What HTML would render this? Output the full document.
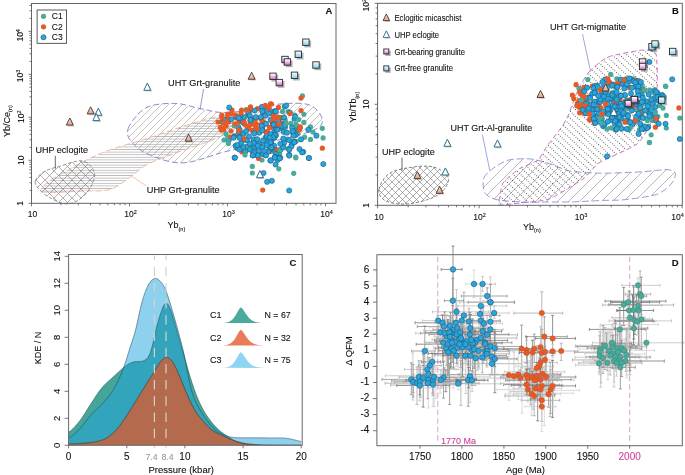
<!DOCTYPE html><html><head><meta charset="utf-8"><style>html,body{margin:0;padding:0;background:#fff;}svg{display:block;}text{font-family:"Liberation Sans", sans-serif;}</style></head><body>
<svg width="685" height="475" viewBox="0 0 685 475"><g opacity="0.999">
<defs>
<pattern id="hx" patternUnits="userSpaceOnUse" width="9" height="9"><path d="M0,0 L9,9 M9,0 L0,9" stroke="#7a7a7a" stroke-width="0.6"/></pattern>
<pattern id="hh" patternUnits="userSpaceOnUse" width="6" height="2.6"><path d="M0,1.3 L6,1.3" stroke="#8a8a8a" stroke-width="0.55"/></pattern>
<pattern id="hs" patternUnits="userSpaceOnUse" width="7" height="7"><path d="M-1,8 L8,-1 M-1,1 L1,-1 M6,8 L8,6" stroke="#999" stroke-width="0.55"/></pattern>
<pattern id="hs2" patternUnits="userSpaceOnUse" width="11" height="11"><path d="M-1,12 L12,-1 M-1,1 L1,-1 M10,12 L12,10" stroke="#8a8a8a" stroke-width="0.6"/></pattern>
<pattern id="hd" patternUnits="userSpaceOnUse" width="2.4" height="5.0" patternTransform="rotate(43)"><rect x="0.75" y="2.0" width="0.85" height="0.85" fill="#3a3a3a"/></pattern>
<pattern id="hxB" patternUnits="userSpaceOnUse" width="7" height="7"><path d="M0,0 L7,7 M7,0 L0,7" stroke="#777" stroke-width="0.6"/></pattern>
<linearGradient id="gp" x1="0" y1="0" x2="0" y2="1"><stop offset="0" stop-color="#ffffff"/><stop offset="0.35" stop-color="#f6dcf2"/><stop offset="1" stop-color="#c964bf"/></linearGradient>
<linearGradient id="gb" x1="0" y1="0" x2="0" y2="1"><stop offset="0" stop-color="#ffffff"/><stop offset="1" stop-color="#7fd0f3"/></linearGradient>
<linearGradient id="gt" x1="0" y1="0" x2="0" y2="1"><stop offset="0" stop-color="#fde9de"/><stop offset="1" stop-color="#ec9d77"/></linearGradient>
</defs>
<path d="M128.0,129.0 C130.1,123.1 137.9,112.3 145.7,108.0 C153.5,103.7 165.5,103.3 174.6,103.4 C183.7,103.5 192.1,107.0 200.0,108.5 C207.9,110.0 213.7,112.2 222.0,112.5 C230.3,112.8 240.3,111.4 250.0,110.0 C259.7,108.6 270.1,104.8 280.0,104.0 C289.9,103.2 302.4,102.4 309.5,105.0 C316.6,107.6 321.8,115.1 322.3,119.4 C322.8,123.7 321.4,126.8 312.7,130.6 C304.0,134.4 284.4,138.5 270.0,142.0 C255.6,145.5 240.3,148.0 226.0,151.5 C211.7,155.0 196.3,162.1 184.0,162.8 C171.7,163.6 160.5,159.2 152.0,156.0 C143.5,152.8 137.0,148.0 133.0,143.5 C129.0,139.0 125.9,134.9 128.0,129.0Z" fill="url(#hs)" stroke="#7d80c8" stroke-width="0.9" stroke-dasharray="6 3"/>
<path d="M44.0,192.0 C37.8,190.6 42.8,186.4 47.0,182.7 C51.2,178.9 61.7,173.7 69.0,169.5 C76.3,165.3 83.7,161.1 91.0,157.7 C98.3,154.2 103.4,152.1 113.0,148.8 C122.6,145.5 136.2,142.0 148.5,138.0 C160.8,134.0 176.1,128.5 187.0,125.0 C197.9,121.5 207.2,118.7 214.0,117.0 C220.8,115.3 225.0,113.2 228.0,115.0 C231.0,116.8 234.0,124.0 232.0,128.0 C230.0,131.9 224.0,135.0 216.0,138.7 C208.0,142.4 195.2,145.8 184.0,150.0 C172.8,154.2 157.7,159.2 148.5,163.9 C139.3,168.6 135.4,173.7 129.0,178.0 C122.6,182.3 117.5,187.3 110.0,189.5 C102.5,191.7 95.0,190.6 84.0,191.0 C73.0,191.4 50.2,193.4 44.0,192.0Z" fill="url(#hh)" stroke="#f0b49c" stroke-width="0.9" stroke-dasharray="6 3"/>
<path d="M35.3,181.1 C36.1,178.3 39.5,174.4 43.7,171.9 C47.9,169.4 54.0,167.8 60.5,166.0 C67.0,164.2 76.8,159.9 82.4,160.9 C88.0,161.9 92.8,167.6 94.2,171.9 C95.6,176.2 93.3,182.4 90.8,187.0 C88.3,191.6 83.2,196.9 79.0,199.7 C74.8,202.5 70.6,204.3 65.6,203.9 C60.5,203.5 53.2,199.6 48.7,197.1 C44.2,194.6 40.8,191.4 38.6,188.7 C36.4,186.0 34.4,183.9 35.3,181.1Z" fill="url(#hx)" stroke="#777" stroke-width="0.8" stroke-dasharray="3.5 2"/>
<line x1="55.3" y1="155.8" x2="55.3" y2="168.7" stroke="#444" stroke-width="0.8"/>
<text x="35.4" y="153.0" font-size="9.00" text-anchor="start" fill="#111111" stroke="#111111" stroke-width="0.1" font-weight="normal" textLength="52.6" lengthAdjust="spacingAndGlyphs" >UHP eclogite</text>
<line x1="132.4" y1="176.7" x2="146" y2="185.7" stroke="#f0b49c" stroke-width="0.8"/>
<text x="146.8" y="192.7" font-size="9.00" text-anchor="start" fill="#111111" stroke="#111111" stroke-width="0.1" font-weight="normal" textLength="72.9" lengthAdjust="spacingAndGlyphs" >UHP Grt-granulite</text>
<line x1="203.5" y1="89" x2="200" y2="109.8" stroke="#7d80c8" stroke-width="0.8"/>
<text x="168.0" y="86.2" font-size="9.00" text-anchor="start" fill="#111111" stroke="#111111" stroke-width="0.1" font-weight="normal" textLength="72.4" lengthAdjust="spacingAndGlyphs" >UHT Grt-granulite</text>
<circle cx="288.1" cy="111.5" r="2.60" fill="#4aaa9b"/>
<circle cx="247.2" cy="147.4" r="2.60" fill="#4aaa9b"/>
<circle cx="291.7" cy="141.9" r="2.60" fill="#4aaa9b"/>
<circle cx="283.1" cy="146.4" r="2.60" fill="#4aaa9b"/>
<circle cx="287.4" cy="139.2" r="2.60" fill="#4aaa9b"/>
<circle cx="290.9" cy="123.4" r="2.60" fill="#4aaa9b"/>
<circle cx="278.2" cy="150.4" r="2.60" fill="#4aaa9b"/>
<circle cx="273.2" cy="151.5" r="2.60" fill="#4aaa9b"/>
<circle cx="297.5" cy="126.7" r="2.60" fill="#4aaa9b"/>
<circle cx="296.2" cy="141.3" r="2.60" fill="#4aaa9b"/>
<circle cx="282.9" cy="128.5" r="2.60" fill="#4aaa9b"/>
<circle cx="294.8" cy="115.0" r="2.60" fill="#4aaa9b"/>
<circle cx="285.1" cy="120.2" r="2.60" fill="#4aaa9b"/>
<circle cx="288.0" cy="148.6" r="2.60" fill="#4aaa9b"/>
<circle cx="279.6" cy="153.8" r="2.60" fill="#4aaa9b"/>
<circle cx="234.7" cy="135.7" r="2.60" fill="#4aaa9b"/>
<circle cx="297.7" cy="133.8" r="2.60" fill="#4aaa9b"/>
<circle cx="241.1" cy="142.2" r="2.60" fill="#4aaa9b"/>
<circle cx="285.5" cy="127.2" r="2.60" fill="#4aaa9b"/>
<circle cx="221.8" cy="115.1" r="2.60" fill="#e65a28"/>
<circle cx="231.1" cy="113.6" r="2.60" fill="#e65a28"/>
<circle cx="262.9" cy="113.1" r="2.60" fill="#e65a28"/>
<circle cx="243.6" cy="121.7" r="2.60" fill="#e65a28"/>
<circle cx="278.0" cy="128.5" r="2.60" fill="#e65a28"/>
<circle cx="239.2" cy="135.9" r="2.60" fill="#e65a28"/>
<circle cx="250.3" cy="124.6" r="2.60" fill="#e65a28"/>
<circle cx="272.6" cy="147.4" r="2.60" fill="#e65a28"/>
<circle cx="234.7" cy="124.2" r="2.60" fill="#e65a28"/>
<circle cx="267.4" cy="131.6" r="2.60" fill="#e65a28"/>
<circle cx="271.0" cy="112.1" r="2.60" fill="#e65a28"/>
<circle cx="256.2" cy="123.6" r="2.60" fill="#e65a28"/>
<circle cx="239.0" cy="121.8" r="2.60" fill="#e65a28"/>
<circle cx="271.3" cy="111.5" r="2.60" fill="#e65a28"/>
<circle cx="250.4" cy="110.2" r="2.60" fill="#e65a28"/>
<circle cx="241.5" cy="110.0" r="2.60" fill="#e65a28"/>
<circle cx="263.5" cy="122.0" r="2.60" fill="#e65a28"/>
<circle cx="227.3" cy="117.6" r="2.60" fill="#e65a28"/>
<circle cx="248.0" cy="114.6" r="2.60" fill="#e65a28"/>
<circle cx="275.8" cy="119.3" r="2.60" fill="#e65a28"/>
<circle cx="269.4" cy="127.4" r="2.60" fill="#e65a28"/>
<circle cx="223.1" cy="128.6" r="2.60" fill="#e65a28"/>
<circle cx="278.4" cy="107.4" r="2.60" fill="#e65a28"/>
<circle cx="239.0" cy="131.5" r="2.60" fill="#e65a28"/>
<circle cx="244.4" cy="123.9" r="2.60" fill="#e65a28"/>
<circle cx="262.1" cy="129.1" r="2.60" fill="#e65a28"/>
<circle cx="270.1" cy="151.3" r="2.60" fill="#e65a28"/>
<circle cx="273.0" cy="125.4" r="2.60" fill="#e65a28"/>
<circle cx="276.4" cy="149.7" r="2.60" fill="#e65a28"/>
<circle cx="223.5" cy="129.8" r="2.60" fill="#e65a28"/>
<circle cx="257.5" cy="108.7" r="2.60" fill="#e65a28"/>
<circle cx="249.0" cy="128.5" r="2.60" fill="#e65a28"/>
<circle cx="250.2" cy="117.1" r="2.60" fill="#e65a28"/>
<circle cx="221.8" cy="121.8" r="2.60" fill="#e65a28"/>
<circle cx="221.3" cy="130.1" r="2.60" fill="#e65a28"/>
<circle cx="250.5" cy="106.9" r="2.60" fill="#e65a28"/>
<circle cx="255.3" cy="119.1" r="2.60" fill="#e65a28"/>
<circle cx="228.6" cy="121.9" r="2.60" fill="#e65a28"/>
<circle cx="241.9" cy="151.8" r="2.60" fill="#e65a28"/>
<circle cx="281.5" cy="123.4" r="2.60" fill="#e65a28"/>
<circle cx="240.0" cy="146.9" r="2.60" fill="#e65a28"/>
<circle cx="274.9" cy="123.1" r="2.60" fill="#e65a28"/>
<circle cx="260.9" cy="124.7" r="2.60" fill="#e65a28"/>
<circle cx="272.4" cy="123.6" r="2.60" fill="#e65a28"/>
<circle cx="255.7" cy="126.5" r="2.60" fill="#e65a28"/>
<circle cx="271.5" cy="113.3" r="2.60" fill="#e65a28"/>
<circle cx="280.8" cy="117.6" r="2.60" fill="#e65a28"/>
<circle cx="252.2" cy="151.3" r="2.60" fill="#e65a28"/>
<circle cx="278.4" cy="117.6" r="2.60" fill="#e65a28"/>
<circle cx="236.5" cy="117.9" r="2.60" fill="#e65a28"/>
<circle cx="224.0" cy="119.6" r="2.60" fill="#2aa5dc" stroke="#1b5c80" stroke-width="0.6"/>
<circle cx="245.1" cy="139.9" r="2.60" fill="#2aa5dc" stroke="#1b5c80" stroke-width="0.6"/>
<circle cx="268.4" cy="107.8" r="2.60" fill="#2aa5dc" stroke="#1b5c80" stroke-width="0.6"/>
<circle cx="291.7" cy="145.0" r="2.60" fill="#2aa5dc" stroke="#1b5c80" stroke-width="0.6"/>
<circle cx="283.0" cy="124.7" r="2.60" fill="#2aa5dc" stroke="#1b5c80" stroke-width="0.6"/>
<circle cx="279.2" cy="118.6" r="2.60" fill="#2aa5dc" stroke="#1b5c80" stroke-width="0.6"/>
<circle cx="265.2" cy="115.7" r="2.60" fill="#2aa5dc" stroke="#1b5c80" stroke-width="0.6"/>
<circle cx="280.3" cy="149.9" r="2.60" fill="#2aa5dc" stroke="#1b5c80" stroke-width="0.6"/>
<circle cx="271.0" cy="139.2" r="2.60" fill="#2aa5dc" stroke="#1b5c80" stroke-width="0.6"/>
<circle cx="254.1" cy="147.7" r="2.60" fill="#2aa5dc" stroke="#1b5c80" stroke-width="0.6"/>
<circle cx="294.6" cy="130.5" r="2.60" fill="#2aa5dc" stroke="#1b5c80" stroke-width="0.6"/>
<circle cx="291.3" cy="146.6" r="2.60" fill="#2aa5dc" stroke="#1b5c80" stroke-width="0.6"/>
<circle cx="275.3" cy="117.2" r="2.60" fill="#2aa5dc" stroke="#1b5c80" stroke-width="0.6"/>
<circle cx="258.8" cy="143.9" r="2.60" fill="#2aa5dc" stroke="#1b5c80" stroke-width="0.6"/>
<circle cx="263.4" cy="154.3" r="2.60" fill="#2aa5dc" stroke="#1b5c80" stroke-width="0.6"/>
<circle cx="237.3" cy="148.1" r="2.60" fill="#2aa5dc" stroke="#1b5c80" stroke-width="0.6"/>
<circle cx="276.1" cy="153.9" r="2.60" fill="#2aa5dc" stroke="#1b5c80" stroke-width="0.6"/>
<circle cx="262.3" cy="127.7" r="2.60" fill="#2aa5dc" stroke="#1b5c80" stroke-width="0.6"/>
<circle cx="284.7" cy="106.6" r="2.60" fill="#2aa5dc" stroke="#1b5c80" stroke-width="0.6"/>
<circle cx="270.2" cy="142.5" r="2.60" fill="#2aa5dc" stroke="#1b5c80" stroke-width="0.6"/>
<circle cx="277.4" cy="129.0" r="2.60" fill="#2aa5dc" stroke="#1b5c80" stroke-width="0.6"/>
<circle cx="275.9" cy="135.3" r="2.60" fill="#2aa5dc" stroke="#1b5c80" stroke-width="0.6"/>
<circle cx="284.1" cy="142.7" r="2.60" fill="#2aa5dc" stroke="#1b5c80" stroke-width="0.6"/>
<circle cx="246.9" cy="139.9" r="2.60" fill="#2aa5dc" stroke="#1b5c80" stroke-width="0.6"/>
<circle cx="261.2" cy="118.8" r="2.60" fill="#2aa5dc" stroke="#1b5c80" stroke-width="0.6"/>
<circle cx="293.1" cy="133.1" r="2.60" fill="#2aa5dc" stroke="#1b5c80" stroke-width="0.6"/>
<circle cx="294.5" cy="118.8" r="2.60" fill="#2aa5dc" stroke="#1b5c80" stroke-width="0.6"/>
<circle cx="255.1" cy="155.0" r="2.60" fill="#2aa5dc" stroke="#1b5c80" stroke-width="0.6"/>
<circle cx="278.3" cy="120.3" r="2.60" fill="#2aa5dc" stroke="#1b5c80" stroke-width="0.6"/>
<circle cx="252.8" cy="155.4" r="2.60" fill="#2aa5dc" stroke="#1b5c80" stroke-width="0.6"/>
<circle cx="238.8" cy="132.1" r="2.60" fill="#2aa5dc" stroke="#1b5c80" stroke-width="0.6"/>
<circle cx="253.6" cy="139.4" r="2.60" fill="#2aa5dc" stroke="#1b5c80" stroke-width="0.6"/>
<circle cx="239.9" cy="118.6" r="2.60" fill="#2aa5dc" stroke="#1b5c80" stroke-width="0.6"/>
<circle cx="238.5" cy="127.3" r="2.60" fill="#2aa5dc" stroke="#1b5c80" stroke-width="0.6"/>
<circle cx="264.7" cy="140.6" r="2.60" fill="#2aa5dc" stroke="#1b5c80" stroke-width="0.6"/>
<circle cx="267.3" cy="142.1" r="2.60" fill="#2aa5dc" stroke="#1b5c80" stroke-width="0.6"/>
<circle cx="271.2" cy="141.4" r="2.60" fill="#2aa5dc" stroke="#1b5c80" stroke-width="0.6"/>
<circle cx="223.0" cy="122.6" r="2.60" fill="#2aa5dc" stroke="#1b5c80" stroke-width="0.6"/>
<circle cx="255.3" cy="150.6" r="2.60" fill="#2aa5dc" stroke="#1b5c80" stroke-width="0.6"/>
<circle cx="245.3" cy="151.7" r="2.60" fill="#2aa5dc" stroke="#1b5c80" stroke-width="0.6"/>
<circle cx="262.1" cy="147.0" r="2.60" fill="#2aa5dc" stroke="#1b5c80" stroke-width="0.6"/>
<circle cx="274.4" cy="130.6" r="2.60" fill="#2aa5dc" stroke="#1b5c80" stroke-width="0.6"/>
<circle cx="251.8" cy="144.2" r="2.60" fill="#2aa5dc" stroke="#1b5c80" stroke-width="0.6"/>
<circle cx="283.6" cy="131.8" r="2.60" fill="#2aa5dc" stroke="#1b5c80" stroke-width="0.6"/>
<circle cx="271.6" cy="144.5" r="2.60" fill="#2aa5dc" stroke="#1b5c80" stroke-width="0.6"/>
<circle cx="248.2" cy="112.3" r="2.60" fill="#2aa5dc" stroke="#1b5c80" stroke-width="0.6"/>
<circle cx="233.9" cy="136.7" r="2.60" fill="#2aa5dc" stroke="#1b5c80" stroke-width="0.6"/>
<circle cx="278.4" cy="128.6" r="2.60" fill="#2aa5dc" stroke="#1b5c80" stroke-width="0.6"/>
<circle cx="235.9" cy="116.2" r="2.60" fill="#2aa5dc" stroke="#1b5c80" stroke-width="0.6"/>
<circle cx="295.7" cy="134.9" r="2.60" fill="#2aa5dc" stroke="#1b5c80" stroke-width="0.6"/>
<circle cx="263.8" cy="110.3" r="2.60" fill="#2aa5dc" stroke="#1b5c80" stroke-width="0.6"/>
<circle cx="300.0" cy="127.8" r="2.60" fill="#2aa5dc" stroke="#1b5c80" stroke-width="0.6"/>
<circle cx="294.2" cy="141.6" r="2.60" fill="#2aa5dc" stroke="#1b5c80" stroke-width="0.6"/>
<circle cx="250.9" cy="119.8" r="2.60" fill="#2aa5dc" stroke="#1b5c80" stroke-width="0.6"/>
<circle cx="251.5" cy="120.2" r="2.60" fill="#2aa5dc" stroke="#1b5c80" stroke-width="0.6"/>
<circle cx="258.3" cy="153.6" r="2.60" fill="#2aa5dc" stroke="#1b5c80" stroke-width="0.6"/>
<circle cx="293.5" cy="131.9" r="2.60" fill="#2aa5dc" stroke="#1b5c80" stroke-width="0.6"/>
<circle cx="241.4" cy="118.7" r="2.60" fill="#2aa5dc" stroke="#1b5c80" stroke-width="0.6"/>
<circle cx="289.9" cy="112.6" r="2.60" fill="#2aa5dc" stroke="#1b5c80" stroke-width="0.6"/>
<circle cx="254.7" cy="110.6" r="2.60" fill="#2aa5dc" stroke="#1b5c80" stroke-width="0.6"/>
<circle cx="282.2" cy="126.0" r="2.60" fill="#2aa5dc" stroke="#1b5c80" stroke-width="0.6"/>
<circle cx="235.6" cy="145.9" r="2.60" fill="#2aa5dc" stroke="#1b5c80" stroke-width="0.6"/>
<circle cx="259.3" cy="132.7" r="2.60" fill="#2aa5dc" stroke="#1b5c80" stroke-width="0.6"/>
<circle cx="267.6" cy="134.4" r="2.60" fill="#2aa5dc" stroke="#1b5c80" stroke-width="0.6"/>
<circle cx="228.7" cy="140.6" r="2.60" fill="#2aa5dc" stroke="#1b5c80" stroke-width="0.6"/>
<circle cx="271.9" cy="146.5" r="2.60" fill="#2aa5dc" stroke="#1b5c80" stroke-width="0.6"/>
<circle cx="239.7" cy="130.2" r="2.60" fill="#2aa5dc" stroke="#1b5c80" stroke-width="0.6"/>
<circle cx="270.6" cy="119.7" r="2.60" fill="#2aa5dc" stroke="#1b5c80" stroke-width="0.6"/>
<circle cx="284.9" cy="125.6" r="2.60" fill="#2aa5dc" stroke="#1b5c80" stroke-width="0.6"/>
<circle cx="269.8" cy="147.9" r="2.60" fill="#2aa5dc" stroke="#1b5c80" stroke-width="0.6"/>
<circle cx="295.2" cy="116.6" r="2.60" fill="#2aa5dc" stroke="#1b5c80" stroke-width="0.6"/>
<circle cx="246.6" cy="146.7" r="2.60" fill="#2aa5dc" stroke="#1b5c80" stroke-width="0.6"/>
<circle cx="265.8" cy="137.6" r="2.60" fill="#2aa5dc" stroke="#1b5c80" stroke-width="0.6"/>
<circle cx="254.5" cy="130.8" r="2.60" fill="#2aa5dc" stroke="#1b5c80" stroke-width="0.6"/>
<circle cx="266.9" cy="135.9" r="2.60" fill="#2aa5dc" stroke="#1b5c80" stroke-width="0.6"/>
<circle cx="243.1" cy="122.5" r="2.60" fill="#2aa5dc" stroke="#1b5c80" stroke-width="0.6"/>
<circle cx="271.8" cy="148.9" r="2.60" fill="#2aa5dc" stroke="#1b5c80" stroke-width="0.6"/>
<circle cx="261.9" cy="106.9" r="2.60" fill="#2aa5dc" stroke="#1b5c80" stroke-width="0.6"/>
<circle cx="243.5" cy="133.7" r="2.60" fill="#2aa5dc" stroke="#1b5c80" stroke-width="0.6"/>
<circle cx="271.6" cy="111.7" r="2.60" fill="#2aa5dc" stroke="#1b5c80" stroke-width="0.6"/>
<circle cx="274.4" cy="138.0" r="2.60" fill="#2aa5dc" stroke="#1b5c80" stroke-width="0.6"/>
<circle cx="246.1" cy="109.7" r="2.60" fill="#4aaa9b"/>
<circle cx="234.3" cy="126.0" r="2.60" fill="#4aaa9b"/>
<circle cx="227.7" cy="137.0" r="2.60" fill="#4aaa9b"/>
<circle cx="228.4" cy="143.6" r="2.60" fill="#4aaa9b"/>
<circle cx="248.3" cy="147.3" r="2.60" fill="#4aaa9b"/>
<circle cx="302.4" cy="95.9" r="2.60" fill="#4aaa9b"/>
<circle cx="282.5" cy="111.4" r="2.60" fill="#4aaa9b"/>
<circle cx="303.9" cy="114.3" r="2.60" fill="#4aaa9b"/>
<circle cx="298.7" cy="119.5" r="2.60" fill="#4aaa9b"/>
<circle cx="303.9" cy="122.4" r="2.60" fill="#4aaa9b"/>
<circle cx="286.2" cy="123.2" r="2.60" fill="#4aaa9b"/>
<circle cx="310.5" cy="126.8" r="2.60" fill="#4aaa9b"/>
<circle cx="322.3" cy="128.3" r="2.60" fill="#4aaa9b"/>
<circle cx="323.1" cy="137.9" r="2.60" fill="#4aaa9b"/>
<circle cx="310.5" cy="139.4" r="2.60" fill="#4aaa9b"/>
<circle cx="304.6" cy="137.2" r="2.60" fill="#4aaa9b"/>
<circle cx="295.8" cy="157.8" r="2.60" fill="#4aaa9b"/>
<circle cx="252.3" cy="166.4" r="2.60" fill="#4aaa9b"/>
<circle cx="252.3" cy="173.0" r="2.60" fill="#4aaa9b"/>
<circle cx="278.8" cy="168.8" r="2.60" fill="#4aaa9b"/>
<circle cx="295.7" cy="157.2" r="2.60" fill="#4aaa9b"/>
<circle cx="293.7" cy="173.3" r="2.60" fill="#4aaa9b"/>
<circle cx="226.0" cy="134.0" r="2.60" fill="#4aaa9b"/>
<circle cx="224.0" cy="140.0" r="2.60" fill="#4aaa9b"/>
<circle cx="296.0" cy="124.0" r="2.60" fill="#4aaa9b"/>
<circle cx="313.0" cy="132.0" r="2.60" fill="#4aaa9b"/>
<circle cx="280.0" cy="150.0" r="2.60" fill="#4aaa9b"/>
<circle cx="262.0" cy="160.0" r="2.60" fill="#4aaa9b"/>
<circle cx="245.0" cy="155.0" r="2.60" fill="#4aaa9b"/>
<circle cx="273.4" cy="120.8" r="2.60" fill="#e65a28"/>
<circle cx="230.6" cy="137.0" r="2.60" fill="#e65a28"/>
<circle cx="241.0" cy="113.4" r="2.60" fill="#e65a28"/>
<circle cx="221.8" cy="117.8" r="2.60" fill="#e65a28"/>
<circle cx="301.0" cy="98.1" r="2.60" fill="#e65a28"/>
<circle cx="273.0" cy="120.2" r="2.60" fill="#e65a28"/>
<circle cx="270.4" cy="103.8" r="2.60" fill="#e65a28"/>
<circle cx="277.8" cy="117.1" r="2.60" fill="#e65a28"/>
<circle cx="246.8" cy="126.0" r="2.60" fill="#e65a28"/>
<circle cx="231.0" cy="131.0" r="2.60" fill="#e65a28"/>
<circle cx="243.9" cy="138.5" r="2.60" fill="#e65a28"/>
<circle cx="244.0" cy="122.0" r="2.60" fill="#e65a28"/>
<circle cx="218.0" cy="122.0" r="2.60" fill="#e65a28"/>
<circle cx="322.3" cy="148.2" r="2.60" fill="#e65a28"/>
<circle cx="247.0" cy="110.0" r="2.60" fill="#e65a28"/>
<circle cx="300.2" cy="126.8" r="2.60" fill="#e65a28"/>
<circle cx="238.7" cy="130.4" r="2.60" fill="#e65a28"/>
<circle cx="227.0" cy="121.5" r="2.60" fill="#e65a28"/>
<circle cx="269.0" cy="108.3" r="2.60" fill="#e65a28"/>
<circle cx="262.0" cy="120.0" r="2.60" fill="#e65a28"/>
<circle cx="278.8" cy="117.3" r="2.60" fill="#e65a28"/>
<circle cx="299.5" cy="129.8" r="2.60" fill="#e65a28"/>
<circle cx="278.8" cy="123.9" r="2.60" fill="#e65a28"/>
<circle cx="254.2" cy="124.5" r="2.60" fill="#e65a28"/>
<circle cx="235.0" cy="114.9" r="2.60" fill="#e65a28"/>
<circle cx="271.5" cy="104.0" r="2.60" fill="#e65a28"/>
<circle cx="226.2" cy="126.0" r="2.60" fill="#e65a28"/>
<circle cx="266.0" cy="131.9" r="2.60" fill="#e65a28"/>
<circle cx="236.0" cy="124.0" r="2.60" fill="#e65a28"/>
<circle cx="270.4" cy="127.4" r="2.60" fill="#e65a28"/>
<circle cx="232.0" cy="110.0" r="2.60" fill="#e65a28"/>
<circle cx="301.0" cy="110.6" r="2.60" fill="#e65a28"/>
<circle cx="257.2" cy="128.9" r="2.60" fill="#e65a28"/>
<circle cx="224.0" cy="123.0" r="2.60" fill="#e65a28"/>
<circle cx="289.9" cy="113.6" r="2.60" fill="#e65a28"/>
<circle cx="250.0" cy="121.0" r="2.60" fill="#e65a28"/>
<circle cx="227.7" cy="114.2" r="2.60" fill="#e65a28"/>
<circle cx="252.0" cy="130.4" r="2.60" fill="#e65a28"/>
<circle cx="262.7" cy="190.1" r="2.60" fill="#e65a28"/>
<circle cx="258.6" cy="158.4" r="2.60" fill="#e65a28"/>
<circle cx="265.3" cy="105.3" r="2.60" fill="#e65a28"/>
<circle cx="273.4" cy="115.6" r="2.60" fill="#e65a28"/>
<circle cx="276.3" cy="124.5" r="2.60" fill="#e65a28"/>
<circle cx="220.3" cy="127.4" r="2.60" fill="#e65a28"/>
<circle cx="266.0" cy="123.7" r="2.60" fill="#2aa5dc" stroke="#1b5c80" stroke-width="0.6"/>
<circle cx="294.3" cy="142.3" r="2.60" fill="#2aa5dc" stroke="#1b5c80" stroke-width="0.6"/>
<circle cx="275.6" cy="164.5" r="2.60" fill="#2aa5dc" stroke="#1b5c80" stroke-width="0.6"/>
<circle cx="270.4" cy="160.6" r="2.60" fill="#2aa5dc" stroke="#1b5c80" stroke-width="0.6"/>
<circle cx="276.3" cy="129.6" r="2.60" fill="#2aa5dc" stroke="#1b5c80" stroke-width="0.6"/>
<circle cx="316.4" cy="135.7" r="2.60" fill="#2aa5dc" stroke="#1b5c80" stroke-width="0.6"/>
<circle cx="287.0" cy="132.7" r="2.60" fill="#2aa5dc" stroke="#1b5c80" stroke-width="0.6"/>
<circle cx="273.4" cy="124.5" r="2.60" fill="#2aa5dc" stroke="#1b5c80" stroke-width="0.6"/>
<circle cx="303.2" cy="151.9" r="2.60" fill="#2aa5dc" stroke="#1b5c80" stroke-width="0.6"/>
<circle cx="241.0" cy="143.6" r="2.60" fill="#2aa5dc" stroke="#1b5c80" stroke-width="0.6"/>
<circle cx="280.3" cy="157.8" r="2.60" fill="#2aa5dc" stroke="#1b5c80" stroke-width="0.6"/>
<circle cx="257.9" cy="145.8" r="2.60" fill="#2aa5dc" stroke="#1b5c80" stroke-width="0.6"/>
<circle cx="273.7" cy="124.6" r="2.60" fill="#2aa5dc" stroke="#1b5c80" stroke-width="0.6"/>
<circle cx="274.1" cy="145.8" r="2.60" fill="#2aa5dc" stroke="#1b5c80" stroke-width="0.6"/>
<circle cx="308.8" cy="158.0" r="2.60" fill="#2aa5dc" stroke="#1b5c80" stroke-width="0.6"/>
<circle cx="270.8" cy="160.4" r="2.60" fill="#2aa5dc" stroke="#1b5c80" stroke-width="0.6"/>
<circle cx="249.8" cy="115.6" r="2.60" fill="#2aa5dc" stroke="#1b5c80" stroke-width="0.6"/>
<circle cx="302.1" cy="152.4" r="2.60" fill="#2aa5dc" stroke="#1b5c80" stroke-width="0.6"/>
<circle cx="309.0" cy="158.1" r="2.60" fill="#2aa5dc" stroke="#1b5c80" stroke-width="0.6"/>
<circle cx="289.2" cy="154.8" r="2.60" fill="#2aa5dc" stroke="#1b5c80" stroke-width="0.6"/>
<circle cx="249.0" cy="136.3" r="2.60" fill="#2aa5dc" stroke="#1b5c80" stroke-width="0.6"/>
<circle cx="289.2" cy="190.5" r="2.60" fill="#2aa5dc" stroke="#1b5c80" stroke-width="0.6"/>
<circle cx="277.8" cy="159.8" r="2.60" fill="#2aa5dc" stroke="#1b5c80" stroke-width="0.6"/>
<circle cx="270.4" cy="142.2" r="2.60" fill="#2aa5dc" stroke="#1b5c80" stroke-width="0.6"/>
<circle cx="243.2" cy="147.3" r="2.60" fill="#2aa5dc" stroke="#1b5c80" stroke-width="0.6"/>
<circle cx="233.6" cy="137.7" r="2.60" fill="#2aa5dc" stroke="#1b5c80" stroke-width="0.6"/>
<circle cx="266.7" cy="145.1" r="2.60" fill="#2aa5dc" stroke="#1b5c80" stroke-width="0.6"/>
<circle cx="262.3" cy="147.3" r="2.60" fill="#2aa5dc" stroke="#1b5c80" stroke-width="0.6"/>
<circle cx="292.1" cy="127.6" r="2.60" fill="#2aa5dc" stroke="#1b5c80" stroke-width="0.6"/>
<circle cx="238.7" cy="117.8" r="2.60" fill="#2aa5dc" stroke="#1b5c80" stroke-width="0.6"/>
<circle cx="260.8" cy="117.1" r="2.60" fill="#2aa5dc" stroke="#1b5c80" stroke-width="0.6"/>
<circle cx="249.8" cy="149.5" r="2.60" fill="#2aa5dc" stroke="#1b5c80" stroke-width="0.6"/>
<circle cx="301.0" cy="139.4" r="2.60" fill="#2aa5dc" stroke="#1b5c80" stroke-width="0.6"/>
<circle cx="262.3" cy="111.2" r="2.60" fill="#2aa5dc" stroke="#1b5c80" stroke-width="0.6"/>
<circle cx="268.9" cy="113.4" r="2.60" fill="#2aa5dc" stroke="#1b5c80" stroke-width="0.6"/>
<circle cx="293.6" cy="135.7" r="2.60" fill="#2aa5dc" stroke="#1b5c80" stroke-width="0.6"/>
<circle cx="254.2" cy="152.5" r="2.60" fill="#2aa5dc" stroke="#1b5c80" stroke-width="0.6"/>
<circle cx="229.2" cy="107.5" r="2.60" fill="#2aa5dc" stroke="#1b5c80" stroke-width="0.6"/>
<circle cx="271.9" cy="148.0" r="2.60" fill="#2aa5dc" stroke="#1b5c80" stroke-width="0.6"/>
<circle cx="239.5" cy="149.5" r="2.60" fill="#2aa5dc" stroke="#1b5c80" stroke-width="0.6"/>
<circle cx="308.3" cy="129.8" r="2.60" fill="#2aa5dc" stroke="#1b5c80" stroke-width="0.6"/>
<circle cx="274.8" cy="134.8" r="2.60" fill="#2aa5dc" stroke="#1b5c80" stroke-width="0.6"/>
<circle cx="286.2" cy="105.5" r="2.60" fill="#2aa5dc" stroke="#1b5c80" stroke-width="0.6"/>
<circle cx="253.5" cy="142.9" r="2.60" fill="#2aa5dc" stroke="#1b5c80" stroke-width="0.6"/>
<circle cx="268.2" cy="151.7" r="2.60" fill="#2aa5dc" stroke="#1b5c80" stroke-width="0.6"/>
<circle cx="250.5" cy="120.0" r="2.60" fill="#2aa5dc" stroke="#1b5c80" stroke-width="0.6"/>
<circle cx="246.1" cy="131.1" r="2.60" fill="#2aa5dc" stroke="#1b5c80" stroke-width="0.6"/>
<circle cx="263.5" cy="173.0" r="2.60" fill="#2aa5dc" stroke="#1b5c80" stroke-width="0.6"/>
<circle cx="271.5" cy="147.5" r="2.60" fill="#2aa5dc" stroke="#1b5c80" stroke-width="0.6"/>
<circle cx="234.6" cy="157.7" r="2.60" fill="#2aa5dc" stroke="#1b5c80" stroke-width="0.6"/>
<circle cx="239.5" cy="137.7" r="2.60" fill="#2aa5dc" stroke="#1b5c80" stroke-width="0.6"/>
<circle cx="283.3" cy="138.6" r="2.60" fill="#2aa5dc" stroke="#1b5c80" stroke-width="0.6"/>
<circle cx="283.3" cy="147.5" r="2.60" fill="#2aa5dc" stroke="#1b5c80" stroke-width="0.6"/>
<circle cx="274.8" cy="111.2" r="2.60" fill="#2aa5dc" stroke="#1b5c80" stroke-width="0.6"/>
<circle cx="277.4" cy="129.8" r="2.60" fill="#2aa5dc" stroke="#1b5c80" stroke-width="0.6"/>
<circle cx="275.2" cy="157.0" r="2.60" fill="#2aa5dc" stroke="#1b5c80" stroke-width="0.6"/>
<circle cx="263.0" cy="153.9" r="2.60" fill="#2aa5dc" stroke="#1b5c80" stroke-width="0.6"/>
<circle cx="270.4" cy="134.0" r="2.60" fill="#2aa5dc" stroke="#1b5c80" stroke-width="0.6"/>
<circle cx="254.2" cy="133.3" r="2.60" fill="#2aa5dc" stroke="#1b5c80" stroke-width="0.6"/>
<circle cx="261.6" cy="125.9" r="2.60" fill="#2aa5dc" stroke="#1b5c80" stroke-width="0.6"/>
<circle cx="284.0" cy="117.3" r="2.60" fill="#2aa5dc" stroke="#1b5c80" stroke-width="0.6"/>
<circle cx="231.4" cy="119.3" r="2.60" fill="#2aa5dc" stroke="#1b5c80" stroke-width="0.6"/>
<circle cx="273.0" cy="137.2" r="2.60" fill="#2aa5dc" stroke="#1b5c80" stroke-width="0.6"/>
<circle cx="255.7" cy="117.1" r="2.60" fill="#2aa5dc" stroke="#1b5c80" stroke-width="0.6"/>
<circle cx="249.8" cy="143.6" r="2.60" fill="#2aa5dc" stroke="#1b5c80" stroke-width="0.6"/>
<circle cx="289.2" cy="140.1" r="2.60" fill="#2aa5dc" stroke="#1b5c80" stroke-width="0.6"/>
<circle cx="258.6" cy="151.0" r="2.60" fill="#2aa5dc" stroke="#1b5c80" stroke-width="0.6"/>
<circle cx="252.7" cy="155.4" r="2.60" fill="#2aa5dc" stroke="#1b5c80" stroke-width="0.6"/>
<circle cx="274.8" cy="157.2" r="2.60" fill="#2aa5dc" stroke="#1b5c80" stroke-width="0.6"/>
<circle cx="264.5" cy="151.0" r="2.60" fill="#2aa5dc" stroke="#1b5c80" stroke-width="0.6"/>
<circle cx="275.9" cy="111.4" r="2.60" fill="#2aa5dc" stroke="#1b5c80" stroke-width="0.6"/>
<circle cx="267.1" cy="181.8" r="2.60" fill="#2aa5dc" stroke="#1b5c80" stroke-width="0.6"/>
<circle cx="266.0" cy="155.4" r="2.60" fill="#2aa5dc" stroke="#1b5c80" stroke-width="0.6"/>
<circle cx="292.8" cy="131.3" r="2.60" fill="#2aa5dc" stroke="#1b5c80" stroke-width="0.6"/>
<circle cx="280.3" cy="143.8" r="2.60" fill="#2aa5dc" stroke="#1b5c80" stroke-width="0.6"/>
<circle cx="289.2" cy="149.7" r="2.60" fill="#2aa5dc" stroke="#1b5c80" stroke-width="0.6"/>
<circle cx="237.3" cy="145.1" r="2.60" fill="#2aa5dc" stroke="#1b5c80" stroke-width="0.6"/>
<circle cx="269.7" cy="137.7" r="2.60" fill="#2aa5dc" stroke="#1b5c80" stroke-width="0.6"/>
<circle cx="279.6" cy="158.4" r="2.60" fill="#2aa5dc" stroke="#1b5c80" stroke-width="0.6"/>
<circle cx="274.8" cy="157.6" r="2.60" fill="#2aa5dc" stroke="#1b5c80" stroke-width="0.6"/>
<circle cx="323.3" cy="164.1" r="2.60" fill="#2aa5dc" stroke="#1b5c80" stroke-width="0.6"/>
<circle cx="257.9" cy="155.4" r="2.60" fill="#2aa5dc" stroke="#1b5c80" stroke-width="0.6"/>
<circle cx="244.6" cy="117.1" r="2.60" fill="#2aa5dc" stroke="#1b5c80" stroke-width="0.6"/>
<circle cx="289.2" cy="155.6" r="2.60" fill="#2aa5dc" stroke="#1b5c80" stroke-width="0.6"/>
<circle cx="235.0" cy="157.6" r="2.60" fill="#2aa5dc" stroke="#1b5c80" stroke-width="0.6"/>
<circle cx="299.5" cy="149.0" r="2.60" fill="#2aa5dc" stroke="#1b5c80" stroke-width="0.6"/>
<circle cx="263.0" cy="140.7" r="2.60" fill="#2aa5dc" stroke="#1b5c80" stroke-width="0.6"/>
<circle cx="262.3" cy="130.4" r="2.60" fill="#2aa5dc" stroke="#1b5c80" stroke-width="0.6"/>
<circle cx="257.2" cy="139.2" r="2.60" fill="#2aa5dc" stroke="#1b5c80" stroke-width="0.6"/>
<circle cx="271.9" cy="180.8" r="2.60" fill="#2aa5dc" stroke="#1b5c80" stroke-width="0.6"/>
<polygon points="71.1,119.3 67.6,126.4 74.6,126.4" fill="#333" opacity="0.25"/>
<polygon points="69.8,118.0 66.3,125.1 73.3,125.1" fill="url(#gt)" stroke="#3a3a3a" stroke-width="0.9" stroke-linejoin="round"/>
<polygon points="91.9,108.1 88.4,115.2 95.4,115.2" fill="#333" opacity="0.25"/>
<polygon points="90.6,106.8 87.1,113.9 94.1,113.9" fill="url(#gt)" stroke="#3a3a3a" stroke-width="0.9" stroke-linejoin="round"/>
<polygon points="189.9,135.4 186.4,142.5 193.4,142.5" fill="#333" opacity="0.25"/>
<polygon points="188.6,134.1 185.1,141.2 192.1,141.2" fill="url(#gt)" stroke="#3a3a3a" stroke-width="0.9" stroke-linejoin="round"/>
<polygon points="252.9,73.5 249.4,80.6 256.4,80.6" fill="#333" opacity="0.25"/>
<polygon points="251.6,72.2 248.1,79.3 255.1,79.3" fill="url(#gt)" stroke="#3a3a3a" stroke-width="0.9" stroke-linejoin="round"/>
<polygon points="148.6,84.5 145.1,91.6 152.1,91.6" fill="#333" opacity="0.25"/>
<polygon points="147.3,83.2 143.8,90.3 150.8,90.3" fill="#ffffff" stroke="#2f6f8a" stroke-width="1" stroke-linejoin="round"/>
<polygon points="99.6,109.5 96.1,116.6 103.1,116.6" fill="#333" opacity="0.25"/>
<polygon points="98.3,108.2 94.8,115.3 101.8,115.3" fill="#ffffff" stroke="#2f6f8a" stroke-width="1" stroke-linejoin="round"/>
<polygon points="97.6,114.8 94.1,121.9 101.1,121.9" fill="#333" opacity="0.25"/>
<polygon points="96.3,113.5 92.8,120.6 99.8,120.6" fill="#ffffff" stroke="#2f6f8a" stroke-width="1" stroke-linejoin="round"/>
<polygon points="261.2,171.9 257.7,179.0 264.7,179.0" fill="#333" opacity="0.25"/>
<polygon points="259.9,170.6 256.4,177.7 263.4,177.7" fill="#ffffff" stroke="#2f6f8a" stroke-width="1" stroke-linejoin="round"/>
<rect x="283.4" y="57.9" width="6.8" height="6.8" fill="#222" opacity="0.35"/>
<rect x="281.8" y="56.3" width="6.4" height="6.4" fill="url(#gp)" stroke="#2a2a2a" stroke-width="0.9"/>
<rect x="285.8" y="60.4" width="6.8" height="6.8" fill="#222" opacity="0.35"/>
<rect x="284.2" y="58.8" width="6.4" height="6.4" fill="url(#gp)" stroke="#2a2a2a" stroke-width="0.9"/>
<rect x="271.4" y="74.7" width="6.8" height="6.8" fill="#222" opacity="0.35"/>
<rect x="269.8" y="73.1" width="6.4" height="6.4" fill="url(#gp)" stroke="#2a2a2a" stroke-width="0.9"/>
<rect x="277.7" y="81.0" width="6.8" height="6.8" fill="#222" opacity="0.35"/>
<rect x="276.1" y="79.4" width="6.4" height="6.4" fill="url(#gp)" stroke="#2a2a2a" stroke-width="0.9"/>
<rect x="304.3" y="40.6" width="6.8" height="6.8" fill="#222" opacity="0.35"/>
<rect x="302.7" y="39.0" width="6.4" height="6.4" fill="url(#gb)" stroke="#2a2a2a" stroke-width="0.9"/>
<rect x="296.7" y="52.7" width="6.8" height="6.8" fill="#222" opacity="0.35"/>
<rect x="295.1" y="51.1" width="6.4" height="6.4" fill="url(#gb)" stroke="#2a2a2a" stroke-width="0.9"/>
<rect x="314.4" y="63.4" width="6.8" height="6.8" fill="#222" opacity="0.35"/>
<rect x="312.8" y="61.8" width="6.4" height="6.4" fill="url(#gb)" stroke="#2a2a2a" stroke-width="0.9"/>
<rect x="292.9" y="73.7" width="6.8" height="6.8" fill="#222" opacity="0.35"/>
<rect x="291.3" y="72.1" width="6.4" height="6.4" fill="url(#gb)" stroke="#2a2a2a" stroke-width="0.9"/>
<rect x="31.5" y="3.5" width="304.5" height="199.8" fill="none" stroke="#666" stroke-width="1"/>
<path d="M31.5,203.3 h-3 M31.5,190.4 h-2 M31.5,182.8 h-2 M31.5,177.4 h-2 M31.5,173.2 h-2 M31.5,169.8 h-2 M31.5,167.0 h-2 M31.5,164.5 h-2 M31.5,162.3 h-2 M31.5,160.3 h-3 M31.5,147.4 h-2 M31.5,139.8 h-2 M31.5,134.4 h-2 M31.5,130.2 h-2 M31.5,126.8 h-2 M31.5,124.0 h-2 M31.5,121.5 h-2 M31.5,119.3 h-2 M31.5,117.3 h-3 M31.5,104.4 h-2 M31.5,96.8 h-2 M31.5,91.4 h-2 M31.5,87.2 h-2 M31.5,83.8 h-2 M31.5,81.0 h-2 M31.5,78.5 h-2 M31.5,76.3 h-2 M31.5,74.3 h-3 M31.5,61.4 h-2 M31.5,53.8 h-2 M31.5,48.4 h-2 M31.5,44.2 h-2 M31.5,40.8 h-2 M31.5,38.0 h-2 M31.5,35.5 h-2 M31.5,33.3 h-2 M31.5,31.3 h-3 M31.5,18.4 h-2 M31.5,10.8 h-2 M31.5,5.4 h-2 M31.5,203.3 v3 M61.0,203.3 v2 M78.3,203.3 v2 M90.5,203.3 v2 M100.0,203.3 v2 M107.8,203.3 v2 M114.3,203.3 v2 M120.0,203.3 v2 M125.0,203.3 v2 M129.5,203.3 v3 M159.0,203.3 v2 M176.3,203.3 v2 M188.5,203.3 v2 M198.0,203.3 v2 M205.8,203.3 v2 M212.3,203.3 v2 M218.0,203.3 v2 M223.0,203.3 v2 M227.5,203.3 v3 M257.0,203.3 v2 M274.3,203.3 v2 M286.5,203.3 v2 M296.0,203.3 v2 M303.8,203.3 v2 M310.3,203.3 v2 M316.0,203.3 v2 M321.0,203.3 v2 M325.5,203.3 v3" stroke="#555" stroke-width="0.8" fill="none"/>
<text x="23.5" y="205.7" font-size="8.5" text-anchor="start" fill="#111111" stroke="#111111" stroke-width="0.1" transform="rotate(-90 23.5 205.7)">1</text>
<text x="23.5" y="165.0" font-size="8.5" text-anchor="start" fill="#111111" stroke="#111111" stroke-width="0.1" transform="rotate(-90 23.5 165.0)">10</text>
<text x="23.5" y="123.0" font-size="8.5" text-anchor="start" fill="#111111" stroke="#111111" stroke-width="0.1" transform="rotate(-90 23.5 123.0)">10<tspan font-size="5.5" dy="-3">2</tspan></text>
<text x="23.5" y="82.3" font-size="8.5" text-anchor="start" fill="#111111" stroke="#111111" stroke-width="0.1" transform="rotate(-90 23.5 82.3)">10<tspan font-size="5.5" dy="-3">3</tspan></text>
<text x="23.5" y="41.6" font-size="8.5" text-anchor="start" fill="#111111" stroke="#111111" stroke-width="0.1" transform="rotate(-90 23.5 41.6)">10<tspan font-size="5.5" dy="-3">4</tspan></text>
<text x="32.5" y="217.0" font-size="8.5" text-anchor="middle" fill="#111111" stroke="#111111" stroke-width="0.1">10</text>
<text x="130.5" y="217.0" font-size="8.5" text-anchor="middle" fill="#111111" stroke="#111111" stroke-width="0.1">10<tspan font-size="5.5" dy="-3">2</tspan></text>
<text x="228.5" y="217.0" font-size="8.5" text-anchor="middle" fill="#111111" stroke="#111111" stroke-width="0.1">10<tspan font-size="5.5" dy="-3">3</tspan></text>
<text x="326.5" y="217.0" font-size="8.5" text-anchor="middle" fill="#111111" stroke="#111111" stroke-width="0.1">10<tspan font-size="5.5" dy="-3">4</tspan></text>
<text x="167.5" y="228" font-size="9" fill="#111111" stroke="#111111" stroke-width="0.1">Yb<tspan font-size="5.5" dy="2.5">(n)</tspan></text>
<text x="0" y="0" font-size="9" fill="#111111" stroke="#111111" stroke-width="0.1" transform="translate(9.5 137) rotate(-90)">Yb/Ce<tspan font-size="5.5" dy="2.5">(n)</tspan></text>
<rect x="37.1" y="10" width="29.5" height="33.3" fill="#fff" stroke="#333" stroke-width="0.8"/>
<circle cx="43.5" cy="16.3" r="2.6" fill="#4aaa9b" stroke="none" stroke-width="0.6"/>
<text x="51.8" y="19.3" font-size="8.50" text-anchor="start" fill="#111111" stroke="#111111" stroke-width="0.1" font-weight="normal" >C1</text>
<circle cx="43.5" cy="26.8" r="2.6" fill="#e65a28" stroke="none" stroke-width="0.6"/>
<text x="51.8" y="29.8" font-size="8.50" text-anchor="start" fill="#111111" stroke="#111111" stroke-width="0.1" font-weight="normal" >C2</text>
<circle cx="43.5" cy="37.3" r="2.6" fill="#2aa5dc" stroke="#1b5c80" stroke-width="0.6"/>
<text x="51.8" y="40.3" font-size="8.50" text-anchor="start" fill="#111111" stroke="#111111" stroke-width="0.1" font-weight="normal" >C3</text>
<text x="329.0" y="13.8" font-size="9.50" text-anchor="middle" fill="#111111" stroke="#111111" stroke-width="0.1" font-weight="bold" >A</text>
<path d="M483.6,178.7 C484.5,175.6 488.4,171.9 491.7,169.4 C495.0,166.9 502.8,161.6 508.0,160.2 C513.2,158.8 525.1,158.4 531.0,159.0 C536.9,159.6 546.8,162.9 552.0,164.5 C557.2,166.1 563.6,169.8 570.0,171.0 C576.4,172.2 591.3,173.0 600.0,173.2 C608.7,173.4 627.8,172.5 635.0,172.2 C642.2,171.9 649.7,171.1 654.0,170.7 C658.3,170.3 664.1,169.2 667.0,169.5 C669.9,169.8 674.9,171.4 675.5,173.3 C676.1,175.2 673.7,181.1 671.2,183.9 C668.7,186.7 662.6,192.4 656.4,194.5 C650.2,196.6 631.8,198.9 624.7,199.7 C617.6,200.5 610.6,200.1 603.5,200.4 C596.4,200.7 579.1,201.7 571.8,201.9 C564.5,202.1 554.6,202.0 548.5,202.0 C542.4,202.0 533.4,202.5 526.4,202.2 C519.4,201.9 501.6,200.8 496.0,199.5 C490.4,198.2 486.4,195.4 484.7,192.6 C483.0,189.8 482.7,181.8 483.6,178.7Z" fill="url(#hs2)" stroke="#8b8fd0" stroke-width="0.9" stroke-dasharray="7 3"/>
<path d="M589.0,72.0 C592.0,68.7 602.6,59.2 608.0,57.0 C613.4,54.8 638.2,50.3 643.0,50.0 C647.8,49.7 654.6,50.1 656.0,54.0 C657.4,57.9 657.5,82.2 657.0,89.0 C656.5,95.8 653.0,116.5 651.0,122.0 C649.0,127.5 642.2,139.9 637.0,144.0 C631.8,148.1 604.4,159.5 599.0,163.0 C593.6,166.5 588.0,175.4 583.0,179.0 C578.0,182.6 555.3,196.6 549.0,199.0 C542.7,201.4 524.9,202.4 520.0,203.0 C515.1,203.6 502.1,205.1 500.0,205.0 C497.9,204.9 498.7,204.2 499.0,202.0 C499.3,199.8 501.0,186.3 503.0,183.0 C505.0,179.7 515.5,171.3 519.0,169.0 C522.5,166.7 535.2,162.3 538.0,160.0 C540.8,157.7 544.7,149.2 547.0,146.0 C549.3,142.8 558.9,131.0 561.0,128.0 C563.1,125.0 566.3,119.8 568.0,116.0 C569.7,112.2 575.9,94.4 578.0,90.0 C580.1,85.6 586.0,75.3 589.0,72.0Z" fill="url(#hd)" stroke="#c865c0" stroke-width="0.9" stroke-dasharray="5 3"/>
<path d="M379.0,189.4 C380.0,184.6 383.6,175.8 392.0,172.0 C400.4,168.2 420.1,165.3 429.5,166.3 C438.9,167.3 446.9,173.1 448.3,177.9 C449.7,182.7 444.6,190.7 438.0,195.0 C431.4,199.3 417.7,202.8 409.0,203.8 C400.3,204.8 391.0,203.4 386.0,201.0 C381.0,198.6 378.0,194.2 379.0,189.4Z" fill="url(#hxB)" stroke="#666" stroke-width="0.8" stroke-dasharray="3 2"/>
<line x1="402" y1="157.7" x2="402" y2="170.7" stroke="#444" stroke-width="0.8"/>
<text x="382.0" y="155.2" font-size="9.00" text-anchor="start" fill="#111111" stroke="#111111" stroke-width="0.1" font-weight="normal" textLength="52.7" lengthAdjust="spacingAndGlyphs" >UHP eclogite</text>
<line x1="482.4" y1="134.7" x2="489.8" y2="170.6" stroke="#8b8fd0" stroke-width="0.8"/>
<text x="450.5" y="130.5" font-size="9.00" text-anchor="start" fill="#111111" stroke="#111111" stroke-width="0.1" font-weight="normal" textLength="81.7" lengthAdjust="spacingAndGlyphs" >UHT Grt-Al-granulite</text>
<line x1="582.5" y1="34" x2="590.6" y2="71.5" stroke="#8b8fd0" stroke-width="0.8"/>
<text x="550.0" y="30.2" font-size="9.00" text-anchor="start" fill="#111111" stroke="#111111" stroke-width="0.1" font-weight="normal" textLength="76.0" lengthAdjust="spacingAndGlyphs" >UHT Grt-migmatite</text>
<circle cx="642.0" cy="104.4" r="2.60" fill="#4aaa9b"/>
<circle cx="645.3" cy="109.8" r="2.60" fill="#4aaa9b"/>
<circle cx="649.6" cy="117.2" r="2.60" fill="#4aaa9b"/>
<circle cx="658.9" cy="100.8" r="2.60" fill="#4aaa9b"/>
<circle cx="647.3" cy="120.6" r="2.60" fill="#4aaa9b"/>
<circle cx="607.6" cy="87.9" r="2.60" fill="#4aaa9b"/>
<circle cx="640.8" cy="124.9" r="2.60" fill="#4aaa9b"/>
<circle cx="625.9" cy="78.9" r="2.60" fill="#4aaa9b"/>
<circle cx="650.3" cy="104.6" r="2.60" fill="#4aaa9b"/>
<circle cx="652.3" cy="99.0" r="2.60" fill="#4aaa9b"/>
<circle cx="642.1" cy="90.7" r="2.60" fill="#4aaa9b"/>
<circle cx="634.7" cy="86.8" r="2.60" fill="#4aaa9b"/>
<circle cx="650.0" cy="102.1" r="2.60" fill="#4aaa9b"/>
<circle cx="628.1" cy="119.6" r="2.60" fill="#4aaa9b"/>
<circle cx="640.1" cy="107.2" r="2.60" fill="#4aaa9b"/>
<circle cx="599.3" cy="108.3" r="2.60" fill="#4aaa9b"/>
<circle cx="628.9" cy="129.8" r="2.60" fill="#4aaa9b"/>
<circle cx="600.8" cy="109.1" r="2.60" fill="#4aaa9b"/>
<circle cx="652.2" cy="120.5" r="2.60" fill="#4aaa9b"/>
<circle cx="657.8" cy="116.5" r="2.60" fill="#4aaa9b"/>
<circle cx="646.2" cy="102.6" r="2.60" fill="#4aaa9b"/>
<circle cx="589.0" cy="109.0" r="2.60" fill="#4aaa9b"/>
<circle cx="655.8" cy="100.9" r="2.60" fill="#4aaa9b"/>
<circle cx="641.5" cy="127.0" r="2.60" fill="#4aaa9b"/>
<circle cx="662.0" cy="94.5" r="2.60" fill="#4aaa9b"/>
<circle cx="633.4" cy="78.8" r="2.60" fill="#4aaa9b"/>
<circle cx="597.0" cy="120.2" r="2.60" fill="#4aaa9b"/>
<circle cx="641.9" cy="113.8" r="2.60" fill="#4aaa9b"/>
<circle cx="649.8" cy="90.0" r="2.60" fill="#4aaa9b"/>
<circle cx="642.2" cy="87.7" r="2.60" fill="#4aaa9b"/>
<circle cx="615.4" cy="96.7" r="2.60" fill="#4aaa9b"/>
<circle cx="646.9" cy="110.5" r="2.60" fill="#4aaa9b"/>
<circle cx="642.0" cy="85.6" r="2.60" fill="#4aaa9b"/>
<circle cx="616.9" cy="78.8" r="2.60" fill="#4aaa9b"/>
<circle cx="663.0" cy="108.1" r="2.60" fill="#4aaa9b"/>
<circle cx="604.3" cy="113.4" r="2.60" fill="#4aaa9b"/>
<circle cx="653.8" cy="92.4" r="2.60" fill="#4aaa9b"/>
<circle cx="636.5" cy="116.5" r="2.60" fill="#4aaa9b"/>
<circle cx="651.0" cy="117.5" r="2.60" fill="#4aaa9b"/>
<circle cx="624.6" cy="95.4" r="2.60" fill="#4aaa9b"/>
<circle cx="626.5" cy="109.1" r="2.60" fill="#4aaa9b"/>
<circle cx="611.5" cy="127.9" r="2.60" fill="#4aaa9b"/>
<circle cx="579.1" cy="100.6" r="2.60" fill="#e65a28"/>
<circle cx="586.6" cy="102.5" r="2.60" fill="#e65a28"/>
<circle cx="592.4" cy="86.1" r="2.60" fill="#e65a28"/>
<circle cx="578.2" cy="102.5" r="2.60" fill="#e65a28"/>
<circle cx="578.9" cy="106.9" r="2.60" fill="#e65a28"/>
<circle cx="580.6" cy="94.1" r="2.60" fill="#e65a28"/>
<circle cx="583.9" cy="87.3" r="2.60" fill="#e65a28"/>
<circle cx="636.3" cy="100.9" r="2.60" fill="#e65a28"/>
<circle cx="614.2" cy="102.3" r="2.60" fill="#e65a28"/>
<circle cx="630.0" cy="87.4" r="2.60" fill="#e65a28"/>
<circle cx="596.0" cy="109.1" r="2.60" fill="#e65a28"/>
<circle cx="582.6" cy="97.9" r="2.60" fill="#e65a28"/>
<circle cx="582.5" cy="112.1" r="2.60" fill="#e65a28"/>
<circle cx="582.9" cy="107.3" r="2.60" fill="#e65a28"/>
<circle cx="591.5" cy="107.2" r="2.60" fill="#e65a28"/>
<circle cx="627.1" cy="100.2" r="2.60" fill="#e65a28"/>
<circle cx="582.3" cy="90.6" r="2.60" fill="#e65a28"/>
<circle cx="584.8" cy="113.6" r="2.60" fill="#e65a28"/>
<circle cx="589.6" cy="119.3" r="2.60" fill="#e65a28"/>
<circle cx="598.2" cy="103.1" r="2.60" fill="#e65a28"/>
<circle cx="586.8" cy="107.6" r="2.60" fill="#e65a28"/>
<circle cx="611.7" cy="117.2" r="2.60" fill="#e65a28"/>
<circle cx="619.9" cy="83.2" r="2.60" fill="#e65a28"/>
<circle cx="637.5" cy="108.0" r="2.60" fill="#e65a28"/>
<circle cx="579.5" cy="107.1" r="2.60" fill="#e65a28"/>
<circle cx="589.9" cy="96.7" r="2.60" fill="#e65a28"/>
<circle cx="636.2" cy="80.3" r="2.60" fill="#e65a28"/>
<circle cx="582.0" cy="102.2" r="2.60" fill="#e65a28"/>
<circle cx="584.2" cy="99.3" r="2.60" fill="#e65a28"/>
<circle cx="593.8" cy="103.0" r="2.60" fill="#2aa5dc" stroke="#1b5c80" stroke-width="0.6"/>
<circle cx="605.5" cy="91.6" r="2.60" fill="#2aa5dc" stroke="#1b5c80" stroke-width="0.6"/>
<circle cx="594.8" cy="120.8" r="2.60" fill="#2aa5dc" stroke="#1b5c80" stroke-width="0.6"/>
<circle cx="625.5" cy="120.9" r="2.60" fill="#2aa5dc" stroke="#1b5c80" stroke-width="0.6"/>
<circle cx="644.5" cy="128.7" r="2.60" fill="#2aa5dc" stroke="#1b5c80" stroke-width="0.6"/>
<circle cx="601.8" cy="118.5" r="2.60" fill="#2aa5dc" stroke="#1b5c80" stroke-width="0.6"/>
<circle cx="609.8" cy="110.2" r="2.60" fill="#2aa5dc" stroke="#1b5c80" stroke-width="0.6"/>
<circle cx="627.6" cy="114.9" r="2.60" fill="#2aa5dc" stroke="#1b5c80" stroke-width="0.6"/>
<circle cx="636.0" cy="119.9" r="2.60" fill="#2aa5dc" stroke="#1b5c80" stroke-width="0.6"/>
<circle cx="618.6" cy="104.9" r="2.60" fill="#2aa5dc" stroke="#1b5c80" stroke-width="0.6"/>
<circle cx="594.7" cy="86.0" r="2.60" fill="#2aa5dc" stroke="#1b5c80" stroke-width="0.6"/>
<circle cx="603.2" cy="126.2" r="2.60" fill="#2aa5dc" stroke="#1b5c80" stroke-width="0.6"/>
<circle cx="603.3" cy="88.8" r="2.60" fill="#2aa5dc" stroke="#1b5c80" stroke-width="0.6"/>
<circle cx="635.6" cy="85.9" r="2.60" fill="#2aa5dc" stroke="#1b5c80" stroke-width="0.6"/>
<circle cx="596.8" cy="85.5" r="2.60" fill="#2aa5dc" stroke="#1b5c80" stroke-width="0.6"/>
<circle cx="626.5" cy="102.4" r="2.60" fill="#2aa5dc" stroke="#1b5c80" stroke-width="0.6"/>
<circle cx="604.1" cy="124.9" r="2.60" fill="#2aa5dc" stroke="#1b5c80" stroke-width="0.6"/>
<circle cx="652.6" cy="111.3" r="2.60" fill="#2aa5dc" stroke="#1b5c80" stroke-width="0.6"/>
<circle cx="646.1" cy="101.3" r="2.60" fill="#2aa5dc" stroke="#1b5c80" stroke-width="0.6"/>
<circle cx="629.2" cy="121.9" r="2.60" fill="#2aa5dc" stroke="#1b5c80" stroke-width="0.6"/>
<circle cx="638.4" cy="118.2" r="2.60" fill="#2aa5dc" stroke="#1b5c80" stroke-width="0.6"/>
<circle cx="634.7" cy="100.5" r="2.60" fill="#2aa5dc" stroke="#1b5c80" stroke-width="0.6"/>
<circle cx="606.5" cy="106.1" r="2.60" fill="#2aa5dc" stroke="#1b5c80" stroke-width="0.6"/>
<circle cx="594.1" cy="116.1" r="2.60" fill="#2aa5dc" stroke="#1b5c80" stroke-width="0.6"/>
<circle cx="641.2" cy="112.2" r="2.60" fill="#2aa5dc" stroke="#1b5c80" stroke-width="0.6"/>
<circle cx="630.3" cy="79.0" r="2.60" fill="#2aa5dc" stroke="#1b5c80" stroke-width="0.6"/>
<circle cx="643.1" cy="101.4" r="2.60" fill="#2aa5dc" stroke="#1b5c80" stroke-width="0.6"/>
<circle cx="652.7" cy="104.0" r="2.60" fill="#2aa5dc" stroke="#1b5c80" stroke-width="0.6"/>
<circle cx="633.4" cy="101.8" r="2.60" fill="#2aa5dc" stroke="#1b5c80" stroke-width="0.6"/>
<circle cx="623.6" cy="114.5" r="2.60" fill="#2aa5dc" stroke="#1b5c80" stroke-width="0.6"/>
<circle cx="659.5" cy="100.3" r="2.60" fill="#2aa5dc" stroke="#1b5c80" stroke-width="0.6"/>
<circle cx="608.9" cy="108.2" r="2.60" fill="#2aa5dc" stroke="#1b5c80" stroke-width="0.6"/>
<circle cx="591.1" cy="104.6" r="2.60" fill="#2aa5dc" stroke="#1b5c80" stroke-width="0.6"/>
<circle cx="620.7" cy="95.4" r="2.60" fill="#2aa5dc" stroke="#1b5c80" stroke-width="0.6"/>
<circle cx="634.1" cy="122.1" r="2.60" fill="#2aa5dc" stroke="#1b5c80" stroke-width="0.6"/>
<circle cx="611.5" cy="118.9" r="2.60" fill="#2aa5dc" stroke="#1b5c80" stroke-width="0.6"/>
<circle cx="620.8" cy="79.5" r="2.60" fill="#2aa5dc" stroke="#1b5c80" stroke-width="0.6"/>
<circle cx="615.3" cy="98.3" r="2.60" fill="#2aa5dc" stroke="#1b5c80" stroke-width="0.6"/>
<circle cx="615.8" cy="86.8" r="2.60" fill="#2aa5dc" stroke="#1b5c80" stroke-width="0.6"/>
<circle cx="623.0" cy="84.2" r="2.60" fill="#2aa5dc" stroke="#1b5c80" stroke-width="0.6"/>
<circle cx="578.1" cy="104.5" r="2.60" fill="#2aa5dc" stroke="#1b5c80" stroke-width="0.6"/>
<circle cx="641.9" cy="95.4" r="2.60" fill="#2aa5dc" stroke="#1b5c80" stroke-width="0.6"/>
<circle cx="630.4" cy="100.7" r="2.60" fill="#2aa5dc" stroke="#1b5c80" stroke-width="0.6"/>
<circle cx="586.9" cy="97.8" r="2.60" fill="#2aa5dc" stroke="#1b5c80" stroke-width="0.6"/>
<circle cx="623.6" cy="106.1" r="2.60" fill="#2aa5dc" stroke="#1b5c80" stroke-width="0.6"/>
<circle cx="637.7" cy="118.4" r="2.60" fill="#2aa5dc" stroke="#1b5c80" stroke-width="0.6"/>
<circle cx="585.8" cy="113.2" r="2.60" fill="#2aa5dc" stroke="#1b5c80" stroke-width="0.6"/>
<circle cx="612.8" cy="105.4" r="2.60" fill="#2aa5dc" stroke="#1b5c80" stroke-width="0.6"/>
<circle cx="626.6" cy="101.9" r="2.60" fill="#2aa5dc" stroke="#1b5c80" stroke-width="0.6"/>
<circle cx="616.5" cy="116.3" r="2.60" fill="#2aa5dc" stroke="#1b5c80" stroke-width="0.6"/>
<circle cx="608.2" cy="82.9" r="2.60" fill="#2aa5dc" stroke="#1b5c80" stroke-width="0.6"/>
<circle cx="608.4" cy="111.3" r="2.60" fill="#2aa5dc" stroke="#1b5c80" stroke-width="0.6"/>
<circle cx="654.6" cy="90.3" r="2.60" fill="#2aa5dc" stroke="#1b5c80" stroke-width="0.6"/>
<circle cx="611.8" cy="84.6" r="2.60" fill="#2aa5dc" stroke="#1b5c80" stroke-width="0.6"/>
<circle cx="620.8" cy="107.4" r="2.60" fill="#2aa5dc" stroke="#1b5c80" stroke-width="0.6"/>
<circle cx="628.9" cy="81.6" r="2.60" fill="#2aa5dc" stroke="#1b5c80" stroke-width="0.6"/>
<circle cx="638.5" cy="113.2" r="2.60" fill="#2aa5dc" stroke="#1b5c80" stroke-width="0.6"/>
<circle cx="617.6" cy="109.0" r="2.60" fill="#2aa5dc" stroke="#1b5c80" stroke-width="0.6"/>
<circle cx="592.7" cy="110.2" r="2.60" fill="#2aa5dc" stroke="#1b5c80" stroke-width="0.6"/>
<circle cx="607.3" cy="95.5" r="2.60" fill="#2aa5dc" stroke="#1b5c80" stroke-width="0.6"/>
<circle cx="603.2" cy="111.6" r="2.60" fill="#2aa5dc" stroke="#1b5c80" stroke-width="0.6"/>
<circle cx="632.7" cy="98.4" r="2.60" fill="#2aa5dc" stroke="#1b5c80" stroke-width="0.6"/>
<circle cx="621.8" cy="111.7" r="2.60" fill="#2aa5dc" stroke="#1b5c80" stroke-width="0.6"/>
<circle cx="621.5" cy="108.3" r="2.60" fill="#2aa5dc" stroke="#1b5c80" stroke-width="0.6"/>
<circle cx="598.1" cy="101.4" r="2.60" fill="#2aa5dc" stroke="#1b5c80" stroke-width="0.6"/>
<circle cx="607.6" cy="109.2" r="2.60" fill="#2aa5dc" stroke="#1b5c80" stroke-width="0.6"/>
<circle cx="593.7" cy="88.3" r="2.60" fill="#2aa5dc" stroke="#1b5c80" stroke-width="0.6"/>
<circle cx="604.1" cy="87.3" r="2.60" fill="#2aa5dc" stroke="#1b5c80" stroke-width="0.6"/>
<circle cx="638.6" cy="81.1" r="2.60" fill="#2aa5dc" stroke="#1b5c80" stroke-width="0.6"/>
<circle cx="618.5" cy="106.5" r="2.60" fill="#2aa5dc" stroke="#1b5c80" stroke-width="0.6"/>
<circle cx="657.6" cy="99.5" r="2.60" fill="#2aa5dc" stroke="#1b5c80" stroke-width="0.6"/>
<circle cx="662.3" cy="95.4" r="2.60" fill="#2aa5dc" stroke="#1b5c80" stroke-width="0.6"/>
<circle cx="654.8" cy="97.9" r="2.60" fill="#2aa5dc" stroke="#1b5c80" stroke-width="0.6"/>
<circle cx="596.3" cy="109.3" r="2.60" fill="#2aa5dc" stroke="#1b5c80" stroke-width="0.6"/>
<circle cx="616.1" cy="113.9" r="2.60" fill="#2aa5dc" stroke="#1b5c80" stroke-width="0.6"/>
<circle cx="600.2" cy="102.0" r="2.60" fill="#2aa5dc" stroke="#1b5c80" stroke-width="0.6"/>
<circle cx="652.2" cy="114.1" r="2.60" fill="#2aa5dc" stroke="#1b5c80" stroke-width="0.6"/>
<circle cx="637.4" cy="102.1" r="2.60" fill="#2aa5dc" stroke="#1b5c80" stroke-width="0.6"/>
<circle cx="614.7" cy="106.5" r="2.60" fill="#2aa5dc" stroke="#1b5c80" stroke-width="0.6"/>
<circle cx="632.3" cy="124.7" r="2.60" fill="#2aa5dc" stroke="#1b5c80" stroke-width="0.6"/>
<circle cx="648.3" cy="126.9" r="2.60" fill="#2aa5dc" stroke="#1b5c80" stroke-width="0.6"/>
<circle cx="625.8" cy="101.3" r="2.60" fill="#2aa5dc" stroke="#1b5c80" stroke-width="0.6"/>
<circle cx="644.4" cy="90.2" r="2.60" fill="#2aa5dc" stroke="#1b5c80" stroke-width="0.6"/>
<circle cx="648.8" cy="112.3" r="2.60" fill="#2aa5dc" stroke="#1b5c80" stroke-width="0.6"/>
<circle cx="612.4" cy="93.2" r="2.60" fill="#2aa5dc" stroke="#1b5c80" stroke-width="0.6"/>
<circle cx="625.8" cy="85.9" r="2.60" fill="#2aa5dc" stroke="#1b5c80" stroke-width="0.6"/>
<circle cx="657.4" cy="92.9" r="2.60" fill="#2aa5dc" stroke="#1b5c80" stroke-width="0.6"/>
<circle cx="624.5" cy="80.2" r="2.60" fill="#2aa5dc" stroke="#1b5c80" stroke-width="0.6"/>
<circle cx="633.7" cy="81.3" r="2.60" fill="#2aa5dc" stroke="#1b5c80" stroke-width="0.6"/>
<circle cx="650.4" cy="113.0" r="2.60" fill="#2aa5dc" stroke="#1b5c80" stroke-width="0.6"/>
<circle cx="604.7" cy="123.5" r="2.60" fill="#2aa5dc" stroke="#1b5c80" stroke-width="0.6"/>
<circle cx="656.1" cy="120.7" r="2.60" fill="#2aa5dc" stroke="#1b5c80" stroke-width="0.6"/>
<circle cx="638.5" cy="87.4" r="2.60" fill="#2aa5dc" stroke="#1b5c80" stroke-width="0.6"/>
<circle cx="640.9" cy="82.0" r="2.60" fill="#2aa5dc" stroke="#1b5c80" stroke-width="0.6"/>
<circle cx="611.0" cy="119.9" r="2.60" fill="#2aa5dc" stroke="#1b5c80" stroke-width="0.6"/>
<circle cx="631.9" cy="87.9" r="2.60" fill="#2aa5dc" stroke="#1b5c80" stroke-width="0.6"/>
<circle cx="608.0" cy="113.4" r="2.60" fill="#2aa5dc" stroke="#1b5c80" stroke-width="0.6"/>
<circle cx="610.5" cy="99.2" r="2.60" fill="#2aa5dc" stroke="#1b5c80" stroke-width="0.6"/>
<circle cx="620.1" cy="118.7" r="2.60" fill="#2aa5dc" stroke="#1b5c80" stroke-width="0.6"/>
<circle cx="622.9" cy="103.7" r="2.60" fill="#2aa5dc" stroke="#1b5c80" stroke-width="0.6"/>
<circle cx="619.7" cy="106.5" r="2.60" fill="#2aa5dc" stroke="#1b5c80" stroke-width="0.6"/>
<circle cx="651.5" cy="110.2" r="2.60" fill="#2aa5dc" stroke="#1b5c80" stroke-width="0.6"/>
<circle cx="586.2" cy="103.7" r="2.60" fill="#2aa5dc" stroke="#1b5c80" stroke-width="0.6"/>
<circle cx="598.0" cy="87.2" r="2.60" fill="#2aa5dc" stroke="#1b5c80" stroke-width="0.6"/>
<circle cx="655.8" cy="117.2" r="2.60" fill="#2aa5dc" stroke="#1b5c80" stroke-width="0.6"/>
<circle cx="605.1" cy="79.4" r="2.60" fill="#2aa5dc" stroke="#1b5c80" stroke-width="0.6"/>
<circle cx="605.6" cy="99.8" r="2.60" fill="#2aa5dc" stroke="#1b5c80" stroke-width="0.6"/>
<circle cx="621.1" cy="118.6" r="2.60" fill="#2aa5dc" stroke="#1b5c80" stroke-width="0.6"/>
<circle cx="602.4" cy="82.0" r="2.60" fill="#2aa5dc" stroke="#1b5c80" stroke-width="0.6"/>
<circle cx="592.6" cy="114.0" r="2.60" fill="#2aa5dc" stroke="#1b5c80" stroke-width="0.6"/>
<circle cx="598.4" cy="114.0" r="2.60" fill="#2aa5dc" stroke="#1b5c80" stroke-width="0.6"/>
<circle cx="596.9" cy="117.7" r="2.60" fill="#2aa5dc" stroke="#1b5c80" stroke-width="0.6"/>
<circle cx="616.8" cy="122.5" r="2.60" fill="#2aa5dc" stroke="#1b5c80" stroke-width="0.6"/>
<circle cx="607.8" cy="104.1" r="2.60" fill="#2aa5dc" stroke="#1b5c80" stroke-width="0.6"/>
<circle cx="630.6" cy="106.9" r="2.60" fill="#2aa5dc" stroke="#1b5c80" stroke-width="0.6"/>
<circle cx="588.3" cy="110.5" r="2.60" fill="#2aa5dc" stroke="#1b5c80" stroke-width="0.6"/>
<circle cx="615.0" cy="123.7" r="2.60" fill="#2aa5dc" stroke="#1b5c80" stroke-width="0.6"/>
<circle cx="598.9" cy="121.5" r="2.60" fill="#2aa5dc" stroke="#1b5c80" stroke-width="0.6"/>
<circle cx="618.0" cy="123.7" r="2.60" fill="#2aa5dc" stroke="#1b5c80" stroke-width="0.6"/>
<circle cx="621.6" cy="128.6" r="2.60" fill="#2aa5dc" stroke="#1b5c80" stroke-width="0.6"/>
<circle cx="624.9" cy="104.9" r="2.60" fill="#2aa5dc" stroke="#1b5c80" stroke-width="0.6"/>
<circle cx="638.1" cy="95.1" r="2.60" fill="#2aa5dc" stroke="#1b5c80" stroke-width="0.6"/>
<circle cx="595.1" cy="92.2" r="2.60" fill="#2aa5dc" stroke="#1b5c80" stroke-width="0.6"/>
<circle cx="638.4" cy="86.5" r="2.60" fill="#2aa5dc" stroke="#1b5c80" stroke-width="0.6"/>
<circle cx="613.6" cy="84.7" r="2.60" fill="#2aa5dc" stroke="#1b5c80" stroke-width="0.6"/>
<circle cx="636.1" cy="116.8" r="2.60" fill="#2aa5dc" stroke="#1b5c80" stroke-width="0.6"/>
<circle cx="601.8" cy="92.8" r="2.60" fill="#2aa5dc" stroke="#1b5c80" stroke-width="0.6"/>
<circle cx="599.4" cy="107.5" r="2.60" fill="#2aa5dc" stroke="#1b5c80" stroke-width="0.6"/>
<circle cx="657.7" cy="97.1" r="2.60" fill="#2aa5dc" stroke="#1b5c80" stroke-width="0.6"/>
<circle cx="587.9" cy="79.6" r="2.60" fill="#4aaa9b"/>
<circle cx="610.7" cy="74.4" r="2.60" fill="#4aaa9b"/>
<circle cx="579.0" cy="88.4" r="2.60" fill="#4aaa9b"/>
<circle cx="581.2" cy="100.2" r="2.60" fill="#4aaa9b"/>
<circle cx="601.1" cy="123.1" r="2.60" fill="#4aaa9b"/>
<circle cx="607.0" cy="129.0" r="2.60" fill="#4aaa9b"/>
<circle cx="665.5" cy="86.0" r="2.60" fill="#4aaa9b"/>
<circle cx="644.5" cy="90.2" r="2.60" fill="#4aaa9b"/>
<circle cx="655.4" cy="112.1" r="2.60" fill="#4aaa9b"/>
<circle cx="659.6" cy="105.3" r="2.60" fill="#4aaa9b"/>
<circle cx="666.3" cy="115.4" r="2.60" fill="#4aaa9b"/>
<circle cx="666.3" cy="128.0" r="2.60" fill="#4aaa9b"/>
<circle cx="679.8" cy="118.0" r="2.60" fill="#4aaa9b"/>
<circle cx="651.2" cy="134.8" r="2.60" fill="#4aaa9b"/>
<circle cx="649.5" cy="142.4" r="2.60" fill="#4aaa9b"/>
<circle cx="639.4" cy="129.7" r="2.60" fill="#4aaa9b"/>
<circle cx="635.2" cy="109.5" r="2.60" fill="#4aaa9b"/>
<circle cx="649.4" cy="142.6" r="2.60" fill="#4aaa9b"/>
<circle cx="665.8" cy="86.5" r="2.60" fill="#4aaa9b"/>
<circle cx="600.0" cy="118.0" r="2.60" fill="#4aaa9b"/>
<circle cx="645.0" cy="118.0" r="2.60" fill="#4aaa9b"/>
<circle cx="620.0" cy="127.0" r="2.60" fill="#4aaa9b"/>
<circle cx="630.0" cy="128.0" r="2.60" fill="#4aaa9b"/>
<circle cx="576.1" cy="84.7" r="2.60" fill="#e65a28"/>
<circle cx="594.5" cy="123.1" r="2.60" fill="#e65a28"/>
<circle cx="607.8" cy="78.8" r="2.60" fill="#e65a28"/>
<circle cx="573.8" cy="98.7" r="2.60" fill="#e65a28"/>
<circle cx="576.8" cy="105.4" r="2.60" fill="#e65a28"/>
<circle cx="600.4" cy="89.9" r="2.60" fill="#e65a28"/>
<circle cx="640.0" cy="112.0" r="2.60" fill="#e65a28"/>
<circle cx="580.5" cy="104.6" r="2.60" fill="#e65a28"/>
<circle cx="584.2" cy="96.5" r="2.60" fill="#e65a28"/>
<circle cx="609.2" cy="81.8" r="2.60" fill="#e65a28"/>
<circle cx="656.2" cy="118.8" r="2.60" fill="#e65a28"/>
<circle cx="579.7" cy="112.8" r="2.60" fill="#e65a28"/>
<circle cx="616.7" cy="83.5" r="2.60" fill="#e65a28"/>
<circle cx="572.4" cy="95.1" r="2.60" fill="#e65a28"/>
<circle cx="579.7" cy="92.1" r="2.60" fill="#e65a28"/>
<circle cx="635.2" cy="120.5" r="2.60" fill="#e65a28"/>
<circle cx="605.5" cy="103.9" r="2.60" fill="#e65a28"/>
<circle cx="633.5" cy="105.3" r="2.60" fill="#e65a28"/>
<circle cx="655.4" cy="127.2" r="2.60" fill="#e65a28"/>
<circle cx="600.4" cy="107.6" r="2.60" fill="#e65a28"/>
<circle cx="625.1" cy="122.2" r="2.60" fill="#e65a28"/>
<circle cx="590.0" cy="120.0" r="2.60" fill="#e65a28"/>
<circle cx="678.9" cy="107.9" r="2.60" fill="#e65a28"/>
<circle cx="589.3" cy="114.2" r="2.60" fill="#e65a28"/>
<circle cx="624.3" cy="80.1" r="2.60" fill="#e65a28"/>
<circle cx="586.0" cy="106.0" r="2.60" fill="#e65a28"/>
<circle cx="601.9" cy="114.2" r="2.60" fill="#e65a28"/>
<circle cx="620.0" cy="100.0" r="2.60" fill="#e65a28"/>
<circle cx="626.8" cy="84.3" r="2.60" fill="#2aa5dc" stroke="#1b5c80" stroke-width="0.6"/>
<circle cx="647.0" cy="128.1" r="2.60" fill="#2aa5dc" stroke="#1b5c80" stroke-width="0.6"/>
<circle cx="621.0" cy="111.3" r="2.60" fill="#2aa5dc" stroke="#1b5c80" stroke-width="0.6"/>
<circle cx="597.4" cy="109.1" r="2.60" fill="#2aa5dc" stroke="#1b5c80" stroke-width="0.6"/>
<circle cx="618.1" cy="114.2" r="2.60" fill="#2aa5dc" stroke="#1b5c80" stroke-width="0.6"/>
<circle cx="665.5" cy="123.8" r="2.60" fill="#2aa5dc" stroke="#1b5c80" stroke-width="0.6"/>
<circle cx="607.0" cy="156.3" r="2.60" fill="#2aa5dc" stroke="#1b5c80" stroke-width="0.6"/>
<circle cx="644.4" cy="126.4" r="2.60" fill="#2aa5dc" stroke="#1b5c80" stroke-width="0.6"/>
<circle cx="619.2" cy="117.1" r="2.60" fill="#2aa5dc" stroke="#1b5c80" stroke-width="0.6"/>
<circle cx="628.0" cy="116.0" r="2.60" fill="#2aa5dc" stroke="#1b5c80" stroke-width="0.6"/>
<circle cx="632.0" cy="100.0" r="2.60" fill="#2aa5dc" stroke="#1b5c80" stroke-width="0.6"/>
<circle cx="615.1" cy="120.9" r="2.60" fill="#2aa5dc" stroke="#1b5c80" stroke-width="0.6"/>
<circle cx="623.4" cy="112.9" r="2.60" fill="#2aa5dc" stroke="#1b5c80" stroke-width="0.6"/>
<circle cx="607.8" cy="121.6" r="2.60" fill="#2aa5dc" stroke="#1b5c80" stroke-width="0.6"/>
<circle cx="593.8" cy="118.7" r="2.60" fill="#2aa5dc" stroke="#1b5c80" stroke-width="0.6"/>
<circle cx="649.5" cy="116.3" r="2.60" fill="#2aa5dc" stroke="#1b5c80" stroke-width="0.6"/>
<circle cx="590.1" cy="98.0" r="2.60" fill="#2aa5dc" stroke="#1b5c80" stroke-width="0.6"/>
<circle cx="621.0" cy="103.9" r="2.60" fill="#2aa5dc" stroke="#1b5c80" stroke-width="0.6"/>
<circle cx="624.3" cy="88.5" r="2.60" fill="#2aa5dc" stroke="#1b5c80" stroke-width="0.6"/>
<circle cx="672.2" cy="79.3" r="2.60" fill="#2aa5dc" stroke="#1b5c80" stroke-width="0.6"/>
<circle cx="663.8" cy="96.9" r="2.60" fill="#2aa5dc" stroke="#1b5c80" stroke-width="0.6"/>
<circle cx="645.3" cy="110.4" r="2.60" fill="#2aa5dc" stroke="#1b5c80" stroke-width="0.6"/>
<circle cx="642.8" cy="97.8" r="2.60" fill="#2aa5dc" stroke="#1b5c80" stroke-width="0.6"/>
<circle cx="594.5" cy="101.7" r="2.60" fill="#2aa5dc" stroke="#1b5c80" stroke-width="0.6"/>
<circle cx="679.8" cy="139.0" r="2.60" fill="#2aa5dc" stroke="#1b5c80" stroke-width="0.6"/>
<circle cx="629.3" cy="78.4" r="2.60" fill="#2aa5dc" stroke="#1b5c80" stroke-width="0.6"/>
<circle cx="640.2" cy="123.8" r="2.60" fill="#2aa5dc" stroke="#1b5c80" stroke-width="0.6"/>
<circle cx="631.8" cy="110.4" r="2.60" fill="#2aa5dc" stroke="#1b5c80" stroke-width="0.6"/>
<circle cx="631.0" cy="93.6" r="2.60" fill="#2aa5dc" stroke="#1b5c80" stroke-width="0.6"/>
<circle cx="612.2" cy="85.5" r="2.60" fill="#2aa5dc" stroke="#1b5c80" stroke-width="0.6"/>
<circle cx="619.5" cy="124.5" r="2.60" fill="#2aa5dc" stroke="#1b5c80" stroke-width="0.6"/>
<circle cx="617.5" cy="86.8" r="2.60" fill="#2aa5dc" stroke="#1b5c80" stroke-width="0.6"/>
<circle cx="656.2" cy="91.9" r="2.60" fill="#2aa5dc" stroke="#1b5c80" stroke-width="0.6"/>
<circle cx="641.9" cy="102.0" r="2.60" fill="#2aa5dc" stroke="#1b5c80" stroke-width="0.6"/>
<circle cx="618.4" cy="97.8" r="2.60" fill="#2aa5dc" stroke="#1b5c80" stroke-width="0.6"/>
<circle cx="616.6" cy="99.5" r="2.60" fill="#2aa5dc" stroke="#1b5c80" stroke-width="0.6"/>
<circle cx="637.7" cy="91.0" r="2.60" fill="#2aa5dc" stroke="#1b5c80" stroke-width="0.6"/>
<circle cx="612.2" cy="117.2" r="2.60" fill="#2aa5dc" stroke="#1b5c80" stroke-width="0.6"/>
<circle cx="617.3" cy="87.0" r="2.60" fill="#2aa5dc" stroke="#1b5c80" stroke-width="0.6"/>
<circle cx="610.0" cy="98.7" r="2.60" fill="#2aa5dc" stroke="#1b5c80" stroke-width="0.6"/>
<circle cx="615.9" cy="129.7" r="2.60" fill="#2aa5dc" stroke="#1b5c80" stroke-width="0.6"/>
<circle cx="641.9" cy="128.9" r="2.60" fill="#2aa5dc" stroke="#1b5c80" stroke-width="0.6"/>
<circle cx="642.8" cy="118.0" r="2.60" fill="#2aa5dc" stroke="#1b5c80" stroke-width="0.6"/>
<circle cx="655.4" cy="107.0" r="2.60" fill="#2aa5dc" stroke="#1b5c80" stroke-width="0.6"/>
<circle cx="612.2" cy="95.1" r="2.60" fill="#2aa5dc" stroke="#1b5c80" stroke-width="0.6"/>
<circle cx="648.7" cy="94.4" r="2.60" fill="#2aa5dc" stroke="#1b5c80" stroke-width="0.6"/>
<circle cx="658.7" cy="123.8" r="2.60" fill="#2aa5dc" stroke="#1b5c80" stroke-width="0.6"/>
<circle cx="625.0" cy="95.0" r="2.60" fill="#2aa5dc" stroke="#1b5c80" stroke-width="0.6"/>
<circle cx="587.1" cy="87.7" r="2.60" fill="#2aa5dc" stroke="#1b5c80" stroke-width="0.6"/>
<circle cx="630.1" cy="122.2" r="2.60" fill="#2aa5dc" stroke="#1b5c80" stroke-width="0.6"/>
<circle cx="627.6" cy="105.3" r="2.60" fill="#2aa5dc" stroke="#1b5c80" stroke-width="0.6"/>
<circle cx="647.8" cy="106.2" r="2.60" fill="#2aa5dc" stroke="#1b5c80" stroke-width="0.6"/>
<circle cx="616.6" cy="92.1" r="2.60" fill="#2aa5dc" stroke="#1b5c80" stroke-width="0.6"/>
<circle cx="638.6" cy="113.7" r="2.60" fill="#2aa5dc" stroke="#1b5c80" stroke-width="0.6"/>
<circle cx="626.8" cy="128.9" r="2.60" fill="#2aa5dc" stroke="#1b5c80" stroke-width="0.6"/>
<circle cx="608.5" cy="114.2" r="2.60" fill="#2aa5dc" stroke="#1b5c80" stroke-width="0.6"/>
<circle cx="607.8" cy="109.1" r="2.60" fill="#2aa5dc" stroke="#1b5c80" stroke-width="0.6"/>
<circle cx="592.3" cy="93.6" r="2.60" fill="#2aa5dc" stroke="#1b5c80" stroke-width="0.6"/>
<circle cx="593.8" cy="104.6" r="2.60" fill="#2aa5dc" stroke="#1b5c80" stroke-width="0.6"/>
<circle cx="601.9" cy="95.8" r="2.60" fill="#2aa5dc" stroke="#1b5c80" stroke-width="0.6"/>
<circle cx="588.6" cy="108.3" r="2.60" fill="#2aa5dc" stroke="#1b5c80" stroke-width="0.6"/>
<circle cx="651.2" cy="99.4" r="2.60" fill="#2aa5dc" stroke="#1b5c80" stroke-width="0.6"/>
<circle cx="621.7" cy="106.2" r="2.60" fill="#2aa5dc" stroke="#1b5c80" stroke-width="0.6"/>
<circle cx="616.7" cy="128.9" r="2.60" fill="#2aa5dc" stroke="#1b5c80" stroke-width="0.6"/>
<circle cx="607.8" cy="98.7" r="2.60" fill="#2aa5dc" stroke="#1b5c80" stroke-width="0.6"/>
<circle cx="638.6" cy="134.0" r="2.60" fill="#2aa5dc" stroke="#1b5c80" stroke-width="0.6"/>
<circle cx="595.2" cy="123.1" r="2.60" fill="#2aa5dc" stroke="#1b5c80" stroke-width="0.6"/>
<circle cx="605.5" cy="92.1" r="2.60" fill="#2aa5dc" stroke="#1b5c80" stroke-width="0.6"/>
<circle cx="636.0" cy="104.0" r="2.60" fill="#2aa5dc" stroke="#1b5c80" stroke-width="0.6"/>
<circle cx="594.5" cy="92.9" r="2.60" fill="#2aa5dc" stroke="#1b5c80" stroke-width="0.6"/>
<circle cx="621.0" cy="95.8" r="2.60" fill="#2aa5dc" stroke="#1b5c80" stroke-width="0.6"/>
<circle cx="600.4" cy="99.5" r="2.60" fill="#2aa5dc" stroke="#1b5c80" stroke-width="0.6"/>
<circle cx="604.1" cy="96.5" r="2.60" fill="#2aa5dc" stroke="#1b5c80" stroke-width="0.6"/>
<circle cx="635.2" cy="82.6" r="2.60" fill="#2aa5dc" stroke="#1b5c80" stroke-width="0.6"/>
<circle cx="649.4" cy="61.9" r="2.60" fill="#2aa5dc" stroke="#1b5c80" stroke-width="0.6"/>
<circle cx="582.7" cy="109.8" r="2.60" fill="#2aa5dc" stroke="#1b5c80" stroke-width="0.6"/>
<circle cx="584.2" cy="91.4" r="2.60" fill="#2aa5dc" stroke="#1b5c80" stroke-width="0.6"/>
<circle cx="640.2" cy="107.9" r="2.60" fill="#2aa5dc" stroke="#1b5c80" stroke-width="0.6"/>
<circle cx="598.2" cy="95.8" r="2.60" fill="#2aa5dc" stroke="#1b5c80" stroke-width="0.6"/>
<polygon points="418.7,172.8 415.2,179.9 422.2,179.9" fill="#333" opacity="0.25"/>
<polygon points="417.4,171.5 413.9,178.6 420.9,178.6" fill="url(#gt)" stroke="#3a3a3a" stroke-width="0.9" stroke-linejoin="round"/>
<polygon points="440.9,187.5 437.4,194.6 444.4,194.6" fill="#333" opacity="0.25"/>
<polygon points="439.6,186.2 436.1,193.3 443.1,193.3" fill="url(#gt)" stroke="#3a3a3a" stroke-width="0.9" stroke-linejoin="round"/>
<polygon points="541.8,91.7 538.3,98.8 545.3,98.8" fill="#333" opacity="0.25"/>
<polygon points="540.5,90.4 537.0,97.5 544.0,97.5" fill="url(#gt)" stroke="#3a3a3a" stroke-width="0.9" stroke-linejoin="round"/>
<polygon points="606.9,85.2 603.4,92.3 610.4,92.3" fill="#333" opacity="0.25"/>
<polygon points="605.6,83.9 602.1,91.0 609.1,91.0" fill="url(#gt)" stroke="#3a3a3a" stroke-width="0.9" stroke-linejoin="round"/>
<polygon points="446.7,169.2 443.2,176.3 450.2,176.3" fill="#333" opacity="0.25"/>
<polygon points="445.4,167.9 441.9,175.0 448.9,175.0" fill="#ffffff" stroke="#2f6f8a" stroke-width="1" stroke-linejoin="round"/>
<polygon points="448.7,140.5 445.2,147.6 452.2,147.6" fill="#333" opacity="0.25"/>
<polygon points="447.4,139.2 443.9,146.3 450.9,146.3" fill="#ffffff" stroke="#2f6f8a" stroke-width="1" stroke-linejoin="round"/>
<polygon points="498.8,141.2 495.3,148.3 502.3,148.3" fill="#333" opacity="0.25"/>
<polygon points="497.5,139.9 494.0,147.0 501.0,147.0" fill="#ffffff" stroke="#2f6f8a" stroke-width="1" stroke-linejoin="round"/>
<polygon points="615.1,109.7 611.6,116.8 618.6,116.8" fill="#333" opacity="0.25"/>
<polygon points="613.8,108.4 610.3,115.5 617.3,115.5" fill="#ffffff" stroke="#2f6f8a" stroke-width="1" stroke-linejoin="round"/>
<rect x="641.0" y="60.4" width="6.8" height="6.8" fill="#222" opacity="0.35"/>
<rect x="639.4" y="58.8" width="6.4" height="6.4" fill="url(#gp)" stroke="#2a2a2a" stroke-width="0.9"/>
<rect x="641.0" y="64.9" width="6.8" height="6.8" fill="#222" opacity="0.35"/>
<rect x="639.4" y="63.3" width="6.4" height="6.4" fill="url(#gp)" stroke="#2a2a2a" stroke-width="0.9"/>
<rect x="626.7" y="101.9" width="6.8" height="6.8" fill="#222" opacity="0.35"/>
<rect x="625.1" y="100.3" width="6.4" height="6.4" fill="url(#gp)" stroke="#2a2a2a" stroke-width="0.9"/>
<rect x="632.8" y="98.1" width="6.8" height="6.8" fill="#222" opacity="0.35"/>
<rect x="631.2" y="96.5" width="6.4" height="6.4" fill="url(#gp)" stroke="#2a2a2a" stroke-width="0.9"/>
<rect x="650.4" y="45.2" width="6.8" height="6.8" fill="#222" opacity="0.35"/>
<rect x="648.8" y="43.6" width="6.4" height="6.4" fill="url(#gb)" stroke="#2a2a2a" stroke-width="0.9"/>
<rect x="653.4" y="42.4" width="6.8" height="6.8" fill="#222" opacity="0.35"/>
<rect x="651.8" y="40.8" width="6.4" height="6.4" fill="url(#gb)" stroke="#2a2a2a" stroke-width="0.9"/>
<rect x="671.1" y="49.9" width="6.8" height="6.8" fill="#222" opacity="0.35"/>
<rect x="669.5" y="48.3" width="6.4" height="6.4" fill="url(#gb)" stroke="#2a2a2a" stroke-width="0.9"/>
<rect x="660.1" y="98.6" width="6.8" height="6.8" fill="#222" opacity="0.35"/>
<rect x="658.5" y="97.0" width="6.4" height="6.4" fill="url(#gb)" stroke="#2a2a2a" stroke-width="0.9"/>
<rect x="377.6" y="3.3" width="304.7" height="202.0" fill="none" stroke="#666" stroke-width="1"/>
<path d="M377.6,205.3 h-3 M377.6,174.9 h-2 M377.6,157.1 h-2 M377.6,144.5 h-2 M377.6,134.7 h-2 M377.6,126.7 h-2 M377.6,119.9 h-2 M377.6,114.1 h-2 M377.6,108.9 h-2 M377.6,104.3 h-3 M377.6,73.9 h-2 M377.6,56.1 h-2 M377.6,43.5 h-2 M377.6,33.7 h-2 M377.6,25.7 h-2 M377.6,18.9 h-2 M377.6,13.1 h-2 M377.6,7.9 h-2 M377.6,3.3 h-3 M377.6,205.3 v3 M408.2,205.3 v2 M426.0,205.3 v2 M438.7,205.3 v2 M448.5,205.3 v2 M456.6,205.3 v2 M463.4,205.3 v2 M469.3,205.3 v2 M474.5,205.3 v2 M479.1,205.3 v3 M509.7,205.3 v2 M527.5,205.3 v2 M540.2,205.3 v2 M550.0,205.3 v2 M558.1,205.3 v2 M564.9,205.3 v2 M570.8,205.3 v2 M576.0,205.3 v2 M580.6,205.3 v3 M611.2,205.3 v2 M629.0,205.3 v2 M641.7,205.3 v2 M651.5,205.3 v2 M659.6,205.3 v2 M666.4,205.3 v2 M672.3,205.3 v2 M677.5,205.3 v2 M682.1,205.3 v3" stroke="#555" stroke-width="0.8" fill="none"/>
<text x="369.0" y="207.7" font-size="8.5" text-anchor="start" fill="#111111" stroke="#111111" stroke-width="0.1" transform="rotate(-90 369.0 207.7)">1</text>
<text x="369.0" y="109.0" font-size="8.5" text-anchor="start" fill="#111111" stroke="#111111" stroke-width="0.1" transform="rotate(-90 369.0 109.0)">10</text>
<text x="369.0" y="11.5" font-size="8.5" text-anchor="start" fill="#111111" stroke="#111111" stroke-width="0.1" transform="rotate(-90 369.0 11.5)">10<tspan font-size="5.5" dy="-3">2</tspan></text>
<text x="379.1" y="219.5" font-size="8.5" text-anchor="middle" fill="#111111" stroke="#111111" stroke-width="0.1">10</text>
<text x="479.6" y="219.5" font-size="8.5" text-anchor="middle" fill="#111111" stroke="#111111" stroke-width="0.1">10<tspan font-size="5.5" dy="-3">2</tspan></text>
<text x="581.1" y="219.5" font-size="8.5" text-anchor="middle" fill="#111111" stroke="#111111" stroke-width="0.1">10<tspan font-size="5.5" dy="-3">3</tspan></text>
<text x="677.5" y="219.5" font-size="8.5" text-anchor="middle" fill="#111111" stroke="#111111" stroke-width="0.1">10<tspan font-size="5.5" dy="-3">4</tspan></text>
<text x="523" y="229.5" font-size="9" fill="#111111" stroke="#111111" stroke-width="0.1">Yb<tspan font-size="5.5" dy="2.5">(n)</tspan></text>
<text x="0" y="0" font-size="9" fill="#111111" stroke="#111111" stroke-width="0.1" transform="translate(356 122.5) rotate(-90)">Yb/Tb<tspan font-size="5.5" dy="2.5">(n)</tspan></text>
<polygon points="387.6,15.3 384.4,21.9 390.9,21.9" fill="#333" opacity="0.25"/>
<polygon points="386.3,14.0 383.1,20.6 389.6,20.6" fill="url(#gt)" stroke="#3a3a3a" stroke-width="0.9" stroke-linejoin="round"/>
<text x="394.4" y="20.8" font-size="8.20" text-anchor="start" fill="#111111" stroke="#111111" stroke-width="0.1" font-weight="normal" textLength="67.0" lengthAdjust="spacingAndGlyphs" >Eclogitic micaschist</text>
<polygon points="387.6,32.1 384.4,38.7 390.9,38.7" fill="#333" opacity="0.25"/>
<polygon points="386.3,30.8 383.1,37.4 389.6,37.4" fill="#fff" stroke="#3e7d93" stroke-width="1" stroke-linejoin="round"/>
<text x="394.4" y="37.7" font-size="8.20" text-anchor="start" fill="#111111" stroke="#111111" stroke-width="0.1" font-weight="normal" textLength="44.7" lengthAdjust="spacingAndGlyphs" >UHP eclogite</text>
<rect x="385.4" y="50.6" width="5.4" height="5.4" fill="#222" opacity="0.35"/>
<rect x="383.8" y="49.0" width="5.0" height="5.0" fill="url(#gp)" stroke="#2a2a2a" stroke-width="0.9"/>
<text x="394.4" y="54.5" font-size="8.20" text-anchor="start" fill="#111111" stroke="#111111" stroke-width="0.1" font-weight="normal" textLength="70.6" lengthAdjust="spacingAndGlyphs" >Grt-bearing granulite</text>
<rect x="385.4" y="67.5" width="5.4" height="5.4" fill="#222" opacity="0.35"/>
<rect x="383.8" y="65.9" width="5.0" height="5.0" fill="url(#gb)" stroke="#2a2a2a" stroke-width="0.9"/>
<text x="394.4" y="71.4" font-size="8.20" text-anchor="start" fill="#111111" stroke="#111111" stroke-width="0.1" font-weight="normal" textLength="58.6" lengthAdjust="spacingAndGlyphs" >Grt-free granulite</text>
<text x="675.5" y="13.8" font-size="9.50" text-anchor="middle" fill="#111111" stroke="#111111" stroke-width="0.1" font-weight="bold" >B</text>
<clipPath id="clipC"><rect x="68.6" y="254.5" width="233.6" height="190.8"/></clipPath>
<g clip-path="url(#clipC)">
<path d="M68.60,445.30 L68.60,432.15 L69.18,431.86 L69.76,431.50 L70.34,431.07 L70.93,430.60 L71.51,430.08 L72.09,429.53 L72.67,428.96 L73.25,428.37 L73.83,427.77 L74.41,427.15 L75.00,426.51 L75.58,425.87 L76.16,425.21 L76.74,424.54 L77.32,423.85 L77.90,423.16 L78.49,422.45 L79.07,421.72 L79.65,420.98 L80.23,420.22 L80.81,419.44 L81.39,418.64 L81.97,417.82 L82.56,416.96 L83.14,416.09 L83.72,415.20 L84.30,414.29 L84.88,413.37 L85.46,412.43 L86.04,411.50 L86.63,410.55 L87.21,409.61 L87.79,408.68 L88.37,407.75 L88.95,406.83 L89.53,405.91 L90.12,405.01 L90.70,404.11 L91.28,403.21 L91.86,402.32 L92.44,401.43 L93.02,400.53 L93.60,399.64 L94.19,398.75 L94.77,397.86 L95.35,396.98 L95.93,396.10 L96.51,395.23 L97.09,394.37 L97.67,393.52 L98.26,392.68 L98.84,391.86 L99.42,391.06 L100.00,390.28 L100.58,389.51 L101.16,388.77 L101.75,388.05 L102.33,387.36 L102.91,386.68 L103.49,386.03 L104.07,385.41 L104.65,384.80 L105.23,384.21 L105.82,383.64 L106.40,383.08 L106.98,382.53 L107.56,381.99 L108.14,381.46 L108.72,380.94 L109.31,380.42 L109.89,379.91 L110.47,379.39 L111.05,378.88 L111.63,378.36 L112.21,377.84 L112.79,377.32 L113.38,376.79 L113.96,376.26 L114.54,375.73 L115.12,375.20 L115.70,374.67 L116.28,374.13 L116.86,373.60 L117.45,373.07 L118.03,372.54 L118.61,372.01 L119.19,371.49 L119.77,370.96 L120.35,370.44 L120.94,369.92 L121.52,369.41 L122.10,368.89 L122.68,368.38 L123.26,367.87 L123.84,367.37 L124.42,366.88 L125.01,366.40 L125.59,365.95 L126.17,365.52 L126.75,365.12 L127.33,364.75 L127.91,364.40 L128.49,364.08 L129.08,363.77 L129.66,363.47 L130.24,363.20 L130.82,362.94 L131.40,362.70 L131.98,362.48 L132.56,362.28 L133.15,362.12 L133.73,361.97 L134.31,361.86 L134.89,361.77 L135.47,361.71 L136.05,361.66 L136.64,361.63 L137.22,361.62 L137.80,361.61 L138.38,361.60 L138.96,361.58 L139.54,361.56 L140.12,361.53 L140.71,361.48 L141.29,361.41 L141.87,361.30 L142.45,361.16 L143.03,360.97 L143.61,360.75 L144.19,360.48 L144.78,360.16 L145.36,359.80 L145.94,359.38 L146.52,358.90 L147.10,358.33 L147.68,357.66 L148.27,356.84 L148.85,355.87 L149.43,354.71 L150.01,353.34 L150.59,351.78 L151.17,350.02 L151.75,348.07 L152.34,345.94 L152.92,343.65 L153.50,341.22 L154.08,338.67 L154.66,336.07 L155.24,333.44 L155.82,330.85 L156.41,328.34 L156.99,325.93 L157.57,323.65 L158.15,321.49 L158.73,319.45 L159.31,317.51 L159.90,315.66 L160.48,313.88 L161.06,312.17 L161.64,310.54 L162.22,309.01 L162.80,307.60 L163.38,306.34 L163.97,305.27 L164.55,304.40 L165.13,303.77 L165.71,303.38 L166.29,303.25 L166.87,303.38 L167.45,303.77 L168.04,304.41 L168.62,305.28 L169.20,306.39 L169.78,307.69 L170.36,309.16 L170.94,310.78 L171.53,312.51 L172.11,314.33 L172.69,316.20 L173.27,318.13 L173.85,320.09 L174.43,322.09 L175.01,324.11 L175.60,326.15 L176.18,328.20 L176.76,330.26 L177.34,332.32 L177.92,334.37 L178.50,336.41 L179.09,338.44 L179.67,340.45 L180.25,342.46 L180.83,344.46 L181.41,346.46 L181.99,348.47 L182.57,350.48 L183.16,352.51 L183.74,354.54 L184.32,356.60 L184.90,358.67 L185.48,360.75 L186.06,362.83 L186.64,364.90 L187.23,366.96 L187.81,369.00 L188.39,371.01 L188.97,372.98 L189.55,374.92 L190.13,376.82 L190.72,378.68 L191.30,380.51 L191.88,382.32 L192.46,384.09 L193.04,385.84 L193.62,387.55 L194.20,389.22 L194.79,390.86 L195.37,392.45 L195.95,394.00 L196.53,395.51 L197.11,396.96 L197.69,398.37 L198.27,399.74 L198.86,401.06 L199.44,402.34 L200.02,403.58 L200.60,404.78 L201.18,405.95 L201.76,407.09 L202.34,408.19 L202.93,409.26 L203.51,410.30 L204.09,411.31 L204.67,412.28 L205.25,413.22 L205.83,414.14 L206.42,415.03 L207.00,415.90 L207.58,416.74 L208.16,417.57 L208.74,418.38 L209.32,419.18 L209.90,419.96 L210.49,420.72 L211.07,421.47 L211.65,422.20 L212.23,422.92 L212.81,423.62 L213.39,424.30 L213.97,424.97 L214.56,425.62 L215.14,426.26 L215.72,426.87 L216.30,427.47 L216.88,428.05 L217.46,428.62 L218.05,429.17 L218.63,429.70 L219.21,430.21 L219.79,430.71 L220.37,431.19 L220.95,431.66 L221.53,432.11 L222.12,432.55 L222.70,432.98 L223.28,433.40 L223.86,433.81 L224.44,434.21 L225.02,434.61 L225.61,435.00 L226.19,435.39 L226.77,435.77 L227.35,436.15 L227.93,436.53 L228.51,436.91 L229.09,437.30 L229.68,437.68 L230.26,438.06 L230.84,438.43 L231.42,438.81 L232.00,439.17 L232.58,439.53 L233.16,439.88 L233.75,440.21 L234.33,440.53 L234.91,440.83 L235.49,441.11 L236.07,441.38 L236.65,441.63 L237.24,441.85 L237.82,442.07 L238.40,442.27 L238.98,442.46 L239.56,442.65 L240.14,442.82 L240.72,442.99 L241.31,443.15 L241.89,443.31 L242.47,443.46 L243.05,443.60 L243.63,443.73 L244.21,443.86 L244.79,443.98 L245.38,444.09 L245.96,444.20 L246.54,444.29 L247.12,444.38 L247.70,444.46 L248.28,444.53 L248.87,444.60 L249.45,444.66 L250.03,444.72 L250.61,444.77 L251.19,444.83 L251.77,444.87 L252.35,444.92 L252.94,444.97 L253.52,445.01 L254.10,445.05 L254.68,445.09 L255.26,445.12 L255.84,445.15 L256.42,445.18 L257.01,445.21 L257.59,445.23 L258.17,445.25 L258.75,445.26 L259.33,445.27 L259.91,445.28 L260.50,445.29 L261.08,445.29 L261.66,445.30 L262.24,445.30 L262.82,445.30 L263.40,445.30 L263.98,445.30 L264.57,445.30 L265.15,445.30 L265.73,445.30 L266.31,445.30 L266.89,445.30 L267.47,445.30 L268.05,445.30 L268.64,445.30 L269.22,445.30 L269.80,445.30 L270.38,445.30 L270.96,445.30 L271.54,445.30 L272.12,445.30 L272.71,445.30 L273.29,445.30 L273.87,445.30 L274.45,445.30 L275.03,445.30 L275.61,445.30 L276.20,445.30 L276.78,445.30 L277.36,445.30 L277.94,445.30 L278.52,445.30 L279.10,445.30 L279.68,445.30 L280.27,445.30 L280.85,445.30 L281.43,445.30 L282.01,445.30 L282.59,445.30 L283.17,445.30 L283.75,445.30 L284.34,445.30 L284.92,445.30 L285.50,445.30 L286.08,445.30 L286.66,445.30 L287.24,445.30 L287.83,445.30 L288.41,445.30 L288.99,445.30 L289.57,445.30 L290.15,445.30 L290.73,445.30 L291.31,445.30 L291.90,445.30 L292.48,445.30 L293.06,445.30 L293.64,445.30 L294.22,445.30 L294.80,445.30 L295.38,445.30 L295.97,445.30 L296.55,445.30 L297.13,445.30 L297.71,445.30 L298.29,445.30 L298.87,445.30 L299.46,445.30 L300.04,445.30 L300.62,445.30 L301.20,445.30 L301.20,445.30 Z" fill="#46a599"/>
<path d="M68.60,445.30 L68.60,438.07 L69.18,437.83 L69.76,437.54 L70.34,437.20 L70.93,436.81 L71.51,436.39 L72.09,435.95 L72.67,435.49 L73.25,435.01 L73.83,434.51 L74.41,434.01 L75.00,433.49 L75.58,432.96 L76.16,432.42 L76.74,431.87 L77.32,431.31 L77.90,430.74 L78.49,430.16 L79.07,429.57 L79.65,428.96 L80.23,428.33 L80.81,427.68 L81.39,427.01 L81.97,426.32 L82.56,425.60 L83.14,424.87 L83.72,424.11 L84.30,423.35 L84.88,422.57 L85.46,421.79 L86.04,421.01 L86.63,420.23 L87.21,419.45 L87.79,418.70 L88.37,417.95 L88.95,417.23 L89.53,416.52 L90.12,415.84 L90.70,415.18 L91.28,414.54 L91.86,413.92 L92.44,413.31 L93.02,412.72 L93.60,412.14 L94.19,411.57 L94.77,411.01 L95.35,410.45 L95.93,409.90 L96.51,409.35 L97.09,408.80 L97.67,408.26 L98.26,407.70 L98.84,407.15 L99.42,406.58 L100.00,406.01 L100.58,405.43 L101.16,404.84 L101.75,404.24 L102.33,403.63 L102.91,403.01 L103.49,402.38 L104.07,401.74 L104.65,401.10 L105.23,400.44 L105.82,399.78 L106.40,399.12 L106.98,398.44 L107.56,397.75 L108.14,397.05 L108.72,396.33 L109.31,395.60 L109.89,394.84 L110.47,394.06 L111.05,393.26 L111.63,392.43 L112.21,391.57 L112.79,390.68 L113.38,389.75 L113.96,388.78 L114.54,387.77 L115.12,386.72 L115.70,385.63 L116.28,384.50 L116.86,383.34 L117.45,382.15 L118.03,380.93 L118.61,379.68 L119.19,378.41 L119.77,377.10 L120.35,375.77 L120.94,374.41 L121.52,373.02 L122.10,371.59 L122.68,370.11 L123.26,368.58 L123.84,367.00 L124.42,365.36 L125.01,363.67 L125.59,361.93 L126.17,360.13 L126.75,358.30 L127.33,356.43 L127.91,354.55 L128.49,352.66 L129.08,350.78 L129.66,348.92 L130.24,347.09 L130.82,345.30 L131.40,343.55 L131.98,341.81 L132.56,340.08 L133.15,338.33 L133.73,336.52 L134.31,334.63 L134.89,332.61 L135.47,330.45 L136.05,328.13 L136.64,325.66 L137.22,323.05 L137.80,320.35 L138.38,317.62 L138.96,314.89 L139.54,312.22 L140.12,309.65 L140.71,307.19 L141.29,304.85 L141.87,302.63 L142.45,300.52 L143.03,298.53 L143.61,296.64 L144.19,294.86 L144.78,293.18 L145.36,291.60 L145.94,290.12 L146.52,288.72 L147.10,287.42 L147.68,286.21 L148.27,285.10 L148.85,284.08 L149.43,283.16 L150.01,282.33 L150.59,281.58 L151.17,280.91 L151.75,280.32 L152.34,279.79 L152.92,279.34 L153.50,278.97 L154.08,278.69 L154.66,278.50 L155.24,278.42 L155.82,278.43 L156.41,278.55 L156.99,278.76 L157.57,279.06 L158.15,279.43 L158.73,279.87 L159.31,280.37 L159.90,280.93 L160.48,281.53 L161.06,282.19 L161.64,282.90 L162.22,283.68 L162.80,284.53 L163.38,285.46 L163.97,286.49 L164.55,287.61 L165.13,288.84 L165.71,290.18 L166.29,291.62 L166.87,293.17 L167.45,294.82 L168.04,296.54 L168.62,298.32 L169.20,300.16 L169.78,302.03 L170.36,303.93 L170.94,305.85 L171.53,307.79 L172.11,309.75 L172.69,311.73 L173.27,313.73 L173.85,315.75 L174.43,317.79 L175.01,319.84 L175.60,321.91 L176.18,324.00 L176.76,326.10 L177.34,328.21 L177.92,330.34 L178.50,332.48 L179.09,334.62 L179.67,336.78 L180.25,338.95 L180.83,341.14 L181.41,343.36 L181.99,345.63 L182.57,347.98 L183.16,350.45 L183.74,353.06 L184.32,355.82 L184.90,358.73 L185.48,361.76 L186.06,364.87 L186.64,368.00 L187.23,371.09 L187.81,374.10 L188.39,377.00 L188.97,379.76 L189.55,382.37 L190.13,384.84 L190.72,387.17 L191.30,389.36 L191.88,391.42 L192.46,393.33 L193.04,395.12 L193.62,396.78 L194.20,398.32 L194.79,399.77 L195.37,401.13 L195.95,402.42 L196.53,403.64 L197.11,404.81 L197.69,405.93 L198.27,407.00 L198.86,408.04 L199.44,409.04 L200.02,410.01 L200.60,410.96 L201.18,411.88 L201.76,412.79 L202.34,413.68 L202.93,414.56 L203.51,415.43 L204.09,416.29 L204.67,417.14 L205.25,417.98 L205.83,418.81 L206.42,419.63 L207.00,420.43 L207.58,421.22 L208.16,421.99 L208.74,422.75 L209.32,423.48 L209.90,424.20 L210.49,424.89 L211.07,425.56 L211.65,426.20 L212.23,426.82 L212.81,427.40 L213.39,427.97 L213.97,428.50 L214.56,429.01 L215.14,429.50 L215.72,429.96 L216.30,430.41 L216.88,430.84 L217.46,431.26 L218.05,431.67 L218.63,432.06 L219.21,432.45 L219.79,432.82 L220.37,433.18 L220.95,433.53 L221.53,433.87 L222.12,434.19 L222.70,434.50 L223.28,434.79 L223.86,435.06 L224.44,435.32 L225.02,435.55 L225.61,435.77 L226.19,435.97 L226.77,436.15 L227.35,436.32 L227.93,436.47 L228.51,436.60 L229.09,436.73 L229.68,436.84 L230.26,436.95 L230.84,437.05 L231.42,437.15 L232.00,437.24 L232.58,437.32 L233.16,437.40 L233.75,437.47 L234.33,437.53 L234.91,437.58 L235.49,437.63 L236.07,437.66 L236.65,437.69 L237.24,437.72 L237.82,437.73 L238.40,437.75 L238.98,437.76 L239.56,437.77 L240.14,437.77 L240.72,437.78 L241.31,437.79 L241.89,437.79 L242.47,437.80 L243.05,437.80 L243.63,437.81 L244.21,437.81 L244.79,437.82 L245.38,437.82 L245.96,437.83 L246.54,437.83 L247.12,437.84 L247.70,437.84 L248.28,437.84 L248.87,437.85 L249.45,437.85 L250.03,437.85 L250.61,437.85 L251.19,437.86 L251.77,437.86 L252.35,437.86 L252.94,437.86 L253.52,437.87 L254.10,437.87 L254.68,437.87 L255.26,437.87 L255.84,437.87 L256.42,437.87 L257.01,437.87 L257.59,437.87 L258.17,437.87 L258.75,437.87 L259.33,437.87 L259.91,437.87 L260.50,437.87 L261.08,437.87 L261.66,437.87 L262.24,437.87 L262.82,437.87 L263.40,437.87 L263.98,437.87 L264.57,437.87 L265.15,437.87 L265.73,437.87 L266.31,437.87 L266.89,437.88 L267.47,437.88 L268.05,437.88 L268.64,437.88 L269.22,437.88 L269.80,437.88 L270.38,437.88 L270.96,437.88 L271.54,437.88 L272.12,437.88 L272.71,437.88 L273.29,437.88 L273.87,437.88 L274.45,437.88 L275.03,437.88 L275.61,437.88 L276.20,437.88 L276.78,437.88 L277.36,437.88 L277.94,437.88 L278.52,437.88 L279.10,437.88 L279.68,437.89 L280.27,437.89 L280.85,437.91 L281.43,437.92 L282.01,437.95 L282.59,437.98 L283.17,438.01 L283.75,438.06 L284.34,438.11 L284.92,438.16 L285.50,438.23 L286.08,438.30 L286.66,438.38 L287.24,438.46 L287.83,438.55 L288.41,438.64 L288.99,438.74 L289.57,438.85 L290.15,438.96 L290.73,439.07 L291.31,439.19 L291.90,439.32 L292.48,439.44 L293.06,439.57 L293.64,439.71 L294.22,439.85 L294.80,439.99 L295.38,440.13 L295.97,440.27 L296.55,440.42 L297.13,440.57 L297.71,440.72 L298.29,440.87 L298.87,441.01 L299.46,441.15 L300.04,441.27 L300.62,441.38 L301.20,441.47 L301.20,445.30 Z" fill="#1ea3dd" fill-opacity="0.5"/>
<path d="M68.60,445.30 L68.60,443.94 L69.18,443.94 L69.76,443.94 L70.34,443.93 L70.93,443.92 L71.51,443.91 L72.09,443.89 L72.67,443.88 L73.25,443.86 L73.83,443.84 L74.41,443.82 L75.00,443.79 L75.58,443.76 L76.16,443.74 L76.74,443.71 L77.32,443.67 L77.90,443.64 L78.49,443.60 L79.07,443.57 L79.65,443.53 L80.23,443.49 L80.81,443.44 L81.39,443.40 L81.97,443.35 L82.56,443.31 L83.14,443.26 L83.72,443.21 L84.30,443.16 L84.88,443.11 L85.46,443.06 L86.04,443.00 L86.63,442.95 L87.21,442.89 L87.79,442.84 L88.37,442.78 L88.95,442.72 L89.53,442.66 L90.12,442.60 L90.70,442.53 L91.28,442.46 L91.86,442.39 L92.44,442.31 L93.02,442.22 L93.60,442.13 L94.19,442.04 L94.77,441.94 L95.35,441.83 L95.93,441.72 L96.51,441.60 L97.09,441.47 L97.67,441.34 L98.26,441.20 L98.84,441.06 L99.42,440.90 L100.00,440.75 L100.58,440.58 L101.16,440.41 L101.75,440.23 L102.33,440.03 L102.91,439.82 L103.49,439.60 L104.07,439.35 L104.65,439.09 L105.23,438.80 L105.82,438.49 L106.40,438.16 L106.98,437.80 L107.56,437.43 L108.14,437.03 L108.72,436.62 L109.31,436.19 L109.89,435.74 L110.47,435.27 L111.05,434.80 L111.63,434.30 L112.21,433.80 L112.79,433.29 L113.38,432.76 L113.96,432.23 L114.54,431.68 L115.12,431.11 L115.70,430.52 L116.28,429.92 L116.86,429.28 L117.45,428.62 L118.03,427.94 L118.61,427.22 L119.19,426.48 L119.77,425.72 L120.35,424.93 L120.94,424.12 L121.52,423.29 L122.10,422.45 L122.68,421.60 L123.26,420.73 L123.84,419.86 L124.42,418.97 L125.01,418.09 L125.59,417.20 L126.17,416.31 L126.75,415.43 L127.33,414.54 L127.91,413.65 L128.49,412.76 L129.08,411.87 L129.66,410.97 L130.24,410.06 L130.82,409.15 L131.40,408.23 L131.98,407.30 L132.56,406.36 L133.15,405.42 L133.73,404.48 L134.31,403.53 L134.89,402.57 L135.47,401.62 L136.05,400.66 L136.64,399.70 L137.22,398.75 L137.80,397.79 L138.38,396.84 L138.96,395.89 L139.54,394.95 L140.12,394.01 L140.71,393.07 L141.29,392.14 L141.87,391.20 L142.45,390.27 L143.03,389.35 L143.61,388.42 L144.19,387.49 L144.78,386.57 L145.36,385.64 L145.94,384.72 L146.52,383.80 L147.10,382.88 L147.68,381.95 L148.27,381.04 L148.85,380.12 L149.43,379.20 L150.01,378.28 L150.59,377.36 L151.17,376.45 L151.75,375.53 L152.34,374.61 L152.92,373.68 L153.50,372.75 L154.08,371.80 L154.66,370.85 L155.24,369.88 L155.82,368.92 L156.41,367.95 L156.99,366.99 L157.57,366.05 L158.15,365.13 L158.73,364.24 L159.31,363.38 L159.90,362.58 L160.48,361.81 L161.06,361.10 L161.64,360.43 L162.22,359.80 L162.80,359.23 L163.38,358.71 L163.97,358.25 L164.55,357.87 L165.13,357.58 L165.71,357.39 L166.29,357.30 L166.87,357.32 L167.45,357.44 L168.04,357.66 L168.62,357.96 L169.20,358.34 L169.78,358.80 L170.36,359.33 L170.94,359.93 L171.53,360.60 L172.11,361.35 L172.69,362.18 L173.27,363.07 L173.85,364.04 L174.43,365.06 L175.01,366.14 L175.60,367.28 L176.18,368.46 L176.76,369.69 L177.34,370.97 L177.92,372.28 L178.50,373.63 L179.09,375.00 L179.67,376.39 L180.25,377.80 L180.83,379.22 L181.41,380.64 L181.99,382.06 L182.57,383.47 L183.16,384.88 L183.74,386.28 L184.32,387.68 L184.90,389.08 L185.48,390.47 L186.06,391.86 L186.64,393.23 L187.23,394.59 L187.81,395.94 L188.39,397.25 L188.97,398.54 L189.55,399.80 L190.13,401.04 L190.72,402.24 L191.30,403.43 L191.88,404.58 L192.46,405.72 L193.04,406.83 L193.62,407.91 L194.20,408.96 L194.79,409.97 L195.37,410.95 L195.95,411.90 L196.53,412.80 L197.11,413.67 L197.69,414.50 L198.27,415.30 L198.86,416.07 L199.44,416.80 L200.02,417.52 L200.60,418.21 L201.18,418.89 L201.76,419.55 L202.34,420.19 L202.93,420.83 L203.51,421.47 L204.09,422.10 L204.67,422.73 L205.25,423.37 L205.83,424.00 L206.42,424.64 L207.00,425.28 L207.58,425.92 L208.16,426.54 L208.74,427.15 L209.32,427.74 L209.90,428.30 L210.49,428.83 L211.07,429.32 L211.65,429.78 L212.23,430.21 L212.81,430.61 L213.39,430.99 L213.97,431.34 L214.56,431.68 L215.14,432.00 L215.72,432.30 L216.30,432.60 L216.88,432.89 L217.46,433.17 L218.05,433.45 L218.63,433.72 L219.21,433.99 L219.79,434.26 L220.37,434.53 L220.95,434.81 L221.53,435.08 L222.12,435.36 L222.70,435.64 L223.28,435.93 L223.86,436.21 L224.44,436.50 L225.02,436.79 L225.61,437.08 L226.19,437.36 L226.77,437.65 L227.35,437.93 L227.93,438.21 L228.51,438.48 L229.09,438.75 L229.68,439.01 L230.26,439.26 L230.84,439.50 L231.42,439.74 L232.00,439.96 L232.58,440.18 L233.16,440.39 L233.75,440.59 L234.33,440.77 L234.91,440.95 L235.49,441.13 L236.07,441.30 L236.65,441.46 L237.24,441.62 L237.82,441.78 L238.40,441.94 L238.98,442.09 L239.56,442.23 L240.14,442.38 L240.72,442.51 L241.31,442.65 L241.89,442.78 L242.47,442.91 L243.05,443.03 L243.63,443.14 L244.21,443.25 L244.79,443.36 L245.38,443.46 L245.96,443.55 L246.54,443.64 L247.12,443.72 L247.70,443.80 L248.28,443.87 L248.87,443.93 L249.45,443.99 L250.03,444.05 L250.61,444.11 L251.19,444.16 L251.77,444.22 L252.35,444.27 L252.94,444.32 L253.52,444.36 L254.10,444.41 L254.68,444.46 L255.26,444.50 L255.84,444.54 L256.42,444.59 L257.01,444.63 L257.59,444.66 L258.17,444.70 L258.75,444.73 L259.33,444.77 L259.91,444.80 L260.50,444.83 L261.08,444.86 L261.66,444.88 L262.24,444.91 L262.82,444.93 L263.40,444.95 L263.98,444.97 L264.57,444.99 L265.15,445.00 L265.73,445.01 L266.31,445.02 L266.89,445.04 L267.47,445.05 L268.05,445.05 L268.64,445.06 L269.22,445.07 L269.80,445.08 L270.38,445.09 L270.96,445.10 L271.54,445.10 L272.12,445.11 L272.71,445.12 L273.29,445.12 L273.87,445.13 L274.45,445.14 L275.03,445.15 L275.61,445.15 L276.20,445.16 L276.78,445.16 L277.36,445.17 L277.94,445.18 L278.52,445.18 L279.10,445.19 L279.68,445.19 L280.27,445.20 L280.85,445.21 L281.43,445.21 L282.01,445.22 L282.59,445.22 L283.17,445.23 L283.75,445.23 L284.34,445.23 L284.92,445.24 L285.50,445.24 L286.08,445.25 L286.66,445.25 L287.24,445.25 L287.83,445.26 L288.41,445.26 L288.99,445.27 L289.57,445.27 L290.15,445.27 L290.73,445.27 L291.31,445.28 L291.90,445.28 L292.48,445.28 L293.06,445.28 L293.64,445.29 L294.22,445.29 L294.80,445.29 L295.38,445.29 L295.97,445.29 L296.55,445.29 L297.13,445.30 L297.71,445.30 L298.29,445.30 L298.87,445.30 L299.46,445.30 L300.04,445.30 L300.62,445.30 L301.20,445.30 L301.20,445.30 Z" fill="#b46a4c"/>
<path d="M68.60,432.15 L69.18,431.86 L69.76,431.50 L70.34,431.07 L70.93,430.60 L71.51,430.08 L72.09,429.53 L72.67,428.96 L73.25,428.37 L73.83,427.77 L74.41,427.15 L75.00,426.51 L75.58,425.87 L76.16,425.21 L76.74,424.54 L77.32,423.85 L77.90,423.16 L78.49,422.45 L79.07,421.72 L79.65,420.98 L80.23,420.22 L80.81,419.44 L81.39,418.64 L81.97,417.82 L82.56,416.96 L83.14,416.09 L83.72,415.20 L84.30,414.29 L84.88,413.37 L85.46,412.43 L86.04,411.50 L86.63,410.55 L87.21,409.61 L87.79,408.68 L88.37,407.75 L88.95,406.83 L89.53,405.91 L90.12,405.01 L90.70,404.11 L91.28,403.21 L91.86,402.32 L92.44,401.43 L93.02,400.53 L93.60,399.64 L94.19,398.75 L94.77,397.86 L95.35,396.98 L95.93,396.10 L96.51,395.23 L97.09,394.37 L97.67,393.52 L98.26,392.68 L98.84,391.86 L99.42,391.06 L100.00,390.28 L100.58,389.51 L101.16,388.77 L101.75,388.05 L102.33,387.36 L102.91,386.68 L103.49,386.03 L104.07,385.41 L104.65,384.80 L105.23,384.21 L105.82,383.64 L106.40,383.08 L106.98,382.53 L107.56,381.99 L108.14,381.46 L108.72,380.94 L109.31,380.42 L109.89,379.91 L110.47,379.39 L111.05,378.88 L111.63,378.36 L112.21,377.84 L112.79,377.32 L113.38,376.79 L113.96,376.26 L114.54,375.73 L115.12,375.20 L115.70,374.67 L116.28,374.13 L116.86,373.60 L117.45,373.07 L118.03,372.54 L118.61,372.01 L119.19,371.49 L119.77,370.96 L120.35,370.44 L120.94,369.92 L121.52,369.41 L122.10,368.89 L122.68,368.38 L123.26,367.87 L123.84,367.37 L124.42,366.88 L125.01,366.40 L125.59,365.95 L126.17,365.52 L126.75,365.12 L127.33,364.75 L127.91,364.40 L128.49,364.08 L129.08,363.77 L129.66,363.47 L130.24,363.20 L130.82,362.94 L131.40,362.70 L131.98,362.48 L132.56,362.28 L133.15,362.12 L133.73,361.97 L134.31,361.86 L134.89,361.77 L135.47,361.71 L136.05,361.66 L136.64,361.63 L137.22,361.62 L137.80,361.61 L138.38,361.60 L138.96,361.58 L139.54,361.56 L140.12,361.53 L140.71,361.48 L141.29,361.41 L141.87,361.30 L142.45,361.16 L143.03,360.97 L143.61,360.75 L144.19,360.48 L144.78,360.16 L145.36,359.80 L145.94,359.38 L146.52,358.90 L147.10,358.33 L147.68,357.66 L148.27,356.84 L148.85,355.87 L149.43,354.71 L150.01,353.34 L150.59,351.78 L151.17,350.02 L151.75,348.07 L152.34,345.94 L152.92,343.65 L153.50,341.22 L154.08,338.67 L154.66,336.07 L155.24,333.44 L155.82,330.85 L156.41,328.34 L156.99,325.93 L157.57,323.65 L158.15,321.49 L158.73,319.45 L159.31,317.51 L159.90,315.66 L160.48,313.88 L161.06,312.17 L161.64,310.54 L162.22,309.01 L162.80,307.60 L163.38,306.34 L163.97,305.27 L164.55,304.40 L165.13,303.77 L165.71,303.38 L166.29,303.25 L166.87,303.38 L167.45,303.77 L168.04,304.41 L168.62,305.28 L169.20,306.39 L169.78,307.69 L170.36,309.16 L170.94,310.78 L171.53,312.51 L172.11,314.33 L172.69,316.20 L173.27,318.13 L173.85,320.09 L174.43,322.09 L175.01,324.11 L175.60,326.15 L176.18,328.20 L176.76,330.26 L177.34,332.32 L177.92,334.37 L178.50,336.41 L179.09,338.44 L179.67,340.45 L180.25,342.46 L180.83,344.46 L181.41,346.46 L181.99,348.47 L182.57,350.48 L183.16,352.51 L183.74,354.54 L184.32,356.60 L184.90,358.67 L185.48,360.75 L186.06,362.83 L186.64,364.90 L187.23,366.96 L187.81,369.00 L188.39,371.01 L188.97,372.98 L189.55,374.92 L190.13,376.82 L190.72,378.68 L191.30,380.51 L191.88,382.32 L192.46,384.09 L193.04,385.84 L193.62,387.55 L194.20,389.22 L194.79,390.86 L195.37,392.45 L195.95,394.00 L196.53,395.51 L197.11,396.96 L197.69,398.37 L198.27,399.74 L198.86,401.06 L199.44,402.34 L200.02,403.58 L200.60,404.78 L201.18,405.95 L201.76,407.09 L202.34,408.19 L202.93,409.26 L203.51,410.30 L204.09,411.31 L204.67,412.28 L205.25,413.22 L205.83,414.14 L206.42,415.03 L207.00,415.90 L207.58,416.74 L208.16,417.57 L208.74,418.38 L209.32,419.18 L209.90,419.96 L210.49,420.72 L211.07,421.47 L211.65,422.20 L212.23,422.92 L212.81,423.62 L213.39,424.30 L213.97,424.97 L214.56,425.62 L215.14,426.26 L215.72,426.87 L216.30,427.47 L216.88,428.05 L217.46,428.62 L218.05,429.17 L218.63,429.70 L219.21,430.21 L219.79,430.71 L220.37,431.19 L220.95,431.66 L221.53,432.11 L222.12,432.55 L222.70,432.98 L223.28,433.40 L223.86,433.81 L224.44,434.21 L225.02,434.61 L225.61,435.00 L226.19,435.39 L226.77,435.77 L227.35,436.15 L227.93,436.53 L228.51,436.91 L229.09,437.30 L229.68,437.68 L230.26,438.06 L230.84,438.43 L231.42,438.81 L232.00,439.17 L232.58,439.53 L233.16,439.88 L233.75,440.21 L234.33,440.53 L234.91,440.83 L235.49,441.11 L236.07,441.38 L236.65,441.63 L237.24,441.85 L237.82,442.07 L238.40,442.27 L238.98,442.46 L239.56,442.65 L240.14,442.82 L240.72,442.99 L241.31,443.15 L241.89,443.31 L242.47,443.46 L243.05,443.60 L243.63,443.73 L244.21,443.86 L244.79,443.98 L245.38,444.09 L245.96,444.20 L246.54,444.29 L247.12,444.38 L247.70,444.46 L248.28,444.53 L248.87,444.60 L249.45,444.66 L250.03,444.72 L250.61,444.77 L251.19,444.83 L251.77,444.87 L252.35,444.92 L252.94,444.97 L253.52,445.01 L254.10,445.05 L254.68,445.09 L255.26,445.12 L255.84,445.15 L256.42,445.18 L257.01,445.21 L257.59,445.23 L258.17,445.25 L258.75,445.26 L259.33,445.27 L259.91,445.28 L260.50,445.29 L261.08,445.29 L261.66,445.30 L262.24,445.30 L262.82,445.30 L263.40,445.30 L263.98,445.30 L264.57,445.30 L265.15,445.30 L265.73,445.30 L266.31,445.30 L266.89,445.30 L267.47,445.30 L268.05,445.30 L268.64,445.30 L269.22,445.30 L269.80,445.30 L270.38,445.30 L270.96,445.30 L271.54,445.30 L272.12,445.30 L272.71,445.30 L273.29,445.30 L273.87,445.30 L274.45,445.30 L275.03,445.30 L275.61,445.30 L276.20,445.30 L276.78,445.30 L277.36,445.30 L277.94,445.30 L278.52,445.30 L279.10,445.30 L279.68,445.30 L280.27,445.30 L280.85,445.30 L281.43,445.30 L282.01,445.30 L282.59,445.30 L283.17,445.30 L283.75,445.30 L284.34,445.30 L284.92,445.30 L285.50,445.30 L286.08,445.30 L286.66,445.30 L287.24,445.30 L287.83,445.30 L288.41,445.30 L288.99,445.30 L289.57,445.30 L290.15,445.30 L290.73,445.30 L291.31,445.30 L291.90,445.30 L292.48,445.30 L293.06,445.30 L293.64,445.30 L294.22,445.30 L294.80,445.30 L295.38,445.30 L295.97,445.30 L296.55,445.30 L297.13,445.30 L297.71,445.30 L298.29,445.30 L298.87,445.30 L299.46,445.30 L300.04,445.30 L300.62,445.30 L301.20,445.30" fill="none" stroke="#1f4a58" stroke-width="0.55"/>
<path d="M68.60,438.07 L69.18,437.83 L69.76,437.54 L70.34,437.20 L70.93,436.81 L71.51,436.39 L72.09,435.95 L72.67,435.49 L73.25,435.01 L73.83,434.51 L74.41,434.01 L75.00,433.49 L75.58,432.96 L76.16,432.42 L76.74,431.87 L77.32,431.31 L77.90,430.74 L78.49,430.16 L79.07,429.57 L79.65,428.96 L80.23,428.33 L80.81,427.68 L81.39,427.01 L81.97,426.32 L82.56,425.60 L83.14,424.87 L83.72,424.11 L84.30,423.35 L84.88,422.57 L85.46,421.79 L86.04,421.01 L86.63,420.23 L87.21,419.45 L87.79,418.70 L88.37,417.95 L88.95,417.23 L89.53,416.52 L90.12,415.84 L90.70,415.18 L91.28,414.54 L91.86,413.92 L92.44,413.31 L93.02,412.72 L93.60,412.14 L94.19,411.57 L94.77,411.01 L95.35,410.45 L95.93,409.90 L96.51,409.35 L97.09,408.80 L97.67,408.26 L98.26,407.70 L98.84,407.15 L99.42,406.58 L100.00,406.01 L100.58,405.43 L101.16,404.84 L101.75,404.24 L102.33,403.63 L102.91,403.01 L103.49,402.38 L104.07,401.74 L104.65,401.10 L105.23,400.44 L105.82,399.78 L106.40,399.12 L106.98,398.44 L107.56,397.75 L108.14,397.05 L108.72,396.33 L109.31,395.60 L109.89,394.84 L110.47,394.06 L111.05,393.26 L111.63,392.43 L112.21,391.57 L112.79,390.68 L113.38,389.75 L113.96,388.78 L114.54,387.77 L115.12,386.72 L115.70,385.63 L116.28,384.50 L116.86,383.34 L117.45,382.15 L118.03,380.93 L118.61,379.68 L119.19,378.41 L119.77,377.10 L120.35,375.77 L120.94,374.41 L121.52,373.02 L122.10,371.59 L122.68,370.11 L123.26,368.58 L123.84,367.00 L124.42,365.36 L125.01,363.67 L125.59,361.93 L126.17,360.13 L126.75,358.30 L127.33,356.43 L127.91,354.55 L128.49,352.66 L129.08,350.78 L129.66,348.92 L130.24,347.09 L130.82,345.30 L131.40,343.55 L131.98,341.81 L132.56,340.08 L133.15,338.33 L133.73,336.52 L134.31,334.63 L134.89,332.61 L135.47,330.45 L136.05,328.13 L136.64,325.66 L137.22,323.05 L137.80,320.35 L138.38,317.62 L138.96,314.89 L139.54,312.22 L140.12,309.65 L140.71,307.19 L141.29,304.85 L141.87,302.63 L142.45,300.52 L143.03,298.53 L143.61,296.64 L144.19,294.86 L144.78,293.18 L145.36,291.60 L145.94,290.12 L146.52,288.72 L147.10,287.42 L147.68,286.21 L148.27,285.10 L148.85,284.08 L149.43,283.16 L150.01,282.33 L150.59,281.58 L151.17,280.91 L151.75,280.32 L152.34,279.79 L152.92,279.34 L153.50,278.97 L154.08,278.69 L154.66,278.50 L155.24,278.42 L155.82,278.43 L156.41,278.55 L156.99,278.76 L157.57,279.06 L158.15,279.43 L158.73,279.87 L159.31,280.37 L159.90,280.93 L160.48,281.53 L161.06,282.19 L161.64,282.90 L162.22,283.68 L162.80,284.53 L163.38,285.46 L163.97,286.49 L164.55,287.61 L165.13,288.84 L165.71,290.18 L166.29,291.62 L166.87,293.17 L167.45,294.82 L168.04,296.54 L168.62,298.32 L169.20,300.16 L169.78,302.03 L170.36,303.93 L170.94,305.85 L171.53,307.79 L172.11,309.75 L172.69,311.73 L173.27,313.73 L173.85,315.75 L174.43,317.79 L175.01,319.84 L175.60,321.91 L176.18,324.00 L176.76,326.10 L177.34,328.21 L177.92,330.34 L178.50,332.48 L179.09,334.62 L179.67,336.78 L180.25,338.95 L180.83,341.14 L181.41,343.36 L181.99,345.63 L182.57,347.98 L183.16,350.45 L183.74,353.06 L184.32,355.82 L184.90,358.73 L185.48,361.76 L186.06,364.87 L186.64,368.00 L187.23,371.09 L187.81,374.10 L188.39,377.00 L188.97,379.76 L189.55,382.37 L190.13,384.84 L190.72,387.17 L191.30,389.36 L191.88,391.42 L192.46,393.33 L193.04,395.12 L193.62,396.78 L194.20,398.32 L194.79,399.77 L195.37,401.13 L195.95,402.42 L196.53,403.64 L197.11,404.81 L197.69,405.93 L198.27,407.00 L198.86,408.04 L199.44,409.04 L200.02,410.01 L200.60,410.96 L201.18,411.88 L201.76,412.79 L202.34,413.68 L202.93,414.56 L203.51,415.43 L204.09,416.29 L204.67,417.14 L205.25,417.98 L205.83,418.81 L206.42,419.63 L207.00,420.43 L207.58,421.22 L208.16,421.99 L208.74,422.75 L209.32,423.48 L209.90,424.20 L210.49,424.89 L211.07,425.56 L211.65,426.20 L212.23,426.82 L212.81,427.40 L213.39,427.97 L213.97,428.50 L214.56,429.01 L215.14,429.50 L215.72,429.96 L216.30,430.41 L216.88,430.84 L217.46,431.26 L218.05,431.67 L218.63,432.06 L219.21,432.45 L219.79,432.82 L220.37,433.18 L220.95,433.53 L221.53,433.87 L222.12,434.19 L222.70,434.50 L223.28,434.79 L223.86,435.06 L224.44,435.32 L225.02,435.55 L225.61,435.77 L226.19,435.97 L226.77,436.15 L227.35,436.32 L227.93,436.47 L228.51,436.60 L229.09,436.73 L229.68,436.84 L230.26,436.95 L230.84,437.05 L231.42,437.15 L232.00,437.24 L232.58,437.32 L233.16,437.40 L233.75,437.47 L234.33,437.53 L234.91,437.58 L235.49,437.63 L236.07,437.66 L236.65,437.69 L237.24,437.72 L237.82,437.73 L238.40,437.75 L238.98,437.76 L239.56,437.77 L240.14,437.77 L240.72,437.78 L241.31,437.79 L241.89,437.79 L242.47,437.80 L243.05,437.80 L243.63,437.81 L244.21,437.81 L244.79,437.82 L245.38,437.82 L245.96,437.83 L246.54,437.83 L247.12,437.84 L247.70,437.84 L248.28,437.84 L248.87,437.85 L249.45,437.85 L250.03,437.85 L250.61,437.85 L251.19,437.86 L251.77,437.86 L252.35,437.86 L252.94,437.86 L253.52,437.87 L254.10,437.87 L254.68,437.87 L255.26,437.87 L255.84,437.87 L256.42,437.87 L257.01,437.87 L257.59,437.87 L258.17,437.87 L258.75,437.87 L259.33,437.87 L259.91,437.87 L260.50,437.87 L261.08,437.87 L261.66,437.87 L262.24,437.87 L262.82,437.87 L263.40,437.87 L263.98,437.87 L264.57,437.87 L265.15,437.87 L265.73,437.87 L266.31,437.87 L266.89,437.88 L267.47,437.88 L268.05,437.88 L268.64,437.88 L269.22,437.88 L269.80,437.88 L270.38,437.88 L270.96,437.88 L271.54,437.88 L272.12,437.88 L272.71,437.88 L273.29,437.88 L273.87,437.88 L274.45,437.88 L275.03,437.88 L275.61,437.88 L276.20,437.88 L276.78,437.88 L277.36,437.88 L277.94,437.88 L278.52,437.88 L279.10,437.88 L279.68,437.89 L280.27,437.89 L280.85,437.91 L281.43,437.92 L282.01,437.95 L282.59,437.98 L283.17,438.01 L283.75,438.06 L284.34,438.11 L284.92,438.16 L285.50,438.23 L286.08,438.30 L286.66,438.38 L287.24,438.46 L287.83,438.55 L288.41,438.64 L288.99,438.74 L289.57,438.85 L290.15,438.96 L290.73,439.07 L291.31,439.19 L291.90,439.32 L292.48,439.44 L293.06,439.57 L293.64,439.71 L294.22,439.85 L294.80,439.99 L295.38,440.13 L295.97,440.27 L296.55,440.42 L297.13,440.57 L297.71,440.72 L298.29,440.87 L298.87,441.01 L299.46,441.15 L300.04,441.27 L300.62,441.38 L301.20,441.47" fill="none" stroke="#1f4a58" stroke-width="0.55"/>
<path d="M68.60,443.94 L69.18,443.94 L69.76,443.94 L70.34,443.93 L70.93,443.92 L71.51,443.91 L72.09,443.89 L72.67,443.88 L73.25,443.86 L73.83,443.84 L74.41,443.82 L75.00,443.79 L75.58,443.76 L76.16,443.74 L76.74,443.71 L77.32,443.67 L77.90,443.64 L78.49,443.60 L79.07,443.57 L79.65,443.53 L80.23,443.49 L80.81,443.44 L81.39,443.40 L81.97,443.35 L82.56,443.31 L83.14,443.26 L83.72,443.21 L84.30,443.16 L84.88,443.11 L85.46,443.06 L86.04,443.00 L86.63,442.95 L87.21,442.89 L87.79,442.84 L88.37,442.78 L88.95,442.72 L89.53,442.66 L90.12,442.60 L90.70,442.53 L91.28,442.46 L91.86,442.39 L92.44,442.31 L93.02,442.22 L93.60,442.13 L94.19,442.04 L94.77,441.94 L95.35,441.83 L95.93,441.72 L96.51,441.60 L97.09,441.47 L97.67,441.34 L98.26,441.20 L98.84,441.06 L99.42,440.90 L100.00,440.75 L100.58,440.58 L101.16,440.41 L101.75,440.23 L102.33,440.03 L102.91,439.82 L103.49,439.60 L104.07,439.35 L104.65,439.09 L105.23,438.80 L105.82,438.49 L106.40,438.16 L106.98,437.80 L107.56,437.43 L108.14,437.03 L108.72,436.62 L109.31,436.19 L109.89,435.74 L110.47,435.27 L111.05,434.80 L111.63,434.30 L112.21,433.80 L112.79,433.29 L113.38,432.76 L113.96,432.23 L114.54,431.68 L115.12,431.11 L115.70,430.52 L116.28,429.92 L116.86,429.28 L117.45,428.62 L118.03,427.94 L118.61,427.22 L119.19,426.48 L119.77,425.72 L120.35,424.93 L120.94,424.12 L121.52,423.29 L122.10,422.45 L122.68,421.60 L123.26,420.73 L123.84,419.86 L124.42,418.97 L125.01,418.09 L125.59,417.20 L126.17,416.31 L126.75,415.43 L127.33,414.54 L127.91,413.65 L128.49,412.76 L129.08,411.87 L129.66,410.97 L130.24,410.06 L130.82,409.15 L131.40,408.23 L131.98,407.30 L132.56,406.36 L133.15,405.42 L133.73,404.48 L134.31,403.53 L134.89,402.57 L135.47,401.62 L136.05,400.66 L136.64,399.70 L137.22,398.75 L137.80,397.79 L138.38,396.84 L138.96,395.89 L139.54,394.95 L140.12,394.01 L140.71,393.07 L141.29,392.14 L141.87,391.20 L142.45,390.27 L143.03,389.35 L143.61,388.42 L144.19,387.49 L144.78,386.57 L145.36,385.64 L145.94,384.72 L146.52,383.80 L147.10,382.88 L147.68,381.95 L148.27,381.04 L148.85,380.12 L149.43,379.20 L150.01,378.28 L150.59,377.36 L151.17,376.45 L151.75,375.53 L152.34,374.61 L152.92,373.68 L153.50,372.75 L154.08,371.80 L154.66,370.85 L155.24,369.88 L155.82,368.92 L156.41,367.95 L156.99,366.99 L157.57,366.05 L158.15,365.13 L158.73,364.24 L159.31,363.38 L159.90,362.58 L160.48,361.81 L161.06,361.10 L161.64,360.43 L162.22,359.80 L162.80,359.23 L163.38,358.71 L163.97,358.25 L164.55,357.87 L165.13,357.58 L165.71,357.39 L166.29,357.30 L166.87,357.32 L167.45,357.44 L168.04,357.66 L168.62,357.96 L169.20,358.34 L169.78,358.80 L170.36,359.33 L170.94,359.93 L171.53,360.60 L172.11,361.35 L172.69,362.18 L173.27,363.07 L173.85,364.04 L174.43,365.06 L175.01,366.14 L175.60,367.28 L176.18,368.46 L176.76,369.69 L177.34,370.97 L177.92,372.28 L178.50,373.63 L179.09,375.00 L179.67,376.39 L180.25,377.80 L180.83,379.22 L181.41,380.64 L181.99,382.06 L182.57,383.47 L183.16,384.88 L183.74,386.28 L184.32,387.68 L184.90,389.08 L185.48,390.47 L186.06,391.86 L186.64,393.23 L187.23,394.59 L187.81,395.94 L188.39,397.25 L188.97,398.54 L189.55,399.80 L190.13,401.04 L190.72,402.24 L191.30,403.43 L191.88,404.58 L192.46,405.72 L193.04,406.83 L193.62,407.91 L194.20,408.96 L194.79,409.97 L195.37,410.95 L195.95,411.90 L196.53,412.80 L197.11,413.67 L197.69,414.50 L198.27,415.30 L198.86,416.07 L199.44,416.80 L200.02,417.52 L200.60,418.21 L201.18,418.89 L201.76,419.55 L202.34,420.19 L202.93,420.83 L203.51,421.47 L204.09,422.10 L204.67,422.73 L205.25,423.37 L205.83,424.00 L206.42,424.64 L207.00,425.28 L207.58,425.92 L208.16,426.54 L208.74,427.15 L209.32,427.74 L209.90,428.30 L210.49,428.83 L211.07,429.32 L211.65,429.78 L212.23,430.21 L212.81,430.61 L213.39,430.99 L213.97,431.34 L214.56,431.68 L215.14,432.00 L215.72,432.30 L216.30,432.60 L216.88,432.89 L217.46,433.17 L218.05,433.45 L218.63,433.72 L219.21,433.99 L219.79,434.26 L220.37,434.53 L220.95,434.81 L221.53,435.08 L222.12,435.36 L222.70,435.64 L223.28,435.93 L223.86,436.21 L224.44,436.50 L225.02,436.79 L225.61,437.08 L226.19,437.36 L226.77,437.65 L227.35,437.93 L227.93,438.21 L228.51,438.48 L229.09,438.75 L229.68,439.01 L230.26,439.26 L230.84,439.50 L231.42,439.74 L232.00,439.96 L232.58,440.18 L233.16,440.39 L233.75,440.59 L234.33,440.77 L234.91,440.95 L235.49,441.13 L236.07,441.30 L236.65,441.46 L237.24,441.62 L237.82,441.78 L238.40,441.94 L238.98,442.09 L239.56,442.23 L240.14,442.38 L240.72,442.51 L241.31,442.65 L241.89,442.78 L242.47,442.91 L243.05,443.03 L243.63,443.14 L244.21,443.25 L244.79,443.36 L245.38,443.46 L245.96,443.55 L246.54,443.64 L247.12,443.72 L247.70,443.80 L248.28,443.87 L248.87,443.93 L249.45,443.99 L250.03,444.05 L250.61,444.11 L251.19,444.16 L251.77,444.22 L252.35,444.27 L252.94,444.32 L253.52,444.36 L254.10,444.41 L254.68,444.46 L255.26,444.50 L255.84,444.54 L256.42,444.59 L257.01,444.63 L257.59,444.66 L258.17,444.70 L258.75,444.73 L259.33,444.77 L259.91,444.80 L260.50,444.83 L261.08,444.86 L261.66,444.88 L262.24,444.91 L262.82,444.93 L263.40,444.95 L263.98,444.97 L264.57,444.99 L265.15,445.00 L265.73,445.01 L266.31,445.02 L266.89,445.04 L267.47,445.05 L268.05,445.05 L268.64,445.06 L269.22,445.07 L269.80,445.08 L270.38,445.09 L270.96,445.10 L271.54,445.10 L272.12,445.11 L272.71,445.12 L273.29,445.12 L273.87,445.13 L274.45,445.14 L275.03,445.15 L275.61,445.15 L276.20,445.16 L276.78,445.16 L277.36,445.17 L277.94,445.18 L278.52,445.18 L279.10,445.19 L279.68,445.19 L280.27,445.20 L280.85,445.21 L281.43,445.21 L282.01,445.22 L282.59,445.22 L283.17,445.23 L283.75,445.23 L284.34,445.23 L284.92,445.24 L285.50,445.24 L286.08,445.25 L286.66,445.25 L287.24,445.25 L287.83,445.26 L288.41,445.26 L288.99,445.27 L289.57,445.27 L290.15,445.27 L290.73,445.27 L291.31,445.28 L291.90,445.28 L292.48,445.28 L293.06,445.28 L293.64,445.29 L294.22,445.29 L294.80,445.29 L295.38,445.29 L295.97,445.29 L296.55,445.29 L297.13,445.30 L297.71,445.30 L298.29,445.30 L298.87,445.30 L299.46,445.30 L300.04,445.30 L300.62,445.30 L301.20,445.30" fill="none" stroke="#3a2a20" stroke-width="0.55"/>
</g>
<line x1="154.4" y1="438.2" x2="154.4" y2="255.5" stroke="#d6d0cc" stroke-width="1.2" stroke-dasharray="9.5 6.7"/>
<line x1="154.4" y1="445.3" x2="154.4" y2="448.3" stroke="#bbbbbb" stroke-width="0.8"/>
<line x1="166.0" y1="438.2" x2="166.0" y2="255.5" stroke="#d6d0cc" stroke-width="1.2" stroke-dasharray="9.5 6.7"/>
<line x1="166.0" y1="445.3" x2="166.0" y2="448.3" stroke="#bbbbbb" stroke-width="0.8"/>
<rect x="68.6" y="254.5" width="233.6" height="190.8" fill="none" stroke="#666" stroke-width="1"/>
<path d="M68.6,445.3 h-4 M68.6,418.3 h-4 M68.6,391.3 h-4 M68.6,364.3 h-4 M68.6,337.3 h-4 M68.6,310.3 h-4 M68.6,283.3 h-4 M68.6,256.3 h-4 M68.6,445.3 v3 M126.8,445.3 v3 M184.9,445.3 v3 M243.1,445.3 v3 M301.2,445.3 v3" stroke="#555" stroke-width="0.8" fill="none"/>
<text x="59.8" y="445.3" font-size="9.5" text-anchor="middle" fill="#111111" stroke="#111111" stroke-width="0.1" transform="rotate(-90 59.8 445.3)">0</text>
<text x="59.8" y="418.3" font-size="9.5" text-anchor="middle" fill="#111111" stroke="#111111" stroke-width="0.1" transform="rotate(-90 59.8 418.3)">2</text>
<text x="59.8" y="391.3" font-size="9.5" text-anchor="middle" fill="#111111" stroke="#111111" stroke-width="0.1" transform="rotate(-90 59.8 391.3)">4</text>
<text x="59.8" y="364.3" font-size="9.5" text-anchor="middle" fill="#111111" stroke="#111111" stroke-width="0.1" transform="rotate(-90 59.8 364.3)">6</text>
<text x="59.8" y="337.3" font-size="9.5" text-anchor="middle" fill="#111111" stroke="#111111" stroke-width="0.1" transform="rotate(-90 59.8 337.3)">8</text>
<text x="59.8" y="310.3" font-size="9.5" text-anchor="middle" fill="#111111" stroke="#111111" stroke-width="0.1" transform="rotate(-90 59.8 310.3)">10</text>
<text x="59.8" y="283.3" font-size="9.5" text-anchor="middle" fill="#111111" stroke="#111111" stroke-width="0.1" transform="rotate(-90 59.8 283.3)">12</text>
<text x="59.8" y="256.3" font-size="9.5" text-anchor="middle" fill="#111111" stroke="#111111" stroke-width="0.1" transform="rotate(-90 59.8 256.3)">14</text>
<text x="68.6" y="459.8" font-size="10" text-anchor="middle" fill="#111111" stroke="#111111" stroke-width="0.1">0</text>
<text x="126.8" y="459.8" font-size="10" text-anchor="middle" fill="#111111" stroke="#111111" stroke-width="0.1">5</text>
<text x="184.9" y="459.8" font-size="10" text-anchor="middle" fill="#111111" stroke="#111111" stroke-width="0.1">10</text>
<text x="243.1" y="459.8" font-size="10" text-anchor="middle" fill="#111111" stroke="#111111" stroke-width="0.1">15</text>
<text x="301.2" y="459.8" font-size="10" text-anchor="middle" fill="#111111" stroke="#111111" stroke-width="0.1">20</text>
<text x="151.5" y="459.5" font-size="8.80" text-anchor="middle" fill="#9a9a9a" stroke="#9a9a9a" stroke-width="0.1" font-weight="normal" >7.4</text>
<text x="167.6" y="459.5" font-size="8.80" text-anchor="middle" fill="#9a9a9a" stroke="#9a9a9a" stroke-width="0.1" font-weight="normal" >8.4</text>
<text x="148.5" y="472.5" font-size="9.00" text-anchor="start" fill="#111111" stroke="#111111" stroke-width="0.1" font-weight="normal" textLength="65.5" lengthAdjust="spacingAndGlyphs" >Pressure (kbar)</text>
<text x="0.0" y="0.0" font-size="9.00" text-anchor="middle" fill="#111111" stroke="#111111" stroke-width="0.1" font-weight="normal" transform="translate(40.5 348) rotate(-90)">KDE / N</text>
<text x="293.0" y="265.8" font-size="9.50" text-anchor="middle" fill="#111111" stroke="#111111" stroke-width="0.1" font-weight="bold" >C</text>
<text x="210.0" y="318.1" font-size="9.00" text-anchor="start" fill="#111111" stroke="#111111" stroke-width="0.1" font-weight="normal" >C1</text>
<path d="M222.8,323.0 L223.2,323.0 L223.5,322.9 L223.9,322.9 L224.2,322.9 L224.6,322.8 L225.0,322.8 L225.3,322.7 L225.7,322.7 L226.0,322.6 L226.4,322.5 L226.7,322.5 L227.1,322.4 L227.5,322.3 L227.8,322.2 L228.2,322.1 L228.5,321.9 L228.9,321.8 L229.2,321.6 L229.6,321.5 L230.0,321.3 L230.3,321.1 L230.7,320.9 L231.0,320.6 L231.4,320.3 L231.8,320.1 L232.1,319.7 L232.5,319.4 L232.8,319.0 L233.2,318.6 L233.6,318.2 L233.9,317.8 L234.3,317.3 L234.6,316.8 L235.0,316.3 L235.3,315.7 L235.7,315.1 L236.1,314.5 L236.4,313.9 L236.8,313.3 L237.1,312.6 L237.5,312.0 L237.9,311.3 L238.2,310.7 L238.6,310.1 L238.9,309.5 L239.3,308.9 L239.6,308.5 L240.0,308.0 L240.4,307.7 L240.7,307.5 L241.1,307.6 L241.4,307.8 L241.8,308.1 L242.2,308.4 L242.5,308.9 L242.9,309.3 L243.2,309.8 L243.6,310.3 L243.9,310.8 L244.3,311.4 L244.7,311.9 L245.0,312.5 L245.4,313.0 L245.7,313.6 L246.1,314.1 L246.5,314.6 L246.8,315.1 L247.2,315.6 L247.5,316.1 L247.9,316.6 L248.2,317.0 L248.6,317.4 L249.0,317.8 L249.3,318.2 L249.7,318.5 L250.0,318.9 L250.4,319.2 L250.8,319.5 L251.1,319.7 L251.5,320.0 L251.8,320.2 L252.2,320.5 L252.5,320.7 L252.9,320.9 L253.3,321.1 L253.6,321.2 L254.0,321.4 L254.3,321.5 L254.7,321.7 L255.1,321.8 L255.4,321.9 L255.8,322.0 L256.1,322.1 L256.5,322.2 L256.8,322.3 L257.2,322.3 L257.6,322.4 L257.9,322.5 L258.3,322.5 L258.6,322.6 L259.0,322.6 L259.4,322.7 L259.7,322.7 L260.1,322.8 L260.4,322.8 L260.8,322.8 L261.1,322.9 L261.5,322.9 L261.9,322.9 L262.2,322.9 L262.6,323.0 L262.9,323.0 L263.3,323.0 L263.7,323.0 L264.0,323.0 L264.4,323.0 L264.7,323.1 L265.1,323.1 L265.4,323.1 L265.8,323.1 Z" fill="#4aab9c"/>
<text x="264.5" y="318.1" font-size="9.00" text-anchor="start" fill="#111111" stroke="#111111" stroke-width="0.1" font-weight="normal" textLength="26.2" lengthAdjust="spacingAndGlyphs" >N = 67</text>
<text x="210.0" y="340.5" font-size="9.00" text-anchor="start" fill="#111111" stroke="#111111" stroke-width="0.1" font-weight="normal" >C2</text>
<path d="M222.8,345.4 L223.2,345.4 L223.5,345.3 L223.9,345.3 L224.2,345.3 L224.6,345.2 L225.0,345.2 L225.3,345.1 L225.7,345.1 L226.0,345.0 L226.4,344.9 L226.7,344.9 L227.1,344.8 L227.5,344.7 L227.8,344.6 L228.2,344.5 L228.5,344.3 L228.9,344.2 L229.2,344.0 L229.6,343.9 L230.0,343.7 L230.3,343.5 L230.7,343.3 L231.0,343.0 L231.4,342.7 L231.8,342.5 L232.1,342.1 L232.5,341.8 L232.8,341.4 L233.2,341.0 L233.6,340.6 L233.9,340.2 L234.3,339.7 L234.6,339.2 L235.0,338.7 L235.3,338.1 L235.7,337.5 L236.1,336.9 L236.4,336.3 L236.8,335.7 L237.1,335.0 L237.5,334.4 L237.9,333.7 L238.2,333.1 L238.6,332.5 L238.9,331.9 L239.3,331.3 L239.6,330.9 L240.0,330.4 L240.4,330.1 L240.7,329.9 L241.1,330.0 L241.4,330.2 L241.8,330.5 L242.2,330.8 L242.5,331.3 L242.9,331.7 L243.2,332.2 L243.6,332.7 L243.9,333.2 L244.3,333.8 L244.7,334.3 L245.0,334.9 L245.4,335.4 L245.7,336.0 L246.1,336.5 L246.5,337.0 L246.8,337.5 L247.2,338.0 L247.5,338.5 L247.9,339.0 L248.2,339.4 L248.6,339.8 L249.0,340.2 L249.3,340.6 L249.7,340.9 L250.0,341.3 L250.4,341.6 L250.8,341.9 L251.1,342.1 L251.5,342.4 L251.8,342.6 L252.2,342.9 L252.5,343.1 L252.9,343.3 L253.3,343.5 L253.6,343.6 L254.0,343.8 L254.3,343.9 L254.7,344.1 L255.1,344.2 L255.4,344.3 L255.8,344.4 L256.1,344.5 L256.5,344.6 L256.8,344.7 L257.2,344.7 L257.6,344.8 L257.9,344.9 L258.3,344.9 L258.6,345.0 L259.0,345.0 L259.4,345.1 L259.7,345.1 L260.1,345.2 L260.4,345.2 L260.8,345.2 L261.1,345.3 L261.5,345.3 L261.9,345.3 L262.2,345.3 L262.6,345.4 L262.9,345.4 L263.3,345.4 L263.7,345.4 L264.0,345.4 L264.4,345.4 L264.7,345.5 L265.1,345.5 L265.4,345.5 L265.8,345.5 Z" fill="#e87c59"/>
<text x="264.5" y="340.5" font-size="9.00" text-anchor="start" fill="#111111" stroke="#111111" stroke-width="0.1" font-weight="normal" textLength="26.2" lengthAdjust="spacingAndGlyphs" >N = 32</text>
<text x="210.0" y="362.9" font-size="9.00" text-anchor="start" fill="#111111" stroke="#111111" stroke-width="0.1" font-weight="normal" >C3</text>
<path d="M222.8,367.8 L223.2,367.8 L223.5,367.7 L223.9,367.7 L224.2,367.7 L224.6,367.6 L225.0,367.6 L225.3,367.5 L225.7,367.5 L226.0,367.4 L226.4,367.3 L226.7,367.3 L227.1,367.2 L227.5,367.1 L227.8,367.0 L228.2,366.9 L228.5,366.7 L228.9,366.6 L229.2,366.4 L229.6,366.3 L230.0,366.1 L230.3,365.9 L230.7,365.7 L231.0,365.4 L231.4,365.1 L231.8,364.9 L232.1,364.5 L232.5,364.2 L232.8,363.8 L233.2,363.4 L233.6,363.0 L233.9,362.6 L234.3,362.1 L234.6,361.6 L235.0,361.1 L235.3,360.5 L235.7,359.9 L236.1,359.3 L236.4,358.7 L236.8,358.1 L237.1,357.4 L237.5,356.8 L237.9,356.1 L238.2,355.5 L238.6,354.9 L238.9,354.3 L239.3,353.7 L239.6,353.3 L240.0,352.8 L240.4,352.5 L240.7,352.3 L241.1,352.4 L241.4,352.6 L241.8,352.9 L242.2,353.2 L242.5,353.7 L242.9,354.1 L243.2,354.6 L243.6,355.1 L243.9,355.6 L244.3,356.2 L244.7,356.7 L245.0,357.3 L245.4,357.8 L245.7,358.4 L246.1,358.9 L246.5,359.4 L246.8,359.9 L247.2,360.4 L247.5,360.9 L247.9,361.4 L248.2,361.8 L248.6,362.2 L249.0,362.6 L249.3,363.0 L249.7,363.3 L250.0,363.7 L250.4,364.0 L250.8,364.3 L251.1,364.5 L251.5,364.8 L251.8,365.0 L252.2,365.3 L252.5,365.5 L252.9,365.7 L253.3,365.9 L253.6,366.0 L254.0,366.2 L254.3,366.3 L254.7,366.5 L255.1,366.6 L255.4,366.7 L255.8,366.8 L256.1,366.9 L256.5,367.0 L256.8,367.1 L257.2,367.1 L257.6,367.2 L257.9,367.3 L258.3,367.3 L258.6,367.4 L259.0,367.4 L259.4,367.5 L259.7,367.5 L260.1,367.6 L260.4,367.6 L260.8,367.6 L261.1,367.7 L261.5,367.7 L261.9,367.7 L262.2,367.7 L262.6,367.8 L262.9,367.8 L263.3,367.8 L263.7,367.8 L264.0,367.8 L264.4,367.8 L264.7,367.9 L265.1,367.9 L265.4,367.9 L265.8,367.9 Z" fill="#8fd4f2"/>
<text x="264.5" y="362.9" font-size="9.00" text-anchor="start" fill="#111111" stroke="#111111" stroke-width="0.1" font-weight="normal" textLength="26.2" lengthAdjust="spacingAndGlyphs" >N = 75</text>
<line x1="437.8" y1="256.7" x2="437.8" y2="443.7" stroke="#dc9ed2" stroke-width="1.0" stroke-dasharray="5.5 3"/>
<line x1="629.7" y1="256.7" x2="629.7" y2="443.7" stroke="#dc9ed2" stroke-width="1.0" stroke-dasharray="5.5 3"/>
<g opacity="0.9"><path d="M441.2,269.4 H462.0 M453.0,246.0 V300.7 M441.2,267.9 v3 M462.0,267.9 v3 M451.5,246.0 h3 M451.5,300.7 h3" stroke="#5f5f5f" stroke-width="0.75" fill="none"/><path d="M465.7,284.0 H481.4 M474.0,270.1 V297.8 M465.7,282.5 v3 M481.4,282.5 v3 M472.5,270.1 h3 M472.5,297.8 h3" stroke="#c8c8c8" stroke-width="0.75" fill="none"/><path d="M471.7,284.0 H495.6 M482.6,276.4 V291.3 M471.7,282.5 v3 M495.6,282.5 v3 M481.1,276.4 h3 M481.1,291.3 h3" stroke="#b4b4b4" stroke-width="0.75" fill="none"/><path d="M461.3,296.0 H507.0 M487.2,287.8 V301.7 M461.3,294.5 v3 M507.0,294.5 v3 M485.7,287.8 h3 M485.7,301.7 h3" stroke="#7a7a7a" stroke-width="0.75" fill="none"/><path d="M468.2,302.2 H514.6 M490.5,284.6 V316.5 M468.2,300.7 v3 M514.6,300.7 v3 M489.0,284.6 h3 M489.0,316.5 h3" stroke="#5f5f5f" stroke-width="0.75" fill="none"/><path d="M444.4,300.7 H463.5 M452.8,278.2 V330.3 M444.4,299.2 v3 M463.5,299.2 v3 M451.3,278.2 h3 M451.3,330.3 h3" stroke="#7a7a7a" stroke-width="0.75" fill="none"/><path d="M459.3,302.2 H513.7 M490.4,277.0 V317.8 M459.3,300.7 v3 M513.7,300.7 v3 M488.9,277.0 h3 M488.9,317.8 h3" stroke="#b4b4b4" stroke-width="0.75" fill="none"/><path d="M457.0,305.9 H506.8 M480.8,283.0 V329.9 M457.0,304.4 v3 M506.8,304.4 v3 M479.3,283.0 h3 M479.3,329.9 h3" stroke="#b4b4b4" stroke-width="0.75" fill="none"/><path d="M432.5,311.8 H488.6 M456.5,289.5 V325.3 M432.5,310.3 v3 M488.6,310.3 v3 M455.0,289.5 h3 M455.0,325.3 h3" stroke="#b4b4b4" stroke-width="0.75" fill="none"/><path d="M437.0,315.5 H499.9 M463.9,292.1 V329.6 M437.0,314.0 v3 M499.9,314.0 v3 M462.4,292.1 h3 M462.4,329.6 h3" stroke="#969696" stroke-width="0.75" fill="none"/><path d="M440.6,320.6 H477.3 M461.7,313.3 V327.0 M440.6,319.1 v3 M477.3,319.1 v3 M460.2,313.3 h3 M460.2,327.0 h3" stroke="#b4b4b4" stroke-width="0.75" fill="none"/><path d="M454.1,314.0 H496.3 M480.1,298.3 V324.5 M454.1,312.5 v3 M496.3,312.5 v3 M478.6,298.3 h3 M478.6,324.5 h3" stroke="#c8c8c8" stroke-width="0.75" fill="none"/><path d="M475.8,313.0 H509.1 M494.1,305.8 V318.7 M475.8,311.5 v3 M509.1,311.5 v3 M492.6,305.8 h3 M492.6,318.7 h3" stroke="#b4b4b4" stroke-width="0.75" fill="none"/><path d="M422.3,320.6 H451.4 M438.1,306.9 V330.9 M422.3,319.1 v3 M451.4,319.1 v3 M436.6,306.9 h3 M436.6,330.9 h3" stroke="#b4b4b4" stroke-width="0.75" fill="none"/><path d="M415.1,322.8 H466.9 M442.5,314.9 V327.8 M415.1,321.3 v3 M466.9,321.3 v3 M441.0,314.9 h3 M441.0,327.8 h3" stroke="#5f5f5f" stroke-width="0.75" fill="none"/><path d="M417.3,326.5 H464.0 M444.0,319.5 V332.8 M417.3,325.0 v3 M464.0,325.0 v3 M442.5,319.5 h3 M442.5,332.8 h3" stroke="#7a7a7a" stroke-width="0.75" fill="none"/><path d="M440.4,325.8 H458.0 M449.9,316.3 V338.8 M440.4,324.3 v3 M458.0,324.3 v3 M448.4,316.3 h3 M448.4,338.8 h3" stroke="#969696" stroke-width="0.75" fill="none"/><path d="M434.6,322.8 H484.5 M455.8,298.0 V339.9 M434.6,321.3 v3 M484.5,321.3 v3 M454.3,298.0 h3 M454.3,339.9 h3" stroke="#b4b4b4" stroke-width="0.75" fill="none"/><path d="M437.1,321.4 H500.4 M469.0,308.3 V337.0 M437.1,319.9 v3 M500.4,319.9 v3 M467.5,308.3 h3 M467.5,337.0 h3" stroke="#969696" stroke-width="0.75" fill="none"/><path d="M449.8,320.6 H499.7 M480.8,307.2 V337.9 M449.8,319.1 v3 M499.7,319.1 v3 M479.3,307.2 h3 M479.3,337.9 h3" stroke="#969696" stroke-width="0.75" fill="none"/><path d="M465.4,323.6 H502.5 M483.8,300.6 V345.6 M465.4,322.1 v3 M502.5,322.1 v3 M482.3,300.6 h3 M482.3,345.6 h3" stroke="#c8c8c8" stroke-width="0.75" fill="none"/><path d="M483.9,321.8 H496.5 M490.4,304.3 V346.0 M483.9,320.3 v3 M496.5,320.3 v3 M488.9,304.3 h3 M488.9,346.0 h3" stroke="#b4b4b4" stroke-width="0.75" fill="none"/><path d="M479.4,329.5 H503.1 M490.4,314.5 V342.5 M479.4,328.0 v3 M503.1,328.0 v3 M488.9,314.5 h3 M488.9,342.5 h3" stroke="#b4b4b4" stroke-width="0.75" fill="none"/><path d="M436.4,328.0 H483.8 M457.3,306.4 V345.2 M436.4,326.5 v3 M483.8,326.5 v3 M455.8,306.4 h3 M455.8,345.2 h3" stroke="#b4b4b4" stroke-width="0.75" fill="none"/><path d="M445.6,332.4 H475.1 M460.2,324.7 V341.0 M445.6,330.9 v3 M475.1,330.9 v3 M458.7,324.7 h3 M458.7,341.0 h3" stroke="#5f5f5f" stroke-width="0.75" fill="none"/><path d="M431.0,332.4 H450.4 M440.3,324.0 V344.1 M431.0,330.9 v3 M450.4,330.9 v3 M438.8,324.0 h3 M438.8,344.1 h3" stroke="#969696" stroke-width="0.75" fill="none"/><path d="M420.5,333.2 H478.1 M444.7,311.9 V352.4 M420.5,331.7 v3 M478.1,331.7 v3 M443.2,311.9 h3 M443.2,352.4 h3" stroke="#7a7a7a" stroke-width="0.75" fill="none"/><path d="M437.0,332.4 H460.1 M449.2,322.0 V345.4 M437.0,330.9 v3 M460.1,330.9 v3 M447.7,322.0 h3 M447.7,345.4 h3" stroke="#7a7a7a" stroke-width="0.75" fill="none"/><path d="M434.0,336.8 H468.0 M449.9,320.3 V350.4 M434.0,335.3 v3 M468.0,335.3 v3 M448.4,320.3 h3 M448.4,350.4 h3" stroke="#c8c8c8" stroke-width="0.75" fill="none"/><path d="M461.6,334.6 H475.8 M469.8,312.4 V351.4 M461.6,333.1 v3 M475.8,333.1 v3 M468.3,312.4 h3 M468.3,351.4 h3" stroke="#7a7a7a" stroke-width="0.75" fill="none"/><path d="M453.7,338.0 H516.8 M480.8,320.2 V349.5 M453.7,336.5 v3 M516.8,336.5 v3 M479.3,320.2 h3 M479.3,349.5 h3" stroke="#969696" stroke-width="0.75" fill="none"/><path d="M429.4,342.7 H458.9 M443.3,320.2 V374.0 M429.4,341.2 v3 M458.9,341.2 v3 M441.8,320.2 h3 M441.8,374.0 h3" stroke="#b4b4b4" stroke-width="0.75" fill="none"/><path d="M416.2,344.2 H484.4 M447.7,319.6 V377.4 M416.2,342.7 v3 M484.4,342.7 v3 M446.2,319.6 h3 M446.2,377.4 h3" stroke="#5f5f5f" stroke-width="0.75" fill="none"/><path d="M434.8,342.0 H481.5 M455.0,328.7 V354.9 M434.8,340.5 v3 M481.5,340.5 v3 M453.5,328.7 h3 M453.5,354.9 h3" stroke="#b4b4b4" stroke-width="0.75" fill="none"/><path d="M436.1,338.3 H483.0 M460.9,328.1 V352.1 M436.1,336.8 v3 M483.0,336.8 v3 M459.4,328.1 h3 M459.4,352.1 h3" stroke="#c8c8c8" stroke-width="0.75" fill="none"/><path d="M447.1,341.3 H489.8 M466.8,333.1 V351.3 M447.1,339.8 v3 M489.8,339.8 v3 M465.3,333.1 h3 M465.3,351.3 h3" stroke="#b4b4b4" stroke-width="0.75" fill="none"/><path d="M448.4,343.0 H502.1 M472.7,319.0 V372.0 M448.4,341.5 v3 M502.1,341.5 v3 M471.2,319.0 h3 M471.2,372.0 h3" stroke="#5f5f5f" stroke-width="0.75" fill="none"/><path d="M472.4,343.9 H496.2 M485.3,335.2 V350.1 M472.4,342.4 v3 M496.2,342.4 v3 M483.8,335.2 h3 M483.8,350.1 h3" stroke="#7a7a7a" stroke-width="0.75" fill="none"/><path d="M466.3,346.4 H521.2 M490.4,331.9 V360.5 M466.3,344.9 v3 M521.2,344.9 v3 M488.9,331.9 h3 M488.9,360.5 h3" stroke="#7a7a7a" stroke-width="0.75" fill="none"/><path d="M485.0,348.3 H503.7 M494.8,329.3 V366.7 M485.0,346.8 v3 M503.7,346.8 v3 M493.3,329.3 h3 M493.3,366.7 h3" stroke="#7a7a7a" stroke-width="0.75" fill="none"/><path d="M435.6,348.6 H457.3 M446.2,331.1 V365.7 M435.6,347.1 v3 M457.3,347.1 v3 M444.7,331.1 h3 M444.7,365.7 h3" stroke="#969696" stroke-width="0.75" fill="none"/><path d="M437.6,348.6 H464.1 M451.4,329.9 V366.9 M437.6,347.1 v3 M464.1,347.1 v3 M449.9,329.9 h3 M449.9,366.9 h3" stroke="#969696" stroke-width="0.75" fill="none"/><path d="M435.9,347.9 H480.8 M457.3,326.4 V363.5 M435.9,346.4 v3 M480.8,346.4 v3 M455.8,326.4 h3 M455.8,363.5 h3" stroke="#c8c8c8" stroke-width="0.75" fill="none"/><path d="M438.5,347.2 H488.5 M462.4,324.8 V376.7 M438.5,345.7 v3 M488.5,345.7 v3 M460.9,324.8 h3 M460.9,376.7 h3" stroke="#5f5f5f" stroke-width="0.75" fill="none"/><path d="M441.5,347.2 H485.0 M468.3,334.0 V365.0 M441.5,345.7 v3 M485.0,345.7 v3 M466.8,334.0 h3 M466.8,365.0 h3" stroke="#5f5f5f" stroke-width="0.75" fill="none"/><path d="M446.1,349.4 H507.1 M474.2,334.8 V368.2 M446.1,347.9 v3 M507.1,347.9 v3 M472.7,334.8 h3 M472.7,368.2 h3" stroke="#5f5f5f" stroke-width="0.75" fill="none"/><path d="M468.9,350.8 H485.9 M478.6,328.6 V366.9 M468.9,349.3 v3 M485.9,349.3 v3 M477.1,328.6 h3 M477.1,366.9 h3" stroke="#969696" stroke-width="0.75" fill="none"/><path d="M442.4,352.3 H452.8 M448.4,329.4 V379.6 M442.4,350.8 v3 M452.8,350.8 v3 M446.9,329.4 h3 M446.9,379.6 h3" stroke="#7a7a7a" stroke-width="0.75" fill="none"/><path d="M438.8,350.8 H470.3 M453.6,333.4 V368.1 M438.8,349.3 v3 M470.3,349.3 v3 M452.1,333.4 h3 M452.1,368.1 h3" stroke="#5f5f5f" stroke-width="0.75" fill="none"/><path d="M437.6,355.7 H479.1 M456.5,342.9 V366.4 M437.6,354.2 v3 M479.1,354.2 v3 M455.0,342.9 h3 M455.0,366.4 h3" stroke="#c8c8c8" stroke-width="0.75" fill="none"/><path d="M435.2,355.7 H484.0 M465.4,347.6 V362.1 M435.2,354.2 v3 M484.0,354.2 v3 M463.9,347.6 h3 M463.9,362.1 h3" stroke="#c8c8c8" stroke-width="0.75" fill="none"/><path d="M443.0,355.7 H506.5 M470.5,331.1 V370.8 M443.0,354.2 v3 M506.5,354.2 v3 M469.0,331.1 h3 M469.0,370.8 h3" stroke="#5f5f5f" stroke-width="0.75" fill="none"/><path d="M449.5,358.2 H507.8 M475.7,342.5 V380.2 M449.5,356.7 v3 M507.8,356.7 v3 M474.2,342.5 h3 M474.2,380.2 h3" stroke="#969696" stroke-width="0.75" fill="none"/><path d="M462.0,357.5 H507.5 M482.3,337.3 V372.7 M462.0,356.0 v3 M507.5,356.0 v3 M480.8,337.3 h3 M480.8,372.7 h3" stroke="#969696" stroke-width="0.75" fill="none"/><path d="M480.9,356.7 H506.4 M491.9,342.2 V374.4 M480.9,355.2 v3 M506.4,355.2 v3 M490.4,342.2 h3 M490.4,374.4 h3" stroke="#b4b4b4" stroke-width="0.75" fill="none"/><path d="M473.9,358.9 H517.1 M494.8,333.1 V392.7 M473.9,357.4 v3 M517.1,357.4 v3 M493.3,333.1 h3 M493.3,392.7 h3" stroke="#5f5f5f" stroke-width="0.75" fill="none"/><path d="M460.9,363.7 H521.7 M491.9,351.1 V374.9 M460.9,362.2 v3 M521.7,362.2 v3 M490.4,351.1 h3 M490.4,374.9 h3" stroke="#969696" stroke-width="0.75" fill="none"/><path d="M421.6,361.9 H440.4 M432.2,353.1 V371.8 M421.6,360.4 v3 M440.4,360.4 v3 M430.7,353.1 h3 M430.7,371.8 h3" stroke="#5f5f5f" stroke-width="0.75" fill="none"/><path d="M448.1,344.2 H467.1 M459.5,331.6 V356.2 M448.1,342.7 v3 M467.1,342.7 v3 M458.0,331.6 h3 M458.0,356.2 h3" stroke="#969696" stroke-width="0.75" fill="none"/><path d="M457.0,344.2 H474.4 M465.4,332.2 V359.3 M457.0,342.7 v3 M474.4,342.7 v3 M463.9,332.2 h3 M463.9,359.3 h3" stroke="#7a7a7a" stroke-width="0.75" fill="none"/><path d="M463.3,339.8 H481.6 M471.3,332.8 V347.9 M463.3,338.3 v3 M481.6,338.3 v3 M469.8,332.8 h3 M469.8,347.9 h3" stroke="#5f5f5f" stroke-width="0.75" fill="none"/><path d="M436.0,342.7 H470.4 M452.1,336.1 V350.4 M436.0,341.2 v3 M470.4,341.2 v3 M450.6,336.1 h3 M450.6,350.4 h3" stroke="#5f5f5f" stroke-width="0.75" fill="none"/><path d="M411.7,351.0 H435.1 M424.8,326.0 V377.4 M411.7,349.5 v3 M435.1,349.5 v3 M423.3,326.0 h3 M423.3,377.4 h3" stroke="#7a7a7a" stroke-width="0.75" fill="none"/><path d="M418.3,365.6 H441.3 M429.7,357.6 V374.2 M418.3,364.1 v3 M441.3,364.1 v3 M428.2,357.6 h3 M428.2,374.2 h3" stroke="#969696" stroke-width="0.75" fill="none"/><path d="M404.4,369.4 H456.1 M427.4,348.3 V385.0 M404.4,367.9 v3 M456.1,367.9 v3 M425.9,348.3 h3 M425.9,385.0 h3" stroke="#b4b4b4" stroke-width="0.75" fill="none"/><path d="M420.5,374.1 H433.6 M428.3,357.6 V387.9 M420.5,372.6 v3 M433.6,372.6 v3 M426.8,357.6 h3 M426.8,387.9 h3" stroke="#5f5f5f" stroke-width="0.75" fill="none"/><path d="M399.2,377.0 H432.0 M418.9,360.7 V387.9 M399.2,375.5 v3 M432.0,375.5 v3 M417.4,360.7 h3 M417.4,387.9 h3" stroke="#969696" stroke-width="0.75" fill="none"/><path d="M413.6,377.9 H432.3 M423.2,354.1 V407.1 M413.6,376.4 v3 M432.3,376.4 v3 M421.7,354.1 h3 M421.7,407.1 h3" stroke="#5f5f5f" stroke-width="0.75" fill="none"/><path d="M382.0,379.4 H435.9 M411.3,362.9 V394.7 M382.0,377.9 v3 M435.9,377.9 v3 M409.8,362.9 h3 M409.8,394.7 h3" stroke="#7a7a7a" stroke-width="0.75" fill="none"/><path d="M394.6,382.0 H429.9 M413.2,374.1 V392.4 M394.6,380.5 v3 M429.9,380.5 v3 M411.7,374.1 h3 M411.7,392.4 h3" stroke="#969696" stroke-width="0.75" fill="none"/><path d="M385.1,383.2 H449.7 M417.0,366.9 V404.6 M385.1,381.7 v3 M449.7,381.7 v3 M415.5,366.9 h3 M415.5,404.6 h3" stroke="#969696" stroke-width="0.75" fill="none"/><path d="M403.7,381.7 H440.3 M419.8,360.6 V400.8 M403.7,380.2 v3 M440.3,380.2 v3 M418.3,360.6 h3 M418.3,400.8 h3" stroke="#b4b4b4" stroke-width="0.75" fill="none"/><path d="M396.8,385.5 H449.4 M419.8,374.4 V394.8 M396.8,384.0 v3 M449.4,384.0 v3 M418.3,374.4 h3 M418.3,394.8 h3" stroke="#5f5f5f" stroke-width="0.75" fill="none"/><path d="M397.9,379.8 H461.2 M428.3,357.1 V408.0 M397.9,378.3 v3 M461.2,378.3 v3 M426.8,357.1 h3 M426.8,408.0 h3" stroke="#c8c8c8" stroke-width="0.75" fill="none"/><path d="M412.9,383.2 H437.5 M427.8,367.8 V398.8 M412.9,381.7 v3 M437.5,381.7 v3 M426.3,367.8 h3 M426.3,398.8 h3" stroke="#969696" stroke-width="0.75" fill="none"/><path d="M405.9,380.2 H460.6 M433.1,366.7 V395.2 M405.9,378.7 v3 M460.6,378.7 v3 M431.6,366.7 h3 M431.6,395.2 h3" stroke="#5f5f5f" stroke-width="0.75" fill="none"/><path d="M418.6,377.0 H454.3 M434.0,354.8 V406.5 M418.6,375.5 v3 M454.3,375.5 v3 M432.5,354.8 h3 M432.5,406.5 h3" stroke="#b4b4b4" stroke-width="0.75" fill="none"/><path d="M409.5,384.5 H459.5 M433.0,362.8 V406.7 M409.5,383.0 v3 M459.5,383.0 v3 M431.5,362.8 h3 M431.5,406.7 h3" stroke="#c8c8c8" stroke-width="0.75" fill="none"/><path d="M422.2,377.5 H469.2 M443.5,361.2 V398.1 M422.2,376.0 v3 M469.2,376.0 v3 M442.0,361.2 h3 M442.0,398.1 h3" stroke="#7a7a7a" stroke-width="0.75" fill="none"/><path d="M434.5,379.8 H448.1 M440.7,370.0 V388.3 M434.5,378.3 v3 M448.1,378.3 v3 M439.2,370.0 h3 M439.2,388.3 h3" stroke="#b4b4b4" stroke-width="0.75" fill="none"/><path d="M444.7,383.6 H467.3 M458.3,373.6 V389.8 M444.7,382.1 v3 M467.3,382.1 v3 M456.8,373.6 h3 M456.8,389.8 h3" stroke="#c8c8c8" stroke-width="0.75" fill="none"/><path d="M443.1,376.4 H490.6 M470.0,357.3 V402.7 M443.1,374.9 v3 M490.6,374.9 v3 M468.5,357.3 h3 M468.5,402.7 h3" stroke="#c8c8c8" stroke-width="0.75" fill="none"/><path d="M447.3,380.2 H484.2 M468.2,361.2 V406.3 M447.3,378.7 v3 M484.2,378.7 v3 M466.7,361.2 h3 M466.7,406.3 h3" stroke="#7a7a7a" stroke-width="0.75" fill="none"/><path d="M456.8,380.2 H488.0 M472.0,373.8 V385.2 M456.8,378.7 v3 M488.0,378.7 v3 M470.5,373.8 h3 M470.5,385.2 h3" stroke="#5f5f5f" stroke-width="0.75" fill="none"/><path d="M513.9,313.1 H562.7 M541.8,291.8 V335.1 M513.9,311.6 v3 M562.7,311.6 v3 M540.3,291.8 h3 M540.3,335.1 h3" stroke="#969696" stroke-width="0.75" fill="none"/><path d="M526.0,336.6 H567.2 M544.3,316.8 V352.0 M526.0,335.1 v3 M567.2,335.1 v3 M542.8,316.8 h3 M542.8,352.0 h3" stroke="#7a7a7a" stroke-width="0.75" fill="none"/><path d="M535.6,338.4 H575.5 M552.6,315.4 V355.7 M535.6,336.9 v3 M575.5,336.9 v3 M551.1,315.4 h3 M551.1,355.7 h3" stroke="#5f5f5f" stroke-width="0.75" fill="none"/><path d="M504.0,348.7 H536.3 M521.6,325.1 V367.9 M504.0,347.2 v3 M536.3,347.2 v3 M520.1,325.1 h3 M520.1,367.9 h3" stroke="#7a7a7a" stroke-width="0.75" fill="none"/><path d="M508.4,350.0 H545.6 M526.6,336.8 V363.0 M508.4,348.5 v3 M545.6,348.5 v3 M525.1,336.8 h3 M525.1,363.0 h3" stroke="#5f5f5f" stroke-width="0.75" fill="none"/><path d="M518.5,353.0 H535.9 M526.6,340.3 V362.3 M518.5,351.5 v3 M535.9,351.5 v3 M525.1,340.3 h3 M525.1,362.3 h3" stroke="#b4b4b4" stroke-width="0.75" fill="none"/><path d="M526.4,348.7 H544.4 M534.2,334.1 V362.4 M526.4,347.2 v3 M544.4,347.2 v3 M532.7,334.1 h3 M532.7,362.4 h3" stroke="#7a7a7a" stroke-width="0.75" fill="none"/><path d="M519.5,352.5 H541.5 M532.4,340.2 V369.5 M519.5,351.0 v3 M541.5,351.0 v3 M530.9,340.2 h3 M530.9,369.5 h3" stroke="#5f5f5f" stroke-width="0.75" fill="none"/><path d="M534.1,347.2 H545.7 M540.5,326.6 V368.0 M534.1,345.7 v3 M545.7,345.7 v3 M539.0,326.6 h3 M539.0,368.0 h3" stroke="#b4b4b4" stroke-width="0.75" fill="none"/><path d="M523.8,353.0 H555.2 M541.8,329.3 V369.8 M523.8,351.5 v3 M555.2,351.5 v3 M540.3,329.3 h3 M540.3,369.8 h3" stroke="#969696" stroke-width="0.75" fill="none"/><path d="M537.7,351.8 H549.6 M545.0,337.7 V362.6 M537.7,350.3 v3 M549.6,350.3 v3 M543.5,337.7 h3 M543.5,362.6 h3" stroke="#5f5f5f" stroke-width="0.75" fill="none"/><path d="M541.4,351.3 H560.6 M552.6,344.6 V357.6 M541.4,349.8 v3 M560.6,349.8 v3 M551.1,344.6 h3 M551.1,357.6 h3" stroke="#c8c8c8" stroke-width="0.75" fill="none"/><path d="M542.3,351.0 H577.9 M561.2,343.2 V360.4 M542.3,349.5 v3 M577.9,349.5 v3 M559.7,343.2 h3 M559.7,360.4 h3" stroke="#969696" stroke-width="0.75" fill="none"/><path d="M538.4,359.8 H553.1 M545.0,348.7 V370.9 M538.4,358.3 v3 M553.1,358.3 v3 M543.5,348.7 h3 M543.5,370.9 h3" stroke="#c8c8c8" stroke-width="0.75" fill="none"/><path d="M524.2,362.6 H557.1 M540.5,343.8 V385.6 M524.2,361.1 v3 M557.1,361.1 v3 M539.0,343.8 h3 M539.0,385.6 h3" stroke="#b4b4b4" stroke-width="0.75" fill="none"/><path d="M515.7,366.2 H553.6 M539.2,357.9 V373.2 M515.7,364.7 v3 M553.6,364.7 v3 M537.7,357.9 h3 M537.7,373.2 h3" stroke="#c8c8c8" stroke-width="0.75" fill="none"/><path d="M528.7,368.2 H544.8 M536.7,345.6 V396.0 M528.7,366.7 v3 M544.8,366.7 v3 M535.2,345.6 h3 M535.2,396.0 h3" stroke="#b4b4b4" stroke-width="0.75" fill="none"/><path d="M489.6,375.0 H526.2 M508.9,356.4 V400.3 M489.6,373.5 v3 M526.2,373.5 v3 M507.4,356.4 h3 M507.4,400.3 h3" stroke="#c8c8c8" stroke-width="0.75" fill="none"/><path d="M501.4,376.3 H526.3 M514.0,352.1 V394.8 M501.4,374.8 v3 M526.3,374.8 v3 M512.5,352.1 h3 M512.5,394.8 h3" stroke="#b4b4b4" stroke-width="0.75" fill="none"/><path d="M497.1,374.5 H546.3 M518.3,350.7 V399.4 M497.1,373.0 v3 M546.3,373.0 v3 M516.8,350.7 h3 M516.8,399.4 h3" stroke="#c8c8c8" stroke-width="0.75" fill="none"/><path d="M500.5,377.8 H539.0 M520.3,369.9 V387.0 M500.5,376.3 v3 M539.0,376.3 v3 M518.8,369.9 h3 M518.8,387.0 h3" stroke="#7a7a7a" stroke-width="0.75" fill="none"/><path d="M503.0,375.0 H553.7 M526.6,369.0 V383.4 M503.0,373.5 v3 M553.7,373.5 v3 M525.1,369.0 h3 M525.1,383.4 h3" stroke="#5f5f5f" stroke-width="0.75" fill="none"/><path d="M503.4,378.3 H557.7 M527.9,368.3 V391.7 M503.4,376.8 v3 M557.7,376.8 v3 M526.4,368.3 h3 M526.4,391.7 h3" stroke="#b4b4b4" stroke-width="0.75" fill="none"/><path d="M512.6,377.0 H543.7 M531.7,352.4 V393.4 M512.6,375.5 v3 M543.7,375.5 v3 M530.2,352.4 h3 M530.2,393.4 h3" stroke="#b4b4b4" stroke-width="0.75" fill="none"/><path d="M509.4,380.3 H557.9 M535.0,370.0 V387.8 M509.4,378.8 v3 M557.9,378.8 v3 M533.5,370.0 h3 M533.5,387.8 h3" stroke="#969696" stroke-width="0.75" fill="none"/><path d="M521.5,375.8 H549.1 M536.7,362.5 V386.2 M521.5,374.3 v3 M549.1,374.3 v3 M535.2,362.5 h3 M535.2,386.2 h3" stroke="#5f5f5f" stroke-width="0.75" fill="none"/><path d="M521.5,373.7 H557.7 M542.5,352.2 V396.0 M521.5,372.2 v3 M557.7,372.2 v3 M541.0,352.2 h3 M541.0,396.0 h3" stroke="#c8c8c8" stroke-width="0.75" fill="none"/><path d="M518.5,379.5 H571.0 M540.5,359.1 V405.7 M518.5,378.0 v3 M571.0,378.0 v3 M539.0,359.1 h3 M539.0,405.7 h3" stroke="#5f5f5f" stroke-width="0.75" fill="none"/><path d="M515.2,377.0 H575.8 M546.0,352.9 V394.5 M515.2,375.5 v3 M575.8,375.5 v3 M544.5,352.9 h3 M544.5,394.5 h3" stroke="#5f5f5f" stroke-width="0.75" fill="none"/><path d="M503.5,384.6 H542.5 M526.6,369.4 V394.9 M503.5,383.1 v3 M542.5,383.1 v3 M525.1,369.4 h3 M525.1,394.9 h3" stroke="#5f5f5f" stroke-width="0.75" fill="none"/><path d="M497.0,389.6 H549.8 M527.9,375.0 V402.2 M497.0,388.1 v3 M549.8,388.1 v3 M526.4,375.0 h3 M526.4,402.2 h3" stroke="#c8c8c8" stroke-width="0.75" fill="none"/><path d="M512.9,388.4 H561.7 M535.5,372.7 V401.8 M512.9,386.9 v3 M561.7,386.9 v3 M534.0,372.7 h3 M534.0,401.8 h3" stroke="#c8c8c8" stroke-width="0.75" fill="none"/><path d="M532.3,385.9 H551.2 M541.8,375.6 V398.9 M532.3,384.4 v3 M551.2,384.4 v3 M540.3,375.6 h3 M540.3,398.9 h3" stroke="#7a7a7a" stroke-width="0.75" fill="none"/><path d="M532.2,389.6 H549.8 M540.5,378.4 V397.8 M532.2,388.1 v3 M549.8,388.1 v3 M539.0,378.4 h3 M539.0,397.8 h3" stroke="#b4b4b4" stroke-width="0.75" fill="none"/><path d="M544.2,389.6 H554.6 M550.6,369.7 V413.5 M544.2,388.1 v3 M554.6,388.1 v3 M549.1,369.7 h3 M549.1,413.5 h3" stroke="#969696" stroke-width="0.75" fill="none"/><path d="M535.1,385.9 H575.5 M552.6,360.5 V417.6 M535.1,384.4 v3 M575.5,384.4 v3 M551.1,360.5 h3 M551.1,417.6 h3" stroke="#5f5f5f" stroke-width="0.75" fill="none"/><path d="M505.3,394.0 H560.7 M531.7,369.5 V415.6 M505.3,392.5 v3 M560.7,392.5 v3 M530.2,369.5 h3 M530.2,415.6 h3" stroke="#c8c8c8" stroke-width="0.75" fill="none"/><path d="M504.9,396.0 H554.7 M534.2,378.3 V415.8 M504.9,394.5 v3 M554.7,394.5 v3 M532.7,378.3 h3 M532.7,415.8 h3" stroke="#969696" stroke-width="0.75" fill="none"/><path d="M538.3,394.2 H555.0 M548.6,379.6 V407.2 M538.3,392.7 v3 M555.0,392.7 v3 M547.1,379.6 h3 M547.1,407.2 h3" stroke="#7a7a7a" stroke-width="0.75" fill="none"/><path d="M521.3,400.3 H559.7 M541.8,378.9 V421.5 M521.3,398.8 v3 M559.7,398.8 v3 M540.3,378.9 h3 M540.3,421.5 h3" stroke="#969696" stroke-width="0.75" fill="none"/><path d="M525.0,406.6 H555.9 M541.8,382.6 V431.3 M525.0,405.1 v3 M555.9,405.1 v3 M540.3,382.6 h3 M540.3,431.3 h3" stroke="#c8c8c8" stroke-width="0.75" fill="none"/><path d="M621.7,285.3 H660.0 M638.0,277.9 V295.1 M621.7,283.8 v3 M660.0,283.8 v3 M636.5,277.9 h3 M636.5,295.1 h3" stroke="#b4b4b4" stroke-width="0.75" fill="none"/><path d="M625.2,294.1 H650.7 M640.1,270.9 V308.7 M625.2,292.6 v3 M650.7,292.6 v3 M638.6,270.9 h3 M638.6,308.7 h3" stroke="#969696" stroke-width="0.75" fill="none"/><path d="M632.6,296.1 H646.7 M641.4,277.2 V314.7 M632.6,294.6 v3 M646.7,294.6 v3 M639.9,277.2 h3 M639.9,314.7 h3" stroke="#7a7a7a" stroke-width="0.75" fill="none"/><path d="M611.9,302.2 H649.6 M628.0,295.9 V310.2 M611.9,300.7 v3 M649.6,300.7 v3 M626.5,295.9 h3 M626.5,310.2 h3" stroke="#7a7a7a" stroke-width="0.75" fill="none"/><path d="M608.9,304.7 H634.8 M623.7,287.6 V325.6 M608.9,303.2 v3 M634.8,303.2 v3 M622.2,287.6 h3 M622.2,325.6 h3" stroke="#5f5f5f" stroke-width="0.75" fill="none"/><path d="M614.4,305.5 H661.8 M638.0,293.0 V315.9 M614.4,304.0 v3 M661.8,304.0 v3 M636.5,293.0 h3 M636.5,315.9 h3" stroke="#c8c8c8" stroke-width="0.75" fill="none"/><path d="M617.9,310.5 H639.8 M629.2,291.0 V326.2 M617.9,309.0 v3 M639.8,309.0 v3 M627.7,291.0 h3 M627.7,326.2 h3" stroke="#5f5f5f" stroke-width="0.75" fill="none"/><path d="M626.1,310.0 H640.1 M633.5,285.8 V324.6 M626.1,308.5 v3 M640.1,308.5 v3 M632.0,285.8 h3 M632.0,324.6 h3" stroke="#5f5f5f" stroke-width="0.75" fill="none"/><path d="M616.7,310.5 H653.5 M638.6,285.7 V344.2 M616.7,309.0 v3 M653.5,309.0 v3 M637.1,285.7 h3 M637.1,344.2 h3" stroke="#5f5f5f" stroke-width="0.75" fill="none"/><path d="M611.7,317.6 H644.9 M630.0,293.2 V341.9 M611.7,316.1 v3 M644.9,316.1 v3 M628.5,293.2 h3 M628.5,341.9 h3" stroke="#b4b4b4" stroke-width="0.75" fill="none"/><path d="M614.9,320.6 H652.5 M635.0,309.8 V334.5 M614.9,319.1 v3 M652.5,319.1 v3 M633.5,309.8 h3 M633.5,334.5 h3" stroke="#7a7a7a" stroke-width="0.75" fill="none"/><path d="M617.8,321.4 H655.9 M637.6,313.0 V328.5 M617.8,319.9 v3 M655.9,319.9 v3 M636.1,313.0 h3 M636.1,328.5 h3" stroke="#c8c8c8" stroke-width="0.75" fill="none"/><path d="M626.4,319.3 H652.5 M641.4,296.2 V349.3 M626.4,317.8 v3 M652.5,317.8 v3 M639.9,296.2 h3 M639.9,349.3 h3" stroke="#969696" stroke-width="0.75" fill="none"/><path d="M614.0,328.2 H647.8 M633.8,316.2 V339.0 M614.0,326.7 v3 M647.8,326.7 v3 M632.3,316.2 h3 M632.3,339.0 h3" stroke="#5f5f5f" stroke-width="0.75" fill="none"/><path d="M589.4,329.4 H645.3 M619.9,307.7 V350.7 M589.4,327.9 v3 M645.3,327.9 v3 M618.4,307.7 h3 M618.4,350.7 h3" stroke="#5f5f5f" stroke-width="0.75" fill="none"/><path d="M619.1,342.8 H683.7 M646.4,328.8 V359.0 M619.1,341.3 v3 M683.7,341.3 v3 M644.9,328.8 h3 M644.9,359.0 h3" stroke="#b4b4b4" stroke-width="0.75" fill="none"/><path d="M592.4,342.8 H633.5 M612.0,324.8 V366.5 M592.4,341.3 v3 M633.5,341.3 v3 M610.5,324.8 h3 M610.5,366.5 h3" stroke="#b4b4b4" stroke-width="0.75" fill="none"/><path d="M579.0,348.9 H619.9 M600.2,326.0 V375.1 M579.0,347.4 v3 M619.9,347.4 v3 M598.7,326.0 h3 M598.7,375.1 h3" stroke="#c8c8c8" stroke-width="0.75" fill="none"/><path d="M574.4,352.2 H622.8 M599.7,335.8 V371.8 M574.4,350.7 v3 M622.8,350.7 v3 M598.2,335.8 h3 M598.2,371.8 h3" stroke="#7a7a7a" stroke-width="0.75" fill="none"/><path d="M593.0,356.0 H607.8 M599.7,331.3 V374.0 M593.0,354.5 v3 M607.8,354.5 v3 M598.2,331.3 h3 M598.2,374.0 h3" stroke="#c8c8c8" stroke-width="0.75" fill="none"/><path d="M590.6,363.5 H607.5 M599.0,356.7 V373.0 M590.6,362.0 v3 M607.5,362.0 v3 M597.5,356.7 h3 M597.5,373.0 h3" stroke="#c8c8c8" stroke-width="0.75" fill="none"/><path d="M578.8,363.0 H641.9 M607.3,354.7 V370.7 M578.8,361.5 v3 M641.9,361.5 v3 M605.8,354.7 h3 M605.8,370.7 h3" stroke="#969696" stroke-width="0.75" fill="none"/><path d="M593.8,351.0 H620.8 M609.0,328.6 V374.3 M593.8,349.5 v3 M620.8,349.5 v3 M607.5,328.6 h3 M607.5,374.3 h3" stroke="#c8c8c8" stroke-width="0.75" fill="none"/><path d="M594.1,347.1 H630.8 M612.8,335.7 V362.9 M594.1,345.6 v3 M630.8,345.6 v3 M611.3,335.7 h3 M611.3,362.9 h3" stroke="#7a7a7a" stroke-width="0.75" fill="none"/><path d="M587.2,347.9 H637.3 M617.4,334.9 V360.4 M587.2,346.4 v3 M637.3,346.4 v3 M615.9,334.9 h3 M615.9,360.4 h3" stroke="#7a7a7a" stroke-width="0.75" fill="none"/><path d="M591.7,348.4 H641.8 M621.7,325.0 V364.9 M591.7,346.9 v3 M641.8,346.9 v3 M620.2,325.0 h3 M620.2,364.9 h3" stroke="#969696" stroke-width="0.75" fill="none"/><path d="M601.7,350.4 H654.4 M624.2,338.9 V362.5 M601.7,348.9 v3 M654.4,348.9 v3 M622.7,338.9 h3 M622.7,362.5 h3" stroke="#c8c8c8" stroke-width="0.75" fill="none"/><path d="M605.6,353.4 H618.3 M612.8,335.1 V368.4 M605.6,351.9 v3 M618.3,351.9 v3 M611.3,335.1 h3 M611.3,368.4 h3" stroke="#5f5f5f" stroke-width="0.75" fill="none"/><path d="M608.9,352.2 H627.1 M617.9,332.8 V368.8 M608.9,350.7 v3 M627.1,350.7 v3 M616.4,332.8 h3 M616.4,368.8 h3" stroke="#b4b4b4" stroke-width="0.75" fill="none"/><path d="M612.8,354.7 H638.8 M626.2,339.3 V370.0 M612.8,353.2 v3 M638.8,353.2 v3 M624.7,339.3 h3 M624.7,370.0 h3" stroke="#c8c8c8" stroke-width="0.75" fill="none"/><path d="M601.5,355.5 H616.8 M610.3,332.4 V375.1 M601.5,354.0 v3 M616.8,354.0 v3 M608.8,332.4 h3 M608.8,375.1 h3" stroke="#b4b4b4" stroke-width="0.75" fill="none"/><path d="M590.0,356.5 H636.1 M615.4,342.1 V371.4 M590.0,355.0 v3 M636.1,355.0 v3 M613.9,342.1 h3 M613.9,371.4 h3" stroke="#c8c8c8" stroke-width="0.75" fill="none"/><path d="M599.6,357.2 H639.3 M620.4,342.4 V368.1 M599.6,355.7 v3 M639.3,355.7 v3 M618.9,342.4 h3 M618.9,368.1 h3" stroke="#969696" stroke-width="0.75" fill="none"/><path d="M597.4,361.0 H627.9 M614.1,339.4 V381.9 M597.4,359.5 v3 M627.9,359.5 v3 M612.6,339.4 h3 M612.6,381.9 h3" stroke="#c8c8c8" stroke-width="0.75" fill="none"/><path d="M599.4,361.0 H640.7 M619.1,350.4 V369.6 M599.4,359.5 v3 M640.7,359.5 v3 M617.6,350.4 h3 M617.6,369.6 h3" stroke="#c8c8c8" stroke-width="0.75" fill="none"/><path d="M594.8,361.0 H664.3 M625.5,354.7 V367.1 M594.8,359.5 v3 M664.3,359.5 v3 M624.0,354.7 h3 M624.0,367.1 h3" stroke="#5f5f5f" stroke-width="0.75" fill="none"/><path d="M607.0,363.0 H628.9 M616.6,348.0 V376.1 M607.0,361.5 v3 M628.9,361.5 v3 M615.1,348.0 h3 M615.1,376.1 h3" stroke="#b4b4b4" stroke-width="0.75" fill="none"/><path d="M613.2,363.0 H629.1 M621.7,340.4 V376.6 M613.2,361.5 v3 M629.1,361.5 v3 M620.2,340.4 h3 M620.2,376.6 h3" stroke="#7a7a7a" stroke-width="0.75" fill="none"/><path d="M599.6,367.3 H635.3 M620.4,348.6 V389.0 M599.6,365.8 v3 M635.3,365.8 v3 M618.9,348.6 h3 M618.9,389.0 h3" stroke="#7a7a7a" stroke-width="0.75" fill="none"/><path d="M575.3,346.0 H632.5 M605.0,327.7 V369.5 M575.3,344.5 v3 M632.5,344.5 v3 M603.5,327.7 h3 M603.5,369.5 h3" stroke="#969696" stroke-width="0.75" fill="none"/><path d="M592.3,358.0 H616.9 M603.0,346.6 V373.4 M592.3,356.5 v3 M616.9,356.5 v3 M601.5,346.6 h3 M601.5,373.4 h3" stroke="#969696" stroke-width="0.75" fill="none"/><path d="M433.0,329.8 H475.2 M452.8,305.6 V362.5 M433.0,328.3 v3 M475.2,328.3 v3 M451.3,305.6 h3 M451.3,362.5 h3" stroke="#7a7a7a" stroke-width="0.75" fill="none"/><path d="M452.7,328.1 H491.2 M470.3,314.5 V341.0 M452.7,326.6 v3 M491.2,326.6 v3 M468.8,314.5 h3 M468.8,341.0 h3" stroke="#5f5f5f" stroke-width="0.75" fill="none"/><path d="M464.7,340.0 H489.2 M476.8,328.6 V347.3 M464.7,338.5 v3 M489.2,338.5 v3 M475.3,328.6 h3 M475.3,347.3 h3" stroke="#b4b4b4" stroke-width="0.75" fill="none"/><path d="M439.5,340.6 H464.8 M452.1,332.7 V347.7 M439.5,339.1 v3 M464.8,339.1 v3 M450.6,332.7 h3 M450.6,347.7 h3" stroke="#7a7a7a" stroke-width="0.75" fill="none"/><path d="M429.0,334.4 H478.8 M456.7,308.7 V363.4 M429.0,332.9 v3 M478.8,332.9 v3 M455.2,308.7 h3 M455.2,363.4 h3" stroke="#7a7a7a" stroke-width="0.75" fill="none"/><path d="M458.7,342.7 H511.9 M485.0,328.5 V360.4 M458.7,341.2 v3 M511.9,341.2 v3 M483.5,328.5 h3 M483.5,360.4 h3" stroke="#7a7a7a" stroke-width="0.75" fill="none"/><path d="M444.5,333.5 H461.2 M451.6,314.9 V352.3 M444.5,332.0 v3 M461.2,332.0 v3 M450.1,314.9 h3 M450.1,352.3 h3" stroke="#c8c8c8" stroke-width="0.75" fill="none"/><path d="M436.1,341.2 H483.2 M462.0,331.7 V353.8 M436.1,339.7 v3 M483.2,339.7 v3 M460.5,331.7 h3 M460.5,353.8 h3" stroke="#5f5f5f" stroke-width="0.75" fill="none"/><path d="M415.7,333.2 H475.2 M446.5,314.8 V350.6 M415.7,331.7 v3 M475.2,331.7 v3 M445.0,314.8 h3 M445.0,350.6 h3" stroke="#b4b4b4" stroke-width="0.75" fill="none"/><path d="M434.8,336.3 H461.9 M446.4,316.8 V354.4 M434.8,334.8 v3 M461.9,334.8 v3 M444.9,316.8 h3 M444.9,354.4 h3" stroke="#c8c8c8" stroke-width="0.75" fill="none"/><path d="M464.3,351.3 H509.4 M485.3,342.3 V357.8 M464.3,349.8 v3 M509.4,349.8 v3 M483.8,342.3 h3 M483.8,357.8 h3" stroke="#7a7a7a" stroke-width="0.75" fill="none"/><path d="M456.6,334.8 H517.5 M487.1,315.2 V358.8 M456.6,333.3 v3 M517.5,333.3 v3 M485.6,315.2 h3 M485.6,358.8 h3" stroke="#969696" stroke-width="0.75" fill="none"/><path d="M424.3,342.3 H474.1 M449.8,333.3 V350.6 M424.3,340.8 v3 M474.1,340.8 v3 M448.3,333.3 h3 M448.3,350.6 h3" stroke="#b4b4b4" stroke-width="0.75" fill="none"/><path d="M446.9,350.1 H501.1 M472.1,327.7 V364.8 M446.9,348.6 v3 M501.1,348.6 v3 M470.6,327.7 h3 M470.6,364.8 h3" stroke="#c8c8c8" stroke-width="0.75" fill="none"/><path d="M425.6,332.4 H473.9 M450.5,312.4 V348.7 M425.6,330.9 v3 M473.9,330.9 v3 M449.0,312.4 h3 M449.0,348.7 h3" stroke="#7a7a7a" stroke-width="0.75" fill="none"/><path d="M436.6,338.5 H486.0 M460.6,324.3 V357.1 M436.6,337.0 v3 M486.0,337.0 v3 M459.1,324.3 h3 M459.1,357.1 h3" stroke="#b4b4b4" stroke-width="0.75" fill="none"/><path d="M463.2,351.2 H514.0 M487.1,325.4 V367.4 M463.2,349.7 v3 M514.0,349.7 v3 M485.6,325.4 h3 M485.6,367.4 h3" stroke="#c8c8c8" stroke-width="0.75" fill="none"/><path d="M432.7,344.4 H494.5 M463.8,325.4 V370.2 M432.7,342.9 v3 M494.5,342.9 v3 M462.3,325.4 h3 M462.3,370.2 h3" stroke="#c8c8c8" stroke-width="0.75" fill="none"/><path d="M465.4,353.8 H509.2 M486.8,335.6 V365.9 M465.4,352.3 v3 M509.2,352.3 v3 M485.3,335.6 h3 M485.3,365.9 h3" stroke="#969696" stroke-width="0.75" fill="none"/><path d="M432.0,339.7 H488.2 M458.7,332.1 V344.4 M432.0,338.2 v3 M488.2,338.2 v3 M457.2,332.1 h3 M457.2,344.4 h3" stroke="#b4b4b4" stroke-width="0.75" fill="none"/><path d="M453.5,343.0 H494.6 M474.8,330.6 V351.7 M453.5,341.5 v3 M494.6,341.5 v3 M473.3,330.6 h3 M473.3,351.7 h3" stroke="#7a7a7a" stroke-width="0.75" fill="none"/><path d="M462.2,331.3 H501.6 M482.6,318.7 V344.7 M462.2,329.8 v3 M501.6,329.8 v3 M481.1,318.7 h3 M481.1,344.7 h3" stroke="#5f5f5f" stroke-width="0.75" fill="none"/><path d="M453.1,340.4 H507.6 M484.9,323.1 V351.3 M453.1,338.9 v3 M507.6,338.9 v3 M483.4,323.1 h3 M483.4,351.3 h3" stroke="#5f5f5f" stroke-width="0.75" fill="none"/><path d="M434.4,340.1 H451.2 M442.8,322.4 V362.3 M434.4,338.6 v3 M451.2,338.6 v3 M441.3,322.4 h3 M441.3,362.3 h3" stroke="#7a7a7a" stroke-width="0.75" fill="none"/><path d="M447.9,346.7 H469.4 M458.6,338.3 V352.1 M447.9,345.2 v3 M469.4,345.2 v3 M457.1,338.3 h3 M457.1,352.1 h3" stroke="#b4b4b4" stroke-width="0.75" fill="none"/><path d="M437.9,338.1 H464.1 M449.9,329.3 V349.1 M437.9,336.6 v3 M464.1,336.6 v3 M448.4,329.3 h3 M448.4,349.1 h3" stroke="#969696" stroke-width="0.75" fill="none"/><path d="M437.3,344.3 H477.4 M460.7,324.5 V367.4 M437.3,342.8 v3 M477.4,342.8 v3 M459.2,324.5 h3 M459.2,367.4 h3" stroke="#969696" stroke-width="0.75" fill="none"/><path d="M465.3,356.7 H490.2 M477.5,345.6 V370.2 M465.3,355.2 v3 M490.2,355.2 v3 M476.0,345.6 h3 M476.0,370.2 h3" stroke="#b4b4b4" stroke-width="0.75" fill="none"/><path d="M481.5,344.3 H496.8 M489.2,336.6 V352.2 M481.5,342.8 v3 M496.8,342.8 v3 M487.7,336.6 h3 M487.7,352.2 h3" stroke="#7a7a7a" stroke-width="0.75" fill="none"/><path d="M449.0,336.7 H481.6 M466.9,319.6 V359.8 M449.0,335.2 v3 M481.6,335.2 v3 M465.4,319.6 h3 M465.4,359.8 h3" stroke="#b4b4b4" stroke-width="0.75" fill="none"/><path d="M429.6,327.1 H488.2 M457.3,319.8 V331.9 M429.6,325.6 v3 M488.2,325.6 v3 M455.8,319.8 h3 M455.8,331.9 h3" stroke="#c8c8c8" stroke-width="0.75" fill="none"/><path d="M428.3,353.5 H467.4 M450.6,336.8 V368.1 M428.3,352.0 v3 M467.4,352.0 v3 M449.1,336.8 h3 M449.1,368.1 h3" stroke="#5f5f5f" stroke-width="0.75" fill="none"/><path d="M459.9,341.4 H474.0 M466.1,331.4 V355.2 M459.9,339.9 v3 M474.0,339.9 v3 M464.6,331.4 h3 M464.6,355.2 h3" stroke="#7a7a7a" stroke-width="0.75" fill="none"/><path d="M426.4,342.9 H486.8 M458.1,320.5 V369.5 M426.4,341.4 v3 M486.8,341.4 v3 M456.6,320.5 h3 M456.6,369.5 h3" stroke="#b4b4b4" stroke-width="0.75" fill="none"/><path d="M452.1,345.3 H472.0 M462.6,327.2 V357.9 M452.1,343.8 v3 M472.0,343.8 v3 M461.1,327.2 h3 M461.1,357.9 h3" stroke="#5f5f5f" stroke-width="0.75" fill="none"/><path d="M442.2,334.4 H455.2 M449.7,315.3 V350.2 M442.2,332.9 v3 M455.2,332.9 v3 M448.2,315.3 h3 M448.2,350.2 h3" stroke="#b4b4b4" stroke-width="0.75" fill="none"/><path d="M423.8,330.5 H459.7 M444.2,314.4 V341.7 M423.8,329.0 v3 M459.7,329.0 v3 M442.7,314.4 h3 M442.7,341.7 h3" stroke="#b4b4b4" stroke-width="0.75" fill="none"/><path d="M468.6,342.0 H491.9 M478.9,320.3 V369.0 M468.6,340.5 v3 M491.9,340.5 v3 M477.4,320.3 h3 M477.4,369.0 h3" stroke="#b4b4b4" stroke-width="0.75" fill="none"/><path d="M434.7,354.1 H488.0 M462.5,333.2 V376.3 M434.7,352.6 v3 M488.0,352.6 v3 M461.0,333.2 h3 M461.0,376.3 h3" stroke="#7a7a7a" stroke-width="0.75" fill="none"/><path d="M433.9,348.0 H478.5 M453.9,338.3 V356.2 M433.9,346.5 v3 M478.5,346.5 v3 M452.4,338.3 h3 M452.4,356.2 h3" stroke="#969696" stroke-width="0.75" fill="none"/><path d="M473.2,331.9 H494.9 M482.9,307.2 V349.6 M473.2,330.4 v3 M494.9,330.4 v3 M481.4,307.2 h3 M481.4,349.6 h3" stroke="#7a7a7a" stroke-width="0.75" fill="none"/><path d="M448.5,337.6 H461.4 M454.8,321.5 V348.8 M448.5,336.1 v3 M461.4,336.1 v3 M453.3,321.5 h3 M453.3,348.8 h3" stroke="#7a7a7a" stroke-width="0.75" fill="none"/><path d="M440.5,327.3 H491.1 M466.3,313.0 V345.3 M440.5,325.8 v3 M491.1,325.8 v3 M464.8,313.0 h3 M464.8,345.3 h3" stroke="#b4b4b4" stroke-width="0.75" fill="none"/><path d="M476.2,341.3 H491.3 M483.3,320.4 V362.7 M476.2,339.8 v3 M491.3,339.8 v3 M481.8,320.4 h3 M481.8,362.7 h3" stroke="#969696" stroke-width="0.75" fill="none"/><path d="M464.4,334.3 H508.9 M483.4,322.8 V342.4 M464.4,332.8 v3 M508.9,332.8 v3 M481.9,322.8 h3 M481.9,342.4 h3" stroke="#7a7a7a" stroke-width="0.75" fill="none"/><path d="M435.5,378.0 H507.4 M465.8,360.0 V393.5 M435.5,376.5 v3 M507.4,376.5 v3 M464.3,360.0 h3 M464.3,393.5 h3" stroke="#b4b4b4" stroke-width="0.75" fill="none"/><path d="M447.4,383.8 H500.8 M472.1,374.9 V391.4 M447.4,382.3 v3 M500.8,382.3 v3 M470.6,374.9 h3 M470.6,391.4 h3" stroke="#b4b4b4" stroke-width="0.75" fill="none"/><path d="M439.5,381.5 H461.7 M449.6,363.3 V404.4 M439.5,380.0 v3 M461.7,380.0 v3 M448.1,363.3 h3 M448.1,404.4 h3" stroke="#7a7a7a" stroke-width="0.75" fill="none"/><path d="M419.5,382.6 H444.0 M432.4,368.4 V393.2 M419.5,381.1 v3 M444.0,381.1 v3 M430.9,368.4 h3 M430.9,393.2 h3" stroke="#969696" stroke-width="0.75" fill="none"/><path d="M433.1,383.3 H455.6 M445.8,370.2 V391.7 M433.1,381.8 v3 M455.6,381.8 v3 M444.3,370.2 h3 M444.3,391.7 h3" stroke="#5f5f5f" stroke-width="0.75" fill="none"/><path d="M391.7,381.0 H428.1 M413.2,364.5 V397.0 M391.7,379.5 v3 M428.1,379.5 v3 M411.7,364.5 h3 M411.7,397.0 h3" stroke="#7a7a7a" stroke-width="0.75" fill="none"/><path d="M456.0,379.4 H476.5 M468.7,367.4 V387.8 M456.0,377.9 v3 M476.5,377.9 v3 M467.2,367.4 h3 M467.2,387.8 h3" stroke="#5f5f5f" stroke-width="0.75" fill="none"/><path d="M445.7,374.6 H509.6 M475.0,358.8 V385.4 M445.7,373.1 v3 M509.6,373.1 v3 M473.5,358.8 h3 M473.5,385.4 h3" stroke="#969696" stroke-width="0.75" fill="none"/><path d="M390.7,385.0 H456.3 M420.4,367.2 V397.1 M390.7,383.5 v3 M456.3,383.5 v3 M418.9,367.2 h3 M418.9,397.1 h3" stroke="#969696" stroke-width="0.75" fill="none"/><path d="M431.4,374.7 H459.4 M444.8,367.8 V380.1 M431.4,373.2 v3 M459.4,373.2 v3 M443.3,367.8 h3 M443.3,380.1 h3" stroke="#969696" stroke-width="0.75" fill="none"/><path d="M385.4,375.8 H433.3 M412.9,353.1 V400.0 M385.4,374.3 v3 M433.3,374.3 v3 M411.4,353.1 h3 M411.4,400.0 h3" stroke="#b4b4b4" stroke-width="0.75" fill="none"/><path d="M433.5,383.1 H479.0 M460.9,360.5 V405.4 M433.5,381.6 v3 M479.0,381.6 v3 M459.4,360.5 h3 M459.4,405.4 h3" stroke="#969696" stroke-width="0.75" fill="none"/><path d="M431.1,380.4 H454.2 M442.1,370.9 V386.6 M431.1,378.9 v3 M454.2,378.9 v3 M440.6,370.9 h3 M440.6,386.6 h3" stroke="#b4b4b4" stroke-width="0.75" fill="none"/><path d="M421.3,387.8 H454.0 M440.1,378.8 V393.2 M421.3,386.3 v3 M454.0,386.3 v3 M438.6,378.8 h3 M438.6,393.2 h3" stroke="#c8c8c8" stroke-width="0.75" fill="none"/><path d="M417.2,383.6 H457.7 M435.9,367.1 V398.6 M417.2,382.1 v3 M457.7,382.1 v3 M434.4,367.1 h3 M434.4,398.6 h3" stroke="#c8c8c8" stroke-width="0.75" fill="none"/><path d="M500.6,383.5 H551.0 M524.9,366.5 V395.0 M500.6,382.0 v3 M551.0,382.0 v3 M523.4,366.5 h3 M523.4,395.0 h3" stroke="#b4b4b4" stroke-width="0.75" fill="none"/><path d="M525.1,390.4 H579.4 M553.1,374.5 V410.9 M525.1,388.9 v3 M579.4,388.9 v3 M551.6,374.5 h3 M551.6,410.9 h3" stroke="#c8c8c8" stroke-width="0.75" fill="none"/><path d="M543.1,384.8 H559.6 M550.2,362.0 V416.6 M543.1,383.3 v3 M559.6,383.3 v3 M548.7,362.0 h3 M548.7,416.6 h3" stroke="#969696" stroke-width="0.75" fill="none"/><path d="M510.4,391.6 H553.6 M533.1,368.7 V409.4 M510.4,390.1 v3 M553.6,390.1 v3 M531.6,368.7 h3 M531.6,409.4 h3" stroke="#b4b4b4" stroke-width="0.75" fill="none"/><path d="M512.6,374.3 H560.9 M539.9,351.6 V400.2 M512.6,372.8 v3 M560.9,372.8 v3 M538.4,351.6 h3 M538.4,400.2 h3" stroke="#5f5f5f" stroke-width="0.75" fill="none"/><path d="M532.6,385.8 H563.1 M547.9,378.5 V391.1 M532.6,384.3 v3 M563.1,384.3 v3 M546.4,378.5 h3 M546.4,391.1 h3" stroke="#b4b4b4" stroke-width="0.75" fill="none"/><path d="M515.8,372.4 H539.3 M529.2,360.6 V382.5 M515.8,370.9 v3 M539.3,370.9 v3 M527.7,360.6 h3 M527.7,382.5 h3" stroke="#c8c8c8" stroke-width="0.75" fill="none"/><path d="M494.0,378.9 H559.7 M521.6,356.4 V399.8 M494.0,377.4 v3 M559.7,377.4 v3 M520.1,356.4 h3 M520.1,399.8 h3" stroke="#c8c8c8" stroke-width="0.75" fill="none"/><path d="M505.5,380.2 H549.9 M529.5,368.9 V395.4 M505.5,378.7 v3 M549.9,378.7 v3 M528.0,368.9 h3 M528.0,395.4 h3" stroke="#7a7a7a" stroke-width="0.75" fill="none"/><path d="M516.4,393.2 H573.3 M544.3,367.9 V425.6 M516.4,391.7 v3 M573.3,391.7 v3 M542.8,367.9 h3 M542.8,425.6 h3" stroke="#c8c8c8" stroke-width="0.75" fill="none"/><path d="M519.7,374.1 H534.3 M527.2,349.6 V394.7 M519.7,372.6 v3 M534.3,372.6 v3 M525.7,349.6 h3 M525.7,394.7 h3" stroke="#7a7a7a" stroke-width="0.75" fill="none"/><path d="M504.4,371.8 H564.7 M535.0,364.9 V377.1 M504.4,370.3 v3 M564.7,370.3 v3 M533.5,364.9 h3 M533.5,377.1 h3" stroke="#b4b4b4" stroke-width="0.75" fill="none"/><path d="M508.9,375.6 H560.0 M539.8,358.0 V390.0 M508.9,374.1 v3 M560.0,374.1 v3 M538.3,358.0 h3 M538.3,390.0 h3" stroke="#969696" stroke-width="0.75" fill="none"/><path d="M507.1,380.3 H561.6 M530.7,356.0 V404.7 M507.1,378.8 v3 M561.6,378.8 v3 M529.2,356.0 h3 M529.2,404.7 h3" stroke="#969696" stroke-width="0.75" fill="none"/><path d="M544.1,374.8 H556.2 M550.7,367.0 V382.6 M544.1,373.3 v3 M556.2,373.3 v3 M549.2,367.0 h3 M549.2,382.6 h3" stroke="#c8c8c8" stroke-width="0.75" fill="none"/><path d="M515.7,379.8 H574.0 M542.4,367.5 V390.4 M515.7,378.3 v3 M574.0,378.3 v3 M540.9,367.5 h3 M540.9,390.4 h3" stroke="#b4b4b4" stroke-width="0.75" fill="none"/><path d="M511.2,385.3 H561.9 M532.4,371.1 V395.0 M511.2,383.8 v3 M561.9,383.8 v3 M530.9,371.1 h3 M530.9,395.0 h3" stroke="#5f5f5f" stroke-width="0.75" fill="none"/><path d="M503.6,383.6 H543.0 M522.0,360.0 V413.3 M503.6,382.1 v3 M543.0,382.1 v3 M520.5,360.0 h3 M520.5,413.3 h3" stroke="#c8c8c8" stroke-width="0.75" fill="none"/><path d="M520.6,378.6 H559.6 M542.6,353.9 V409.7 M520.6,377.1 v3 M559.6,377.1 v3 M541.1,353.9 h3 M541.1,409.7 h3" stroke="#b4b4b4" stroke-width="0.75" fill="none"/><path d="M530.2,399.0 H543.2 M537.7,373.6 V420.8 M530.2,397.5 v3 M543.2,397.5 v3 M536.2,373.6 h3 M536.2,420.8 h3" stroke="#5f5f5f" stroke-width="0.75" fill="none"/><path d="M590.0,357.2 H616.5 M601.2,343.3 V367.4 M590.0,355.7 v3 M616.5,355.7 v3 M599.7,343.3 h3 M599.7,367.4 h3" stroke="#5f5f5f" stroke-width="0.75" fill="none"/><path d="M577.0,346.6 H636.8 M606.6,332.9 V357.6 M577.0,345.1 v3 M636.8,345.1 v3 M605.1,332.9 h3 M605.1,357.6 h3" stroke="#7a7a7a" stroke-width="0.75" fill="none"/><path d="M613.9,356.6 H640.8 M627.6,348.5 V362.6 M613.9,355.1 v3 M640.8,355.1 v3 M626.1,348.5 h3 M626.1,362.6 h3" stroke="#c8c8c8" stroke-width="0.75" fill="none"/><path d="M617.2,348.5 H635.6 M626.1,330.1 V371.5 M617.2,347.0 v3 M635.6,347.0 v3 M624.6,330.1 h3 M624.6,371.5 h3" stroke="#969696" stroke-width="0.75" fill="none"/><path d="M580.2,345.3 H642.5 M607.6,328.2 V362.6 M580.2,343.8 v3 M642.5,343.8 v3 M606.1,328.2 h3 M606.1,362.6 h3" stroke="#c8c8c8" stroke-width="0.75" fill="none"/><path d="M606.6,355.4 H621.3 M614.1,342.2 V365.6 M606.6,353.9 v3 M621.3,353.9 v3 M612.6,342.2 h3 M612.6,365.6 h3" stroke="#969696" stroke-width="0.75" fill="none"/><path d="M589.5,347.1 H629.9 M613.1,323.1 V366.3 M589.5,345.6 v3 M629.9,345.6 v3 M611.6,323.1 h3 M611.6,366.3 h3" stroke="#c8c8c8" stroke-width="0.75" fill="none"/><path d="M606.3,363.4 H624.8 M615.5,356.1 V368.9 M606.3,361.9 v3 M624.8,361.9 v3 M614.0,356.1 h3 M614.0,368.9 h3" stroke="#969696" stroke-width="0.75" fill="none"/><path d="M612.4,354.0 H644.9 M626.4,329.5 V374.9 M612.4,352.5 v3 M644.9,352.5 v3 M624.9,329.5 h3 M624.9,374.9 h3" stroke="#c8c8c8" stroke-width="0.75" fill="none"/><path d="M611.5,361.1 H641.4 M629.8,349.6 V374.8 M611.5,359.6 v3 M641.4,359.6 v3 M628.3,349.6 h3 M628.3,374.8 h3" stroke="#969696" stroke-width="0.75" fill="none"/><path d="M600.3,344.6 H620.2 M610.0,330.5 V362.3 M600.3,343.1 v3 M620.2,343.1 v3 M608.5,330.5 h3 M608.5,362.3 h3" stroke="#c8c8c8" stroke-width="0.75" fill="none"/><path d="M594.7,348.7 H613.4 M603.1,325.6 V363.1 M594.7,347.2 v3 M613.4,347.2 v3 M601.6,325.6 h3 M601.6,363.1 h3" stroke="#7a7a7a" stroke-width="0.75" fill="none"/><path d="M610.4,347.4 H631.1 M620.0,330.7 V366.9 M610.4,345.9 v3 M631.1,345.9 v3 M618.5,330.7 h3 M618.5,366.9 h3" stroke="#969696" stroke-width="0.75" fill="none"/><path d="M601.6,343.9 H631.4 M615.4,323.2 V362.5 M601.6,342.4 v3 M631.4,342.4 v3 M613.9,323.2 h3 M613.9,362.5 h3" stroke="#5f5f5f" stroke-width="0.75" fill="none"/><path d="M592.0,345.6 H639.7 M617.2,331.0 V358.6 M592.0,344.1 v3 M639.7,344.1 v3 M615.7,331.0 h3 M615.7,358.6 h3" stroke="#969696" stroke-width="0.75" fill="none"/><path d="M609.8,346.8 H646.9 M627.1,328.9 V365.5 M609.8,345.3 v3 M646.9,345.3 v3 M625.6,328.9 h3 M625.6,365.5 h3" stroke="#969696" stroke-width="0.75" fill="none"/><path d="M575.0,357.3 H634.9 M600.6,331.9 V387.1 M575.0,355.8 v3 M634.9,355.8 v3 M599.1,331.9 h3 M599.1,387.1 h3" stroke="#b4b4b4" stroke-width="0.75" fill="none"/><path d="M584.5,353.4 H632.3 M607.9,332.1 V379.8 M584.5,351.9 v3 M632.3,351.9 v3 M606.4,332.1 h3 M606.4,379.8 h3" stroke="#c8c8c8" stroke-width="0.75" fill="none"/><path d="M612.5,362.1 H638.5 M626.9,341.9 V378.0 M612.5,360.6 v3 M638.5,360.6 v3 M625.4,341.9 h3 M625.4,378.0 h3" stroke="#c8c8c8" stroke-width="0.75" fill="none"/><path d="M575.4,365.1 H631.1 M601.1,347.5 V383.0 M575.4,363.6 v3 M631.1,363.6 v3 M599.6,347.5 h3 M599.6,383.0 h3" stroke="#b4b4b4" stroke-width="0.75" fill="none"/><path d="M572.6,359.9 H627.6 M599.5,349.2 V368.3 M572.6,358.4 v3 M627.6,358.4 v3 M598.0,349.2 h3 M598.0,368.3 h3" stroke="#969696" stroke-width="0.75" fill="none"/><path d="M609.1,357.1 H650.2 M629.8,347.1 V370.6 M609.1,355.6 v3 M650.2,355.6 v3 M628.3,347.1 h3 M628.3,370.6 h3" stroke="#7a7a7a" stroke-width="0.75" fill="none"/><path d="M583.3,361.3 H635.5 M614.0,342.5 V386.9 M583.3,359.8 v3 M635.5,359.8 v3 M612.5,342.5 h3 M612.5,386.9 h3" stroke="#b4b4b4" stroke-width="0.75" fill="none"/><path d="M585.9,356.8 H616.4 M603.6,342.4 V366.6 M585.9,355.3 v3 M616.4,355.3 v3 M602.1,342.4 h3 M602.1,366.6 h3" stroke="#969696" stroke-width="0.75" fill="none"/><path d="M594.1,362.6 H607.1 M600.7,352.3 V372.3 M594.1,361.1 v3 M607.1,361.1 v3 M599.2,352.3 h3 M599.2,372.3 h3" stroke="#c8c8c8" stroke-width="0.75" fill="none"/><path d="M610.6,302.2 H659.7 M632.5,294.8 V310.2 M610.6,300.7 v3 M659.7,300.7 v3 M631.0,294.8 h3 M631.0,310.2 h3" stroke="#5f5f5f" stroke-width="0.75" fill="none"/><path d="M613.2,319.0 H643.1 M628.4,293.8 V348.3 M613.2,317.5 v3 M643.1,317.5 v3 M626.9,293.8 h3 M626.9,348.3 h3" stroke="#c8c8c8" stroke-width="0.75" fill="none"/><path d="M605.1,301.1 H665.9 M636.4,294.7 V310.0 M605.1,299.6 v3 M665.9,299.6 v3 M634.9,294.7 h3 M634.9,310.0 h3" stroke="#5f5f5f" stroke-width="0.75" fill="none"/><path d="M627.9,318.3 H649.5 M637.6,302.2 V335.5 M627.9,316.8 v3 M649.5,316.8 v3 M636.1,302.2 h3 M636.1,335.5 h3" stroke="#c8c8c8" stroke-width="0.75" fill="none"/><path d="M600.3,324.6 H658.3 M629.0,312.3 V336.7 M600.3,323.1 v3 M658.3,323.1 v3 M627.5,312.3 h3 M627.5,336.7 h3" stroke="#c8c8c8" stroke-width="0.75" fill="none"/><path d="M602.7,305.0 H673.5 M633.9,287.5 V327.4 M602.7,303.5 v3 M673.5,303.5 v3 M632.4,287.5 h3 M632.4,327.4 h3" stroke="#969696" stroke-width="0.75" fill="none"/><path d="M609.1,320.9 H671.5 M639.7,300.2 V349.6 M609.1,319.4 v3 M671.5,319.4 v3 M638.2,300.2 h3 M638.2,349.6 h3" stroke="#b4b4b4" stroke-width="0.75" fill="none"/><path d="M615.0,321.1 H653.8 M633.6,297.8 V344.7 M615.0,319.6 v3 M653.8,319.6 v3 M632.1,297.8 h3 M632.1,344.7 h3" stroke="#5f5f5f" stroke-width="0.75" fill="none"/></g>
<circle cx="452.8" cy="329.8" r="2.75" fill="#2aa5dc" stroke="#1b5c80" stroke-width="0.6"/>
<circle cx="470.3" cy="328.1" r="2.75" fill="#2aa5dc" stroke="#1b5c80" stroke-width="0.6"/>
<circle cx="476.8" cy="340.0" r="2.75" fill="#2aa5dc" stroke="#1b5c80" stroke-width="0.6"/>
<circle cx="452.1" cy="340.6" r="2.75" fill="#2aa5dc" stroke="#1b5c80" stroke-width="0.6"/>
<circle cx="456.7" cy="334.4" r="2.75" fill="#2aa5dc" stroke="#1b5c80" stroke-width="0.6"/>
<circle cx="485.0" cy="342.7" r="2.75" fill="#2aa5dc" stroke="#1b5c80" stroke-width="0.6"/>
<circle cx="451.6" cy="333.5" r="2.75" fill="#2aa5dc" stroke="#1b5c80" stroke-width="0.6"/>
<circle cx="462.0" cy="341.2" r="2.75" fill="#2aa5dc" stroke="#1b5c80" stroke-width="0.6"/>
<circle cx="446.5" cy="333.2" r="2.75" fill="#2aa5dc" stroke="#1b5c80" stroke-width="0.6"/>
<circle cx="446.4" cy="336.3" r="2.75" fill="#2aa5dc" stroke="#1b5c80" stroke-width="0.6"/>
<circle cx="485.3" cy="351.3" r="2.75" fill="#2aa5dc" stroke="#1b5c80" stroke-width="0.6"/>
<circle cx="487.1" cy="334.8" r="2.75" fill="#2aa5dc" stroke="#1b5c80" stroke-width="0.6"/>
<circle cx="449.8" cy="342.3" r="2.75" fill="#2aa5dc" stroke="#1b5c80" stroke-width="0.6"/>
<circle cx="472.1" cy="350.1" r="2.75" fill="#2aa5dc" stroke="#1b5c80" stroke-width="0.6"/>
<circle cx="450.5" cy="332.4" r="2.75" fill="#2aa5dc" stroke="#1b5c80" stroke-width="0.6"/>
<circle cx="460.6" cy="338.5" r="2.75" fill="#2aa5dc" stroke="#1b5c80" stroke-width="0.6"/>
<circle cx="487.1" cy="351.2" r="2.75" fill="#2aa5dc" stroke="#1b5c80" stroke-width="0.6"/>
<circle cx="463.8" cy="344.4" r="2.75" fill="#2aa5dc" stroke="#1b5c80" stroke-width="0.6"/>
<circle cx="486.8" cy="353.8" r="2.75" fill="#2aa5dc" stroke="#1b5c80" stroke-width="0.6"/>
<circle cx="458.7" cy="339.7" r="2.75" fill="#2aa5dc" stroke="#1b5c80" stroke-width="0.6"/>
<circle cx="474.8" cy="343.0" r="2.75" fill="#2aa5dc" stroke="#1b5c80" stroke-width="0.6"/>
<circle cx="482.6" cy="331.3" r="2.75" fill="#2aa5dc" stroke="#1b5c80" stroke-width="0.6"/>
<circle cx="453.0" cy="269.4" r="2.75" fill="#2aa5dc" stroke="#1b5c80" stroke-width="0.6"/>
<circle cx="474.0" cy="284.0" r="2.75" fill="#2aa5dc" stroke="#1b5c80" stroke-width="0.6"/>
<circle cx="482.6" cy="284.0" r="2.75" fill="#2aa5dc" stroke="#1b5c80" stroke-width="0.6"/>
<circle cx="487.2" cy="296.0" r="2.75" fill="#2aa5dc" stroke="#1b5c80" stroke-width="0.6"/>
<circle cx="490.5" cy="302.2" r="2.75" fill="#2aa5dc" stroke="#1b5c80" stroke-width="0.6"/>
<circle cx="452.8" cy="300.7" r="2.75" fill="#2aa5dc" stroke="#1b5c80" stroke-width="0.6"/>
<circle cx="490.4" cy="302.2" r="2.75" fill="#2aa5dc" stroke="#1b5c80" stroke-width="0.6"/>
<circle cx="480.8" cy="305.9" r="2.75" fill="#2aa5dc" stroke="#1b5c80" stroke-width="0.6"/>
<circle cx="456.5" cy="311.8" r="2.75" fill="#2aa5dc" stroke="#1b5c80" stroke-width="0.6"/>
<circle cx="463.9" cy="315.5" r="2.75" fill="#2aa5dc" stroke="#1b5c80" stroke-width="0.6"/>
<circle cx="461.7" cy="320.6" r="2.75" fill="#2aa5dc" stroke="#1b5c80" stroke-width="0.6"/>
<circle cx="480.1" cy="314.0" r="2.75" fill="#2aa5dc" stroke="#1b5c80" stroke-width="0.6"/>
<circle cx="494.1" cy="313.0" r="2.75" fill="#2aa5dc" stroke="#1b5c80" stroke-width="0.6"/>
<circle cx="438.1" cy="320.6" r="2.75" fill="#2aa5dc" stroke="#1b5c80" stroke-width="0.6"/>
<circle cx="442.5" cy="322.8" r="2.75" fill="#2aa5dc" stroke="#1b5c80" stroke-width="0.6"/>
<circle cx="444.0" cy="326.5" r="2.75" fill="#2aa5dc" stroke="#1b5c80" stroke-width="0.6"/>
<circle cx="449.9" cy="325.8" r="2.75" fill="#2aa5dc" stroke="#1b5c80" stroke-width="0.6"/>
<circle cx="455.8" cy="322.8" r="2.75" fill="#2aa5dc" stroke="#1b5c80" stroke-width="0.6"/>
<circle cx="469.0" cy="321.4" r="2.75" fill="#2aa5dc" stroke="#1b5c80" stroke-width="0.6"/>
<circle cx="480.8" cy="320.6" r="2.75" fill="#2aa5dc" stroke="#1b5c80" stroke-width="0.6"/>
<circle cx="483.8" cy="323.6" r="2.75" fill="#2aa5dc" stroke="#1b5c80" stroke-width="0.6"/>
<circle cx="490.4" cy="321.8" r="2.75" fill="#2aa5dc" stroke="#1b5c80" stroke-width="0.6"/>
<circle cx="490.4" cy="329.5" r="2.75" fill="#2aa5dc" stroke="#1b5c80" stroke-width="0.6"/>
<circle cx="457.3" cy="328.0" r="2.75" fill="#2aa5dc" stroke="#1b5c80" stroke-width="0.6"/>
<circle cx="460.2" cy="332.4" r="2.75" fill="#2aa5dc" stroke="#1b5c80" stroke-width="0.6"/>
<circle cx="440.3" cy="332.4" r="2.75" fill="#2aa5dc" stroke="#1b5c80" stroke-width="0.6"/>
<circle cx="444.7" cy="333.2" r="2.75" fill="#2aa5dc" stroke="#1b5c80" stroke-width="0.6"/>
<circle cx="449.2" cy="332.4" r="2.75" fill="#2aa5dc" stroke="#1b5c80" stroke-width="0.6"/>
<circle cx="449.9" cy="336.8" r="2.75" fill="#2aa5dc" stroke="#1b5c80" stroke-width="0.6"/>
<circle cx="469.8" cy="334.6" r="2.75" fill="#2aa5dc" stroke="#1b5c80" stroke-width="0.6"/>
<circle cx="480.8" cy="338.0" r="2.75" fill="#2aa5dc" stroke="#1b5c80" stroke-width="0.6"/>
<circle cx="443.3" cy="342.7" r="2.75" fill="#2aa5dc" stroke="#1b5c80" stroke-width="0.6"/>
<circle cx="447.7" cy="344.2" r="2.75" fill="#2aa5dc" stroke="#1b5c80" stroke-width="0.6"/>
<circle cx="455.0" cy="342.0" r="2.75" fill="#2aa5dc" stroke="#1b5c80" stroke-width="0.6"/>
<circle cx="460.9" cy="338.3" r="2.75" fill="#2aa5dc" stroke="#1b5c80" stroke-width="0.6"/>
<circle cx="466.8" cy="341.3" r="2.75" fill="#2aa5dc" stroke="#1b5c80" stroke-width="0.6"/>
<circle cx="472.7" cy="343.0" r="2.75" fill="#2aa5dc" stroke="#1b5c80" stroke-width="0.6"/>
<circle cx="485.3" cy="343.9" r="2.75" fill="#2aa5dc" stroke="#1b5c80" stroke-width="0.6"/>
<circle cx="490.4" cy="346.4" r="2.75" fill="#2aa5dc" stroke="#1b5c80" stroke-width="0.6"/>
<circle cx="494.8" cy="348.3" r="2.75" fill="#2aa5dc" stroke="#1b5c80" stroke-width="0.6"/>
<circle cx="446.2" cy="348.6" r="2.75" fill="#2aa5dc" stroke="#1b5c80" stroke-width="0.6"/>
<circle cx="451.4" cy="348.6" r="2.75" fill="#2aa5dc" stroke="#1b5c80" stroke-width="0.6"/>
<circle cx="457.3" cy="347.9" r="2.75" fill="#2aa5dc" stroke="#1b5c80" stroke-width="0.6"/>
<circle cx="462.4" cy="347.2" r="2.75" fill="#2aa5dc" stroke="#1b5c80" stroke-width="0.6"/>
<circle cx="468.3" cy="347.2" r="2.75" fill="#2aa5dc" stroke="#1b5c80" stroke-width="0.6"/>
<circle cx="474.2" cy="349.4" r="2.75" fill="#2aa5dc" stroke="#1b5c80" stroke-width="0.6"/>
<circle cx="478.6" cy="350.8" r="2.75" fill="#2aa5dc" stroke="#1b5c80" stroke-width="0.6"/>
<circle cx="448.4" cy="352.3" r="2.75" fill="#2aa5dc" stroke="#1b5c80" stroke-width="0.6"/>
<circle cx="453.6" cy="350.8" r="2.75" fill="#2aa5dc" stroke="#1b5c80" stroke-width="0.6"/>
<circle cx="456.5" cy="355.7" r="2.75" fill="#2aa5dc" stroke="#1b5c80" stroke-width="0.6"/>
<circle cx="465.4" cy="355.7" r="2.75" fill="#2aa5dc" stroke="#1b5c80" stroke-width="0.6"/>
<circle cx="470.5" cy="355.7" r="2.75" fill="#2aa5dc" stroke="#1b5c80" stroke-width="0.6"/>
<circle cx="475.7" cy="358.2" r="2.75" fill="#2aa5dc" stroke="#1b5c80" stroke-width="0.6"/>
<circle cx="482.3" cy="357.5" r="2.75" fill="#2aa5dc" stroke="#1b5c80" stroke-width="0.6"/>
<circle cx="491.9" cy="356.7" r="2.75" fill="#2aa5dc" stroke="#1b5c80" stroke-width="0.6"/>
<circle cx="494.8" cy="358.9" r="2.75" fill="#2aa5dc" stroke="#1b5c80" stroke-width="0.6"/>
<circle cx="491.9" cy="363.7" r="2.75" fill="#2aa5dc" stroke="#1b5c80" stroke-width="0.6"/>
<circle cx="432.2" cy="361.9" r="2.75" fill="#2aa5dc" stroke="#1b5c80" stroke-width="0.6"/>
<circle cx="459.5" cy="344.2" r="2.75" fill="#2aa5dc" stroke="#1b5c80" stroke-width="0.6"/>
<circle cx="465.4" cy="344.2" r="2.75" fill="#2aa5dc" stroke="#1b5c80" stroke-width="0.6"/>
<circle cx="471.3" cy="339.8" r="2.75" fill="#2aa5dc" stroke="#1b5c80" stroke-width="0.6"/>
<circle cx="452.1" cy="342.7" r="2.75" fill="#2aa5dc" stroke="#1b5c80" stroke-width="0.6"/>
<circle cx="424.8" cy="351.0" r="2.75" fill="#2aa5dc" stroke="#1b5c80" stroke-width="0.6"/>
<circle cx="429.7" cy="365.6" r="2.75" fill="#2aa5dc" stroke="#1b5c80" stroke-width="0.6"/>
<circle cx="427.4" cy="369.4" r="2.75" fill="#2aa5dc" stroke="#1b5c80" stroke-width="0.6"/>
<circle cx="428.3" cy="374.1" r="2.75" fill="#2aa5dc" stroke="#1b5c80" stroke-width="0.6"/>
<circle cx="418.9" cy="377.0" r="2.75" fill="#2aa5dc" stroke="#1b5c80" stroke-width="0.6"/>
<circle cx="423.2" cy="377.9" r="2.75" fill="#2aa5dc" stroke="#1b5c80" stroke-width="0.6"/>
<circle cx="411.3" cy="379.4" r="2.75" fill="#2aa5dc" stroke="#1b5c80" stroke-width="0.6"/>
<circle cx="413.2" cy="382.0" r="2.75" fill="#2aa5dc" stroke="#1b5c80" stroke-width="0.6"/>
<circle cx="417.0" cy="383.2" r="2.75" fill="#2aa5dc" stroke="#1b5c80" stroke-width="0.6"/>
<circle cx="419.8" cy="381.7" r="2.75" fill="#2aa5dc" stroke="#1b5c80" stroke-width="0.6"/>
<circle cx="419.8" cy="385.5" r="2.75" fill="#2aa5dc" stroke="#1b5c80" stroke-width="0.6"/>
<circle cx="428.3" cy="379.8" r="2.75" fill="#2aa5dc" stroke="#1b5c80" stroke-width="0.6"/>
<circle cx="427.8" cy="383.2" r="2.75" fill="#2aa5dc" stroke="#1b5c80" stroke-width="0.6"/>
<circle cx="433.1" cy="380.2" r="2.75" fill="#2aa5dc" stroke="#1b5c80" stroke-width="0.6"/>
<circle cx="434.0" cy="377.0" r="2.75" fill="#2aa5dc" stroke="#1b5c80" stroke-width="0.6"/>
<circle cx="433.0" cy="384.5" r="2.75" fill="#2aa5dc" stroke="#1b5c80" stroke-width="0.6"/>
<circle cx="443.5" cy="377.5" r="2.75" fill="#2aa5dc" stroke="#1b5c80" stroke-width="0.6"/>
<circle cx="440.7" cy="379.8" r="2.75" fill="#2aa5dc" stroke="#1b5c80" stroke-width="0.6"/>
<circle cx="458.3" cy="383.6" r="2.75" fill="#2aa5dc" stroke="#1b5c80" stroke-width="0.6"/>
<circle cx="470.0" cy="376.4" r="2.75" fill="#2aa5dc" stroke="#1b5c80" stroke-width="0.6"/>
<circle cx="468.2" cy="380.2" r="2.75" fill="#2aa5dc" stroke="#1b5c80" stroke-width="0.6"/>
<circle cx="472.0" cy="380.2" r="2.75" fill="#2aa5dc" stroke="#1b5c80" stroke-width="0.6"/>
<circle cx="541.8" cy="313.1" r="2.75" fill="#e65a28" stroke="#b54a20" stroke-width="0.3"/>
<circle cx="544.3" cy="336.6" r="2.75" fill="#e65a28" stroke="#b54a20" stroke-width="0.3"/>
<circle cx="552.6" cy="338.4" r="2.75" fill="#e65a28" stroke="#b54a20" stroke-width="0.3"/>
<circle cx="521.6" cy="348.7" r="2.75" fill="#e65a28" stroke="#b54a20" stroke-width="0.3"/>
<circle cx="526.6" cy="350.0" r="2.75" fill="#e65a28" stroke="#b54a20" stroke-width="0.3"/>
<circle cx="526.6" cy="353.0" r="2.75" fill="#e65a28" stroke="#b54a20" stroke-width="0.3"/>
<circle cx="534.2" cy="348.7" r="2.75" fill="#e65a28" stroke="#b54a20" stroke-width="0.3"/>
<circle cx="532.4" cy="352.5" r="2.75" fill="#e65a28" stroke="#b54a20" stroke-width="0.3"/>
<circle cx="540.5" cy="347.2" r="2.75" fill="#e65a28" stroke="#b54a20" stroke-width="0.3"/>
<circle cx="541.8" cy="353.0" r="2.75" fill="#e65a28" stroke="#b54a20" stroke-width="0.3"/>
<circle cx="545.0" cy="351.8" r="2.75" fill="#e65a28" stroke="#b54a20" stroke-width="0.3"/>
<circle cx="552.6" cy="351.3" r="2.75" fill="#e65a28" stroke="#b54a20" stroke-width="0.3"/>
<circle cx="561.2" cy="351.0" r="2.75" fill="#e65a28" stroke="#b54a20" stroke-width="0.3"/>
<circle cx="545.0" cy="359.8" r="2.75" fill="#e65a28" stroke="#b54a20" stroke-width="0.3"/>
<circle cx="540.5" cy="362.6" r="2.75" fill="#e65a28" stroke="#b54a20" stroke-width="0.3"/>
<circle cx="539.2" cy="366.2" r="2.75" fill="#e65a28" stroke="#b54a20" stroke-width="0.3"/>
<circle cx="536.7" cy="368.2" r="2.75" fill="#e65a28" stroke="#b54a20" stroke-width="0.3"/>
<circle cx="508.9" cy="375.0" r="2.75" fill="#e65a28" stroke="#b54a20" stroke-width="0.3"/>
<circle cx="514.0" cy="376.3" r="2.75" fill="#e65a28" stroke="#b54a20" stroke-width="0.3"/>
<circle cx="518.3" cy="374.5" r="2.75" fill="#e65a28" stroke="#b54a20" stroke-width="0.3"/>
<circle cx="520.3" cy="377.8" r="2.75" fill="#e65a28" stroke="#b54a20" stroke-width="0.3"/>
<circle cx="526.6" cy="375.0" r="2.75" fill="#e65a28" stroke="#b54a20" stroke-width="0.3"/>
<circle cx="527.9" cy="378.3" r="2.75" fill="#e65a28" stroke="#b54a20" stroke-width="0.3"/>
<circle cx="531.7" cy="377.0" r="2.75" fill="#e65a28" stroke="#b54a20" stroke-width="0.3"/>
<circle cx="535.0" cy="380.3" r="2.75" fill="#e65a28" stroke="#b54a20" stroke-width="0.3"/>
<circle cx="536.7" cy="375.8" r="2.75" fill="#e65a28" stroke="#b54a20" stroke-width="0.3"/>
<circle cx="542.5" cy="373.7" r="2.75" fill="#e65a28" stroke="#b54a20" stroke-width="0.3"/>
<circle cx="540.5" cy="379.5" r="2.75" fill="#e65a28" stroke="#b54a20" stroke-width="0.3"/>
<circle cx="546.0" cy="377.0" r="2.75" fill="#e65a28" stroke="#b54a20" stroke-width="0.3"/>
<circle cx="526.6" cy="384.6" r="2.75" fill="#e65a28" stroke="#b54a20" stroke-width="0.3"/>
<circle cx="527.9" cy="389.6" r="2.75" fill="#e65a28" stroke="#b54a20" stroke-width="0.3"/>
<circle cx="535.5" cy="388.4" r="2.75" fill="#e65a28" stroke="#b54a20" stroke-width="0.3"/>
<circle cx="541.8" cy="385.9" r="2.75" fill="#e65a28" stroke="#b54a20" stroke-width="0.3"/>
<circle cx="540.5" cy="389.6" r="2.75" fill="#e65a28" stroke="#b54a20" stroke-width="0.3"/>
<circle cx="550.6" cy="389.6" r="2.75" fill="#e65a28" stroke="#b54a20" stroke-width="0.3"/>
<circle cx="552.6" cy="385.9" r="2.75" fill="#e65a28" stroke="#b54a20" stroke-width="0.3"/>
<circle cx="531.7" cy="394.0" r="2.75" fill="#e65a28" stroke="#b54a20" stroke-width="0.3"/>
<circle cx="534.2" cy="396.0" r="2.75" fill="#e65a28" stroke="#b54a20" stroke-width="0.3"/>
<circle cx="548.6" cy="394.2" r="2.75" fill="#e65a28" stroke="#b54a20" stroke-width="0.3"/>
<circle cx="541.8" cy="400.3" r="2.75" fill="#e65a28" stroke="#b54a20" stroke-width="0.3"/>
<circle cx="541.8" cy="406.6" r="2.75" fill="#e65a28" stroke="#b54a20" stroke-width="0.3"/>
<circle cx="638.0" cy="285.3" r="2.75" fill="#4aaa9b" stroke="#2f7d70" stroke-width="0.4"/>
<circle cx="640.1" cy="294.1" r="2.75" fill="#4aaa9b" stroke="#2f7d70" stroke-width="0.4"/>
<circle cx="641.4" cy="296.1" r="2.75" fill="#4aaa9b" stroke="#2f7d70" stroke-width="0.4"/>
<circle cx="628.0" cy="302.2" r="2.75" fill="#4aaa9b" stroke="#2f7d70" stroke-width="0.4"/>
<circle cx="623.7" cy="304.7" r="2.75" fill="#4aaa9b" stroke="#2f7d70" stroke-width="0.4"/>
<circle cx="638.0" cy="305.5" r="2.75" fill="#4aaa9b" stroke="#2f7d70" stroke-width="0.4"/>
<circle cx="629.2" cy="310.5" r="2.75" fill="#4aaa9b" stroke="#2f7d70" stroke-width="0.4"/>
<circle cx="633.5" cy="310.0" r="2.75" fill="#4aaa9b" stroke="#2f7d70" stroke-width="0.4"/>
<circle cx="638.6" cy="310.5" r="2.75" fill="#4aaa9b" stroke="#2f7d70" stroke-width="0.4"/>
<circle cx="630.0" cy="317.6" r="2.75" fill="#4aaa9b" stroke="#2f7d70" stroke-width="0.4"/>
<circle cx="635.0" cy="320.6" r="2.75" fill="#4aaa9b" stroke="#2f7d70" stroke-width="0.4"/>
<circle cx="637.6" cy="321.4" r="2.75" fill="#4aaa9b" stroke="#2f7d70" stroke-width="0.4"/>
<circle cx="641.4" cy="319.3" r="2.75" fill="#4aaa9b" stroke="#2f7d70" stroke-width="0.4"/>
<circle cx="633.8" cy="328.2" r="2.75" fill="#4aaa9b" stroke="#2f7d70" stroke-width="0.4"/>
<circle cx="619.9" cy="329.4" r="2.75" fill="#4aaa9b" stroke="#2f7d70" stroke-width="0.4"/>
<circle cx="646.4" cy="342.8" r="2.75" fill="#4aaa9b" stroke="#2f7d70" stroke-width="0.4"/>
<circle cx="612.0" cy="342.8" r="2.75" fill="#4aaa9b" stroke="#2f7d70" stroke-width="0.4"/>
<circle cx="600.2" cy="348.9" r="2.75" fill="#4aaa9b" stroke="#2f7d70" stroke-width="0.4"/>
<circle cx="599.7" cy="352.2" r="2.75" fill="#4aaa9b" stroke="#2f7d70" stroke-width="0.4"/>
<circle cx="599.7" cy="356.0" r="2.75" fill="#4aaa9b" stroke="#2f7d70" stroke-width="0.4"/>
<circle cx="599.0" cy="363.5" r="2.75" fill="#4aaa9b" stroke="#2f7d70" stroke-width="0.4"/>
<circle cx="607.3" cy="363.0" r="2.75" fill="#4aaa9b" stroke="#2f7d70" stroke-width="0.4"/>
<circle cx="609.0" cy="351.0" r="2.75" fill="#4aaa9b" stroke="#2f7d70" stroke-width="0.4"/>
<circle cx="612.8" cy="347.1" r="2.75" fill="#4aaa9b" stroke="#2f7d70" stroke-width="0.4"/>
<circle cx="617.4" cy="347.9" r="2.75" fill="#4aaa9b" stroke="#2f7d70" stroke-width="0.4"/>
<circle cx="621.7" cy="348.4" r="2.75" fill="#4aaa9b" stroke="#2f7d70" stroke-width="0.4"/>
<circle cx="624.2" cy="350.4" r="2.75" fill="#4aaa9b" stroke="#2f7d70" stroke-width="0.4"/>
<circle cx="612.8" cy="353.4" r="2.75" fill="#4aaa9b" stroke="#2f7d70" stroke-width="0.4"/>
<circle cx="617.9" cy="352.2" r="2.75" fill="#4aaa9b" stroke="#2f7d70" stroke-width="0.4"/>
<circle cx="626.2" cy="354.7" r="2.75" fill="#4aaa9b" stroke="#2f7d70" stroke-width="0.4"/>
<circle cx="610.3" cy="355.5" r="2.75" fill="#4aaa9b" stroke="#2f7d70" stroke-width="0.4"/>
<circle cx="615.4" cy="356.5" r="2.75" fill="#4aaa9b" stroke="#2f7d70" stroke-width="0.4"/>
<circle cx="620.4" cy="357.2" r="2.75" fill="#4aaa9b" stroke="#2f7d70" stroke-width="0.4"/>
<circle cx="614.1" cy="361.0" r="2.75" fill="#4aaa9b" stroke="#2f7d70" stroke-width="0.4"/>
<circle cx="619.1" cy="361.0" r="2.75" fill="#4aaa9b" stroke="#2f7d70" stroke-width="0.4"/>
<circle cx="625.5" cy="361.0" r="2.75" fill="#4aaa9b" stroke="#2f7d70" stroke-width="0.4"/>
<circle cx="616.6" cy="363.0" r="2.75" fill="#4aaa9b" stroke="#2f7d70" stroke-width="0.4"/>
<circle cx="621.7" cy="363.0" r="2.75" fill="#4aaa9b" stroke="#2f7d70" stroke-width="0.4"/>
<circle cx="620.4" cy="367.3" r="2.75" fill="#4aaa9b" stroke="#2f7d70" stroke-width="0.4"/>
<circle cx="605.0" cy="346.0" r="2.75" fill="#4aaa9b" stroke="#2f7d70" stroke-width="0.4"/>
<circle cx="603.0" cy="358.0" r="2.75" fill="#4aaa9b" stroke="#2f7d70" stroke-width="0.4"/>
<rect x="376.9" y="254.7" width="305.4" height="191.0" fill="none" stroke="#666" stroke-width="1"/>
<path d="M376.9,430.7 h-4 M376.9,414.6 h-4 M376.9,398.6 h-4 M376.9,382.5 h-4 M376.9,366.4 h-4 M376.9,350.3 h-4 M376.9,334.2 h-4 M376.9,318.2 h-4 M376.9,302.1 h-4 M376.9,286.0 h-4 M376.9,269.9 h-4" stroke="#555" stroke-width="0.8" fill="none"/>
<text x="369.3" y="433.3" font-size="10.00" text-anchor="end" fill="#111111" stroke="#111111" stroke-width="0.1" font-weight="normal" >-4</text>
<text x="369.3" y="417.2" font-size="10.00" text-anchor="end" fill="#111111" stroke="#111111" stroke-width="0.1" font-weight="normal" >-3</text>
<text x="369.3" y="401.2" font-size="10.00" text-anchor="end" fill="#111111" stroke="#111111" stroke-width="0.1" font-weight="normal" >-2</text>
<text x="369.3" y="385.1" font-size="10.00" text-anchor="end" fill="#111111" stroke="#111111" stroke-width="0.1" font-weight="normal" >-1</text>
<text x="369.3" y="369.0" font-size="10.00" text-anchor="end" fill="#111111" stroke="#111111" stroke-width="0.1" font-weight="normal" >0</text>
<text x="369.3" y="352.9" font-size="10.00" text-anchor="end" fill="#111111" stroke="#111111" stroke-width="0.1" font-weight="normal" >1</text>
<text x="369.3" y="336.8" font-size="10.00" text-anchor="end" fill="#111111" stroke="#111111" stroke-width="0.1" font-weight="normal" >2</text>
<text x="369.3" y="320.8" font-size="10.00" text-anchor="end" fill="#111111" stroke="#111111" stroke-width="0.1" font-weight="normal" >3</text>
<text x="369.3" y="304.7" font-size="10.00" text-anchor="end" fill="#111111" stroke="#111111" stroke-width="0.1" font-weight="normal" >4</text>
<text x="369.3" y="288.6" font-size="10.00" text-anchor="end" fill="#111111" stroke="#111111" stroke-width="0.1" font-weight="normal" >5</text>
<text x="369.3" y="272.5" font-size="10.00" text-anchor="end" fill="#111111" stroke="#111111" stroke-width="0.1" font-weight="normal" >6</text>
<text x="420.0" y="460.3" font-size="10.00" text-anchor="middle" fill="#111111" stroke="#111111" stroke-width="0.1" font-weight="normal" >1750</text>
<text x="461.9" y="460.3" font-size="10.00" text-anchor="middle" fill="#111111" stroke="#111111" stroke-width="0.1" font-weight="normal" >1800</text>
<text x="503.9" y="460.3" font-size="10.00" text-anchor="middle" fill="#111111" stroke="#111111" stroke-width="0.1" font-weight="normal" >1850</text>
<text x="545.8" y="460.3" font-size="10.00" text-anchor="middle" fill="#111111" stroke="#111111" stroke-width="0.1" font-weight="normal" >1900</text>
<text x="587.8" y="460.3" font-size="10.00" text-anchor="middle" fill="#111111" stroke="#111111" stroke-width="0.1" font-weight="normal" >1950</text>
<text x="629.7" y="460.3" font-size="10.00" text-anchor="middle" fill="#d0409a" stroke="#d0409a" stroke-width="0.1" font-weight="normal" >2000</text>
<path d="M420.0,445.7 v3 M461.9,445.7 v3 M503.9,445.7 v3 M545.8,445.7 v3 M587.8,445.7 v3 M629.7,445.7 v3" stroke="#555" stroke-width="0.8" fill="none"/>
<text x="441.0" y="443.5" font-size="9.00" text-anchor="start" fill="#d0409a" stroke="#d0409a" stroke-width="0.1" font-weight="normal" textLength="35.0" lengthAdjust="spacingAndGlyphs" >1770 Ma</text>
<text x="506.0" y="472.5" font-size="9.00" text-anchor="start" fill="#111111" stroke="#111111" stroke-width="0.1" font-weight="normal" textLength="39.0" lengthAdjust="spacingAndGlyphs" >Age (Ma)</text>
<text x="0.0" y="0.0" font-size="9.50" text-anchor="middle" fill="#111111" stroke="#111111" stroke-width="0.1" font-weight="normal" transform="translate(352.2 351) rotate(-90)">Δ QFM</text>
<text x="675.3" y="265.8" font-size="9.50" text-anchor="middle" fill="#111111" stroke="#111111" stroke-width="0.1" font-weight="bold" >D</text>
</g></svg></body></html>
